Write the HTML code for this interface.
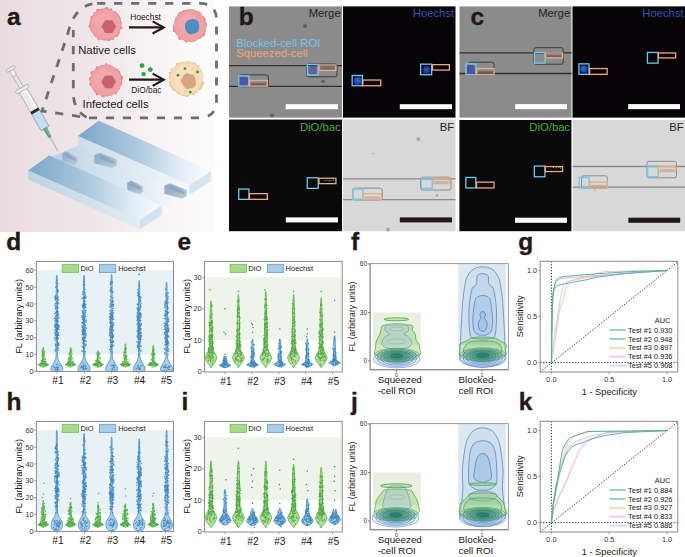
<!DOCTYPE html>
<html><head><meta charset="utf-8"><style>
html,body{margin:0;padding:0;background:#fff;}
svg{display:block;}
text{font-family:"Liberation Sans", sans-serif;}
</style></head><body>
<svg width="685" height="557" viewBox="0 0 685 557">
<defs>
<linearGradient id="bgA" x1="0" y1="0" x2="1" y2="0"><stop offset="0" stop-color="#e9dce0"/><stop offset="0.45" stop-color="#f0e7e9"/><stop offset="0.8" stop-color="#f9f6f7"/><stop offset="1" stop-color="#fdfcfc"/></linearGradient>
<linearGradient id="barTop" x1="0" y1="0" x2="1" y2="0"><stop offset="0" stop-color="#8fb6d2"/><stop offset="1" stop-color="#eef4f8"/></linearGradient>
<linearGradient id="barSide" x1="0" y1="0" x2="1" y2="0"><stop offset="0" stop-color="#b7d0e2"/><stop offset="1" stop-color="#f4f8fb"/></linearGradient>
<linearGradient id="floor" x1="0" y1="0" x2="1" y2="0"><stop offset="0" stop-color="#c4d9e8"/><stop offset="1" stop-color="#f4f8fb"/></linearGradient>
<radialGradient id="nucB" cx="0.45" cy="0.45" r="0.55"><stop offset="0" stop-color="#3a6ae0"/><stop offset="0.6" stop-color="#2550b8"/><stop offset="1" stop-color="#1a3a90"/></radialGradient>
</defs>
<rect x="0.00" y="0.00" width="214.00" height="232.00" fill="url(#bgA)" stroke="none" stroke-width="1" />
<rect x="229.00" y="6.40" width="113.00" height="111.20" fill="#8b8b8b" stroke="none" stroke-width="1" />
<line x1="229.00" y1="65.60" x2="342.00" y2="65.60" stroke="#2e2e2e" stroke-width="1.3" />
<line x1="229.00" y1="86.40" x2="342.00" y2="86.40" stroke="#2e2e2e" stroke-width="1.3" />
<rect x="238.9" y="74.9" width="29.4" height="11.8" rx="2.2" fill="none" stroke="#3a3a3a" stroke-width="1"/>
<rect x="306.5" y="64.0" width="30.5" height="12.8" rx="2.2" fill="none" stroke="#3a3a3a" stroke-width="1"/>
<rect x="250.8" y="83.1" width="15.2" height="2.3" fill="#4a4a4a" opacity="0.55"/>
<rect x="320.4" y="67.5" width="14.2" height="2.2" fill="#4a4a4a" opacity="0.55"/>
<circle cx="305.0" cy="26.0" r="2.0" fill="#555" opacity="0.8"/>
<circle cx="323.0" cy="81.4" r="1.8" fill="#555" opacity="0.8"/>
<circle cx="272.0" cy="115.4" r="2" fill="#555" opacity="0.8"/>
<rect x="239.5" y="76.7" width="8.6" height="8.6" rx="2.3" fill="#4446b4" opacity="0.80"/>
<rect x="308.6" y="65.9" width="8.2" height="8.2" rx="2.2" fill="#4446b4" opacity="0.60"/>
<text x="340.70" y="17.40" font-size="11.3" fill="#2b2020" text-anchor="end" font-weight="normal" >Merge</text>
<rect x="285.80" y="104.20" width="52.20" height="5.00" fill="#ffffff" stroke="none" stroke-width="1" />
<rect x="238.75" y="75.85" width="10.20" height="10.30" fill="none" stroke="#6ec8ef" stroke-width="1.3" />
<rect x="249.45" y="80.45" width="17.90" height="5.70" fill="none" stroke="#f0a77c" stroke-width="1.3" />
<rect x="307.25" y="64.55" width="11.00" height="10.60" fill="none" stroke="#6ec8ef" stroke-width="1.3" />
<rect x="319.05" y="65.05" width="16.90" height="5.40" fill="none" stroke="#f0a77c" stroke-width="1.3" />
<rect x="343.00" y="6.40" width="112.50" height="111.20" fill="#060406" stroke="none" stroke-width="1" />
<circle cx="357.8" cy="81.0" r="4.9" fill="#142a70" opacity="0.90"/>
<circle cx="357.8" cy="81.0" r="3.7" fill="url(#nucB)" opacity="1.00"/>
<circle cx="426.7" cy="70.0" r="4.7" fill="#142a70" opacity="0.68"/>
<circle cx="426.7" cy="70.0" r="3.5" fill="url(#nucB)" opacity="0.75"/>
<text x="454.20" y="17.40" font-size="11.3" fill="#2f55b0" text-anchor="end" font-weight="normal" >Hoechst</text>
<rect x="399.80" y="104.20" width="52.20" height="5.00" fill="#ffffff" stroke="none" stroke-width="1" />
<rect x="352.15" y="75.45" width="10.20" height="10.30" fill="none" stroke="#6ec8ef" stroke-width="1.3" />
<rect x="362.85" y="80.05" width="17.90" height="5.70" fill="none" stroke="#f0a77c" stroke-width="1.3" />
<rect x="420.65" y="64.15" width="11.00" height="10.60" fill="none" stroke="#6ec8ef" stroke-width="1.3" />
<rect x="432.45" y="64.65" width="16.90" height="5.40" fill="none" stroke="#f0a77c" stroke-width="1.3" />
<rect x="229.00" y="119.60" width="113.00" height="111.60" fill="#080908" stroke="none" stroke-width="1" />
<circle cx="325.0" cy="180.6" r="0.7" fill="#3fbf3a"/>
<circle cx="327.0" cy="180.1" r="0.7" fill="#3fbf3a"/>
<circle cx="329.0" cy="180.8" r="0.7" fill="#3fbf3a"/>
<circle cx="331.0" cy="180.6" r="0.7" fill="#3fbf3a"/>
<circle cx="333.5" cy="180.2" r="0.7" fill="#3fbf3a"/>
<text x="340.70" y="130.60" font-size="11.3" fill="#4caf36" text-anchor="end" font-weight="normal" >DiO/bac</text>
<rect x="285.80" y="217.40" width="52.20" height="5.00" fill="#ffffff" stroke="none" stroke-width="1" />
<rect x="238.75" y="189.05" width="10.20" height="10.30" fill="none" stroke="#6ec8ef" stroke-width="1.3" />
<rect x="249.45" y="193.65" width="17.90" height="5.70" fill="none" stroke="#f0a77c" stroke-width="1.3" />
<rect x="307.25" y="177.75" width="11.00" height="10.60" fill="none" stroke="#6ec8ef" stroke-width="1.3" />
<rect x="319.05" y="178.25" width="16.90" height="5.40" fill="none" stroke="#f0a77c" stroke-width="1.3" />
<rect x="343.00" y="119.60" width="112.50" height="111.60" fill="#d8d8d8" stroke="none" stroke-width="1" />
<line x1="343.00" y1="178.80" x2="455.50" y2="178.80" stroke="#8a8a8a" stroke-width="1.3" />
<line x1="343.00" y1="199.60" x2="455.50" y2="199.60" stroke="#8a8a8a" stroke-width="1.3" />
<rect x="352.9" y="188.1" width="29.4" height="11.8" rx="2.2" fill="none" stroke="#8c8c8c" stroke-width="1"/>
<rect x="420.5" y="177.2" width="30.5" height="12.8" rx="2.2" fill="none" stroke="#8c8c8c" stroke-width="1"/>
<rect x="364.8" y="196.3" width="15.2" height="2.3" fill="#a0a0a0" opacity="0.55"/>
<rect x="434.4" y="180.8" width="14.2" height="2.2" fill="#a0a0a0" opacity="0.55"/>
<circle cx="418.3" cy="139.1" r="1.9" fill="#9a9a9a" opacity="0.8"/>
<circle cx="437.0" cy="195.6" r="1.4" fill="#9a9a9a" opacity="0.8"/>
<circle cx="388.0" cy="229.6" r="2" fill="#9a9a9a" opacity="0.8"/>
<circle cx="373.0" cy="153.6" r="0.8" fill="#9a9a9a" opacity="0.8"/>
<text x="454.20" y="130.60" font-size="11.3" fill="#2b2020" text-anchor="end" font-weight="normal" >BF</text>
<rect x="399.80" y="217.40" width="52.20" height="5.00" fill="#231815" stroke="none" stroke-width="1" />
<rect x="352.75" y="189.05" width="10.20" height="10.30" fill="none" stroke="#6ec8ef" stroke-width="1.3" />
<rect x="363.45" y="193.65" width="17.90" height="5.70" fill="none" stroke="#f0a77c" stroke-width="1.3" />
<rect x="421.25" y="177.75" width="11.00" height="10.60" fill="none" stroke="#6ec8ef" stroke-width="1.3" />
<rect x="433.05" y="178.25" width="16.90" height="5.40" fill="none" stroke="#f0a77c" stroke-width="1.3" />
<rect x="459.50" y="6.40" width="112.00" height="111.20" fill="#8b8b8b" stroke="none" stroke-width="1" />
<line x1="459.50" y1="52.90" x2="571.50" y2="52.90" stroke="#2e2e2e" stroke-width="1.3" />
<line x1="459.50" y1="73.50" x2="571.50" y2="73.50" stroke="#2e2e2e" stroke-width="1.3" />
<rect x="468.4" y="62.2" width="25.7" height="12.3" rx="2.2" fill="none" stroke="#3a3a3a" stroke-width="1"/>
<rect x="533.8" y="47.7" width="29.5" height="16.5" rx="2.2" fill="none" stroke="#3a3a3a" stroke-width="1"/>
<rect x="478.0" y="71.2" width="14.8" height="2.3" fill="#4a4a4a" opacity="0.55"/>
<rect x="546.7" y="55.2" width="14.6" height="2.0" fill="#4a4a4a" opacity="0.55"/>
<rect x="466.9" y="65.0" width="8.2" height="8.2" rx="2.2" fill="#4446b4" opacity="0.80"/>
<text x="570.20" y="17.40" font-size="11.3" fill="#2b2020" text-anchor="end" font-weight="normal" >Merge</text>
<rect x="515.20" y="104.10" width="51.80" height="5.10" fill="#ffffff" stroke="none" stroke-width="1" />
<rect x="465.95" y="63.85" width="10.00" height="10.50" fill="none" stroke="#6ec8ef" stroke-width="1.3" />
<rect x="476.65" y="68.55" width="17.50" height="5.80" fill="none" stroke="#f0a77c" stroke-width="1.3" />
<rect x="534.45" y="52.45" width="10.60" height="10.70" fill="none" stroke="#6ec8ef" stroke-width="1.3" />
<rect x="545.35" y="52.95" width="17.30" height="5.00" fill="none" stroke="#f0a77c" stroke-width="1.3" />
<rect x="572.50" y="6.40" width="112.50" height="111.20" fill="#060406" stroke="none" stroke-width="1" />
<circle cx="584.0" cy="69.1" r="4.7" fill="#142a70" opacity="0.90"/>
<circle cx="584.0" cy="69.1" r="3.5" fill="url(#nucB)" opacity="1.00"/>
<text x="683.70" y="17.40" font-size="11.3" fill="#2f55b0" text-anchor="end" font-weight="normal" >Hoechst</text>
<rect x="628.20" y="104.10" width="51.80" height="5.10" fill="#ffffff" stroke="none" stroke-width="1" />
<rect x="578.95" y="63.85" width="10.00" height="10.50" fill="none" stroke="#6ec8ef" stroke-width="1.3" />
<rect x="589.65" y="68.55" width="17.50" height="5.80" fill="none" stroke="#f0a77c" stroke-width="1.3" />
<rect x="647.45" y="52.45" width="10.60" height="10.70" fill="none" stroke="#6ec8ef" stroke-width="1.3" />
<rect x="658.35" y="52.95" width="17.30" height="5.00" fill="none" stroke="#f0a77c" stroke-width="1.3" />
<rect x="459.40" y="120.00" width="112.00" height="111.20" fill="#080908" stroke="none" stroke-width="1" />
<circle cx="553.4" cy="167.5" r="0.7" fill="#3fbf3a"/>
<circle cx="556.4" cy="167.8" r="0.7" fill="#3fbf3a"/>
<circle cx="558.9" cy="167.2" r="0.7" fill="#3fbf3a"/>
<circle cx="560.4" cy="168.0" r="0.7" fill="#3fbf3a"/>
<text x="570.10" y="131.00" font-size="11.3" fill="#4caf36" text-anchor="end" font-weight="normal" >DiO/bac</text>
<rect x="515.10" y="217.70" width="51.80" height="5.10" fill="#ffffff" stroke="none" stroke-width="1" />
<rect x="465.85" y="177.45" width="10.00" height="10.50" fill="none" stroke="#6ec8ef" stroke-width="1.3" />
<rect x="476.55" y="182.15" width="17.50" height="5.80" fill="none" stroke="#f0a77c" stroke-width="1.3" />
<rect x="534.35" y="166.05" width="10.60" height="10.70" fill="none" stroke="#6ec8ef" stroke-width="1.3" />
<rect x="545.25" y="166.55" width="17.30" height="5.00" fill="none" stroke="#f0a77c" stroke-width="1.3" />
<rect x="572.70" y="120.00" width="112.30" height="111.20" fill="#d8d8d8" stroke="none" stroke-width="1" />
<line x1="572.70" y1="166.50" x2="685.00" y2="166.50" stroke="#8a8a8a" stroke-width="1.3" />
<line x1="572.70" y1="187.10" x2="685.00" y2="187.10" stroke="#8a8a8a" stroke-width="1.3" />
<rect x="581.6" y="175.8" width="25.7" height="12.3" rx="2.2" fill="none" stroke="#8c8c8c" stroke-width="1"/>
<rect x="647.0" y="161.3" width="29.5" height="16.5" rx="2.2" fill="none" stroke="#8c8c8c" stroke-width="1"/>
<rect x="591.2" y="184.9" width="14.8" height="2.3" fill="#a0a0a0" opacity="0.55"/>
<rect x="659.9" y="168.9" width="14.6" height="1.9" fill="#a0a0a0" opacity="0.55"/>
<circle cx="594.7" cy="190.0" r="0.8" fill="#9a9a9a" opacity="0.8"/>
<text x="683.70" y="131.00" font-size="11.3" fill="#2b2020" text-anchor="end" font-weight="normal" >BF</text>
<rect x="628.40" y="217.70" width="51.80" height="5.10" fill="#231815" stroke="none" stroke-width="1" />
<rect x="579.15" y="177.45" width="10.00" height="10.50" fill="none" stroke="#6ec8ef" stroke-width="1.3" />
<rect x="589.85" y="182.15" width="17.50" height="5.80" fill="none" stroke="#f0a77c" stroke-width="1.3" />
<rect x="647.65" y="166.05" width="10.60" height="10.70" fill="none" stroke="#6ec8ef" stroke-width="1.3" />
<rect x="658.55" y="166.55" width="17.30" height="5.00" fill="none" stroke="#f0a77c" stroke-width="1.3" />
<text x="236.20" y="47.30" font-size="11.3" fill="#72c6ec" text-anchor="start" font-weight="normal" >Blocked-cell ROI</text>
<text x="236.20" y="56.60" font-size="11.3" fill="#eea679" text-anchor="start" font-weight="normal" >Squeezed-cell</text>
<text x="7.00" y="25.00" font-size="24.5" fill="#231815" text-anchor="start" font-weight="bold" stroke="#231815" stroke-width="0.35">a</text>
<text x="238.70" y="25.00" font-size="24.5" fill="#231815" text-anchor="start" font-weight="bold" stroke="#231815" stroke-width="0.35">b</text>
<text x="470.60" y="25.00" font-size="24.5" fill="#231815" text-anchor="start" font-weight="bold" stroke="#231815" stroke-width="0.35">c</text>
<text x="6.30" y="250.00" font-size="24.5" fill="#231815" text-anchor="start" font-weight="bold" stroke="#231815" stroke-width="0.35">d</text>
<text x="177.50" y="250.00" font-size="24.5" fill="#231815" text-anchor="start" font-weight="bold" stroke="#231815" stroke-width="0.35">e</text>
<text x="350.90" y="250.00" font-size="24.5" fill="#231815" text-anchor="start" font-weight="bold" stroke="#231815" stroke-width="0.35">f</text>
<text x="518.20" y="250.00" font-size="24.5" fill="#231815" text-anchor="start" font-weight="bold" stroke="#231815" stroke-width="0.35">g</text>
<text x="6.50" y="410.00" font-size="24.5" fill="#231815" text-anchor="start" font-weight="bold" stroke="#231815" stroke-width="0.35">h</text>
<text x="181.40" y="410.00" font-size="24.5" fill="#231815" text-anchor="start" font-weight="bold" stroke="#231815" stroke-width="0.35">i</text>
<text x="351.00" y="410.00" font-size="24.5" fill="#231815" text-anchor="start" font-weight="bold" stroke="#231815" stroke-width="0.35">j</text>
<text x="518.70" y="410.00" font-size="24.5" fill="#231815" text-anchor="start" font-weight="bold" stroke="#231815" stroke-width="0.35">k</text>
<rect x="36.90" y="270.20" width="136.10" height="84.25" fill="#e8f1f5" stroke="none" stroke-width="1" />
<path d="M61.30 371.47 L62.60 370.46 L62.80 368.77 L62.40 367.09 L61.00 364.56 L59.40 362.03 L58.20 359.50 L57.60 356.98 L57.40 352.76 L57.50 337.60 L57.50 303.90 L57.20 276.94 L56.80 275.25 L56.80 275.25 L56.40 276.94 L56.10 303.90 L56.10 337.60 L56.20 352.76 L56.00 356.98 L55.40 359.50 L54.20 362.03 L52.60 364.56 L51.20 367.09 L50.80 368.77 L51.00 370.46 L52.30 371.47Z" fill="#a9cde9" stroke="#4a8fc7" stroke-width="0.8" fill-opacity="1.0"/>
<path d="M58.3 321.6h.01M58.6 326.2h.01M56.7 320.2h.01M56.0 324.0h.01M55.5 307.6h.01M57.6 368.2h.01M58.7 314.2h.01M54.3 367.2h.01M57.7 289.6h.01M54.6 318.7h.01M55.5 351.0h.01M55.6 346.0h.01M57.6 335.6h.01M55.7 369.7h.01M56.1 323.6h.01M57.3 324.6h.01M55.0 326.6h.01M57.3 280.2h.01M55.2 303.9h.01M56.8 332.7h.01M55.7 333.7h.01M54.8 367.5h.01M56.9 329.1h.01M56.5 329.7h.01M56.3 303.3h.01M56.2 367.0h.01M56.9 286.4h.01M55.3 344.9h.01M55.5 308.6h.01M57.4 343.8h.01M57.3 289.7h.01M56.9 341.8h.01M58.4 342.9h.01M57.4 364.3h.01M58.4 338.6h.01M55.6 327.0h.01M57.9 311.8h.01M58.2 317.1h.01M58.6 328.2h.01M56.0 334.5h.01M56.0 306.8h.01M58.5 299.8h.01M55.5 329.4h.01M59.1 317.3h.01M57.9 283.9h.01M55.2 335.0h.01M55.6 332.1h.01M57.8 344.9h.01M55.2 369.0h.01M55.0 330.3h.01M58.0 290.6h.01M56.4 320.9h.01M58.1 338.3h.01M55.3 297.3h.01M56.4 335.3h.01M57.6 311.3h.01M54.6 337.7h.01M55.6 300.1h.01M57.6 328.2h.01M58.6 347.9h.01M58.9 335.8h.01M55.1 335.0h.01M56.8 319.7h.01M58.0 338.7h.01M56.8 345.2h.01M57.7 321.7h.01M55.4 318.8h.01M55.1 296.3h.01M55.1 350.8h.01M54.7 327.1h.01M57.2 368.6h.01M56.9 330.5h.01M57.1 341.0h.01M55.4 299.2h.01M55.4 316.4h.01M55.4 320.4h.01M58.3 348.3h.01M59.8 365.7h.01M58.7 350.1h.01M55.0 325.4h.01M54.8 332.5h.01M58.8 344.7h.01M56.6 311.5h.01M58.0 311.5h.01M56.1 307.6h.01M56.7 331.2h.01M56.9 298.2h.01M56.5 328.4h.01M57.2 301.8h.01M54.6 318.2h.01M57.7 320.5h.01M58.3 344.3h.01M56.0 282.4h.01M56.6 312.1h.01M57.8 311.6h.01M56.4 327.3h.01M55.4 344.1h.01M55.3 348.9h.01M56.9 325.5h.01M54.6 313.9h.01M58.6 318.8h.01M58.2 335.1h.01M58.1 369.3h.01M58.4 315.2h.01M57.4 339.0h.01M56.4 316.2h.01M57.2 299.1h.01M56.8 315.9h.01M59.0 327.8h.01M58.0 296.7h.01M55.7 329.8h.01M58.7 332.6h.01M57.9 324.7h.01M58.0 303.1h.01M57.9 292.0h.01M56.4 339.0h.01M58.6 334.3h.01M58.5 328.5h.01M57.7 324.9h.01M57.9 304.0h.01M58.0 326.8h.01M56.3 364.6h.01M58.3 367.3h.01M54.8 321.1h.01M56.1 307.7h.01M56.6 366.7h.01M53.6 366.5h.01M56.2 335.8h.01M57.4 347.1h.01M57.4 327.1h.01M55.6 316.5h.01M58.3 290.7h.01M57.5 337.5h.01M56.1 338.5h.01M57.6 370.6h.01M57.1 334.4h.01M56.9 314.0h.01M56.3 318.8h.01M59.1 329.4h.01M57.4 297.6h.01M58.1 367.5h.01M58.0 312.4h.01M59.0 326.7h.01M54.9 297.2h.01M57.3 321.2h.01M57.8 307.3h.01M55.7 326.3h.01M56.4 337.3h.01M54.9 305.6h.01M55.5 312.7h.01M56.3 298.2h.01M55.6 287.1h.01M55.7 307.7h.01M58.4 297.1h.01M57.0 331.3h.01M56.8 369.9h.01M58.9 325.2h.01M57.2 367.2h.01M59.0 345.6h.01M57.4 338.8h.01M58.1 308.0h.01M54.9 340.1h.01M57.2 312.4h.01M58.0 314.5h.01M54.7 324.9h.01M58.7 343.9h.01M55.2 323.3h.01M56.7 312.0h.01M55.3 323.5h.01M56.8 321.6h.01M57.3 329.9h.01M55.0 298.2h.01M58.7 303.0h.01M56.4 323.4h.01M56.9 337.5h.01M57.2 324.4h.01M56.2 349.2h.01M55.8 323.8h.01M57.5 307.0h.01M57.1 325.0h.01M55.8 345.4h.01M57.8 328.5h.01M56.0 295.6h.01M54.6 325.8h.01M55.6 327.6h.01" stroke="#2f7fc1" stroke-width="1.40" stroke-linecap="round" fill="none" opacity="0.85"/>
<path d="M43.30 367.59 L44.70 366.25 L47.50 365.23 L48.90 364.56 L47.50 363.89 L44.80 362.88 L44.10 361.19 L43.60 347.71 L43.30 347.04 L43.30 347.04 L43.00 347.71 L42.50 361.19 L41.80 362.88 L39.10 363.89 L37.70 364.56 L39.10 365.23 L41.90 366.25 L43.30 367.59Z" fill="#b3dd98" stroke="#5db54a" stroke-width="0.8" fill-opacity="1.0"/>
<path d="M43.7 363.8h.01M44.2 353.3h.01M39.8 365.3h.01M42.1 351.9h.01M44.9 363.4h.01M45.5 361.0h.01M42.3 350.6h.01M43.9 366.5h.01M41.4 360.6h.01M44.2 355.3h.01M44.7 364.3h.01M41.9 360.7h.01M40.7 364.8h.01M45.7 365.0h.01M43.4 357.9h.01M45.0 362.8h.01M42.7 361.1h.01M42.5 359.8h.01M44.6 351.5h.01M44.4 363.1h.01M43.2 364.6h.01M43.4 355.9h.01M44.6 361.8h.01M45.2 365.0h.01M45.3 358.4h.01M42.7 363.6h.01M45.7 365.6h.01M43.8 352.8h.01M46.0 365.5h.01M46.3 364.7h.01M46.6 364.5h.01M46.9 364.9h.01M46.6 363.7h.01M44.0 359.5h.01M43.4 361.7h.01M44.7 363.4h.01M46.3 364.6h.01M42.9 366.2h.01M42.6 364.1h.01M40.9 363.3h.01M44.9 362.9h.01M46.2 361.7h.01M43.1 349.5h.01M40.9 365.7h.01M42.1 356.6h.01M42.9 361.0h.01M41.2 364.6h.01M47.7 364.8h.01M39.8 365.5h.01M42.1 362.5h.01M39.7 364.9h.01M44.6 364.9h.01M45.9 364.8h.01M40.2 364.8h.01M40.4 365.8h.01M43.0 365.4h.01M44.1 364.3h.01M45.3 359.3h.01M42.0 352.0h.01M41.1 360.9h.01M41.3 362.4h.01M41.4 363.5h.01M42.5 352.2h.01M44.7 363.0h.01M43.9 361.7h.01M41.7 361.4h.01M41.2 363.5h.01M42.5 355.6h.01M42.1 354.8h.01M45.2 363.7h.01M42.7 353.8h.01M43.6 363.6h.01M44.9 359.3h.01M43.2 358.1h.01M41.2 365.0h.01" stroke="#3fa535" stroke-width="1.40" stroke-linecap="round" fill="none" opacity="0.8"/>
<path d="M88.60 371.47 L89.90 370.46 L90.10 368.77 L89.70 367.09 L88.30 364.56 L86.70 362.03 L85.50 359.50 L84.90 356.98 L84.70 352.76 L84.80 337.60 L84.80 303.90 L84.50 276.94 L84.10 275.25 L84.10 275.25 L83.70 276.94 L83.40 303.90 L83.40 337.60 L83.50 352.76 L83.30 356.98 L82.70 359.50 L81.50 362.03 L79.90 364.56 L78.50 367.09 L78.10 368.77 L78.30 370.46 L79.60 371.47Z" fill="#a9cde9" stroke="#4a8fc7" stroke-width="0.8" fill-opacity="1.0"/>
<path d="M85.9 296.7h.01M82.6 322.3h.01M85.4 325.4h.01M82.6 346.8h.01M84.6 307.0h.01M82.9 323.2h.01M83.8 334.3h.01M85.3 316.4h.01M85.3 351.8h.01M85.4 330.3h.01M82.9 313.0h.01M84.1 339.6h.01M82.8 332.4h.01M84.4 301.3h.01M84.1 317.5h.01M82.0 334.6h.01M84.5 340.0h.01M84.9 354.6h.01M84.4 303.4h.01M85.8 344.2h.01M82.7 312.8h.01M81.8 367.6h.01M81.9 326.0h.01M84.1 320.2h.01M83.8 333.2h.01M83.8 328.4h.01M83.0 343.6h.01M85.4 337.1h.01M82.1 323.3h.01M85.8 304.5h.01M84.4 332.9h.01M84.4 368.6h.01M85.4 330.8h.01M82.9 342.6h.01M82.5 326.4h.01M83.3 304.7h.01M82.1 351.5h.01M83.3 313.2h.01M84.7 321.4h.01M84.2 351.9h.01M83.1 307.1h.01M84.5 318.7h.01M82.2 330.1h.01M85.5 333.4h.01M82.6 329.5h.01M83.0 335.0h.01M82.6 311.8h.01M84.8 292.7h.01M85.6 312.3h.01M85.3 305.0h.01M81.3 366.2h.01M83.7 343.3h.01M83.5 313.3h.01M82.8 329.0h.01M86.3 319.9h.01M81.0 367.8h.01M84.1 328.8h.01M85.8 367.0h.01M86.3 327.9h.01M82.5 316.9h.01M83.9 305.4h.01M85.2 332.0h.01M82.1 351.0h.01M82.9 313.8h.01M85.8 307.8h.01M82.5 319.1h.01M83.4 368.7h.01M83.2 342.6h.01M83.8 324.1h.01M82.3 305.1h.01M82.0 339.6h.01M86.1 297.9h.01M85.3 331.1h.01M85.1 340.5h.01M83.3 284.7h.01M83.0 312.9h.01M84.3 337.6h.01M82.9 318.1h.01M83.9 344.1h.01M86.1 320.8h.01M83.5 332.1h.01M83.4 330.8h.01M86.2 341.5h.01M84.6 340.8h.01M82.0 322.5h.01M83.7 321.6h.01M84.7 297.2h.01M82.2 305.7h.01M83.4 341.5h.01M85.0 333.8h.01M85.7 335.7h.01M84.5 304.7h.01M85.9 322.2h.01M83.9 366.6h.01M83.4 365.8h.01M85.6 316.3h.01M83.6 315.6h.01M85.4 329.9h.01M82.9 306.8h.01M83.3 363.4h.01M82.7 326.1h.01M84.3 329.7h.01M82.6 338.8h.01M82.8 334.7h.01M82.8 332.0h.01M84.0 348.0h.01M83.2 340.3h.01M83.9 319.5h.01M86.3 328.6h.01M84.9 314.5h.01M85.7 310.5h.01M83.4 281.9h.01M83.6 302.6h.01M82.2 327.6h.01M84.9 297.7h.01M83.5 323.4h.01M83.2 297.8h.01M82.0 346.4h.01M82.8 298.2h.01M83.0 319.7h.01M83.6 333.1h.01M86.0 345.1h.01M85.1 327.0h.01M83.0 329.3h.01M83.1 368.6h.01M82.5 333.0h.01M86.1 335.9h.01M83.3 369.9h.01M85.0 289.3h.01M85.0 301.6h.01M85.8 306.7h.01M82.0 310.8h.01M83.4 297.9h.01M83.3 367.7h.01M82.6 291.9h.01M86.8 368.8h.01M83.3 333.3h.01M85.3 345.7h.01M84.2 305.9h.01M82.1 331.0h.01M83.6 347.2h.01M82.4 366.8h.01M82.3 294.3h.01M82.5 325.9h.01M84.5 333.5h.01M82.2 298.6h.01M83.3 304.1h.01M83.8 325.9h.01M84.3 300.3h.01M82.5 337.4h.01M85.0 337.9h.01M83.0 346.8h.01M85.1 312.2h.01M84.8 298.2h.01M82.5 313.0h.01M82.8 314.1h.01M83.1 327.1h.01M85.6 368.8h.01M83.7 333.0h.01M83.6 337.7h.01M85.7 335.9h.01M82.9 307.8h.01M83.2 316.1h.01M83.4 320.1h.01M82.8 333.3h.01M82.0 315.8h.01M82.0 317.4h.01M84.9 366.1h.01M84.4 323.1h.01M86.2 368.1h.01M86.2 333.9h.01M83.2 306.8h.01M85.3 368.5h.01M86.0 334.1h.01M82.8 338.2h.01M84.6 284.4h.01M85.1 365.2h.01M86.1 310.6h.01M85.5 294.9h.01M82.9 338.5h.01M84.7 317.1h.01M82.3 316.3h.01M83.8 323.8h.01M83.6 303.4h.01M82.1 323.6h.01" stroke="#2f7fc1" stroke-width="1.40" stroke-linecap="round" fill="none" opacity="0.85"/>
<path d="M70.60 367.59 L72.00 366.25 L74.80 365.23 L76.20 364.56 L74.80 363.89 L72.10 362.88 L71.40 361.19 L70.90 347.71 L70.60 347.04 L70.60 347.04 L70.30 347.71 L69.80 361.19 L69.10 362.88 L66.40 363.89 L65.00 364.56 L66.40 365.23 L69.20 366.25 L70.60 367.59Z" fill="#b3dd98" stroke="#5db54a" stroke-width="0.8" fill-opacity="1.0"/>
<path d="M69.6 362.1h.01M67.6 362.7h.01M70.9 365.3h.01M70.5 364.0h.01M69.8 363.1h.01M68.9 365.0h.01M72.9 363.8h.01M72.1 357.3h.01M69.7 357.4h.01M69.7 365.2h.01M71.6 364.1h.01M72.9 365.2h.01M73.0 359.0h.01M69.9 362.2h.01M72.1 363.8h.01M70.8 359.3h.01M73.5 364.4h.01M68.1 363.6h.01M69.0 358.6h.01M68.3 361.8h.01M71.8 351.9h.01M69.4 358.5h.01M70.5 361.2h.01M68.2 362.7h.01M70.0 353.8h.01M69.1 353.0h.01M71.1 363.9h.01M67.9 363.8h.01M70.9 350.4h.01M68.5 364.3h.01M68.8 363.1h.01M70.5 364.0h.01M69.8 361.4h.01M69.0 365.8h.01M68.5 358.5h.01M69.0 354.9h.01M73.0 362.1h.01M68.7 364.5h.01M68.0 362.3h.01M69.2 357.4h.01M70.6 351.1h.01M74.5 363.9h.01M69.0 360.3h.01M72.8 361.7h.01M70.4 364.6h.01M70.0 365.6h.01M73.5 364.8h.01M69.7 364.2h.01M66.8 364.1h.01M70.9 363.5h.01M71.8 363.8h.01M71.1 356.1h.01M68.9 363.8h.01M72.1 354.1h.01M74.2 364.6h.01M73.4 361.4h.01M70.2 362.9h.01M72.6 362.2h.01M72.1 363.6h.01M69.4 354.7h.01M68.2 359.3h.01M69.2 357.2h.01M69.2 355.0h.01M66.8 364.2h.01M70.0 357.8h.01M73.1 364.5h.01M70.1 352.0h.01M70.7 364.1h.01M67.9 361.1h.01M68.9 361.4h.01M71.5 349.6h.01M65.9 364.4h.01M70.9 364.3h.01M73.5 364.9h.01M73.3 364.3h.01" stroke="#3fa535" stroke-width="1.40" stroke-linecap="round" fill="none" opacity="0.8"/>
<path d="M116.10 371.47 L117.40 370.46 L117.60 368.77 L117.20 367.09 L115.80 364.56 L114.20 362.03 L113.00 359.50 L112.40 356.98 L112.20 352.76 L112.30 337.60 L112.30 303.90 L112.00 276.10 L111.60 274.41 L111.60 274.41 L111.20 276.10 L110.90 303.90 L110.90 337.60 L111.00 352.76 L110.80 356.98 L110.20 359.50 L109.00 362.03 L107.40 364.56 L106.00 367.09 L105.60 368.77 L105.80 370.46 L107.10 371.47Z" fill="#a9cde9" stroke="#4a8fc7" stroke-width="0.8" fill-opacity="1.0"/>
<path d="M111.7 329.0h.01M112.7 304.4h.01M110.3 284.2h.01M110.1 291.3h.01M110.5 313.1h.01M110.7 296.6h.01M113.4 365.3h.01M111.3 336.2h.01M113.2 330.3h.01M111.2 305.8h.01M110.6 317.1h.01M112.4 334.0h.01M109.7 332.3h.01M114.7 369.3h.01M113.0 310.7h.01M110.8 314.7h.01M110.8 342.5h.01M113.0 331.1h.01M112.8 352.1h.01M112.2 328.8h.01M109.6 322.5h.01M112.8 337.2h.01M109.6 332.3h.01M112.2 342.4h.01M111.8 327.6h.01M113.5 336.5h.01M112.2 313.1h.01M109.4 334.2h.01M113.2 291.7h.01M112.7 338.2h.01M111.8 283.1h.01M109.4 317.3h.01M112.7 316.8h.01M111.2 318.4h.01M112.3 301.9h.01M113.8 324.1h.01M113.5 342.0h.01M109.7 314.1h.01M112.9 315.6h.01M111.3 329.6h.01M112.7 319.2h.01M111.0 323.6h.01M111.3 365.5h.01M111.3 326.8h.01M109.9 319.5h.01M110.8 339.8h.01M112.2 281.9h.01M109.7 332.6h.01M110.6 283.1h.01M113.0 300.9h.01M112.0 282.9h.01M111.8 335.9h.01M109.9 316.5h.01M110.0 304.3h.01M110.7 323.8h.01M113.6 345.5h.01M111.9 312.7h.01M113.4 306.1h.01M110.3 322.5h.01M111.2 337.6h.01M111.8 316.8h.01M113.3 370.7h.01M109.9 335.5h.01M113.2 302.1h.01M111.5 321.9h.01M109.6 306.8h.01M111.3 330.4h.01M111.1 348.1h.01M112.3 301.2h.01M113.5 341.8h.01M111.6 329.4h.01M112.5 318.3h.01M111.1 344.9h.01M112.9 337.1h.01M110.0 300.1h.01M112.7 337.5h.01M110.1 327.6h.01M112.2 368.9h.01M110.3 332.5h.01M110.9 334.0h.01M110.1 313.8h.01M110.9 341.2h.01M112.0 325.9h.01M111.7 341.9h.01M111.1 318.7h.01M111.9 337.6h.01M113.1 314.0h.01M111.0 330.7h.01M112.0 328.6h.01M111.5 317.5h.01M113.6 305.0h.01M110.8 326.4h.01M112.3 292.6h.01M110.4 313.2h.01M110.5 320.3h.01M112.5 300.4h.01M111.9 302.1h.01M110.5 326.5h.01M109.6 329.5h.01M113.1 319.2h.01M111.1 345.5h.01M112.6 333.9h.01M111.4 290.6h.01M112.1 313.8h.01M111.9 335.4h.01M113.7 340.9h.01M113.4 335.1h.01M111.4 331.4h.01M111.5 302.5h.01M110.4 322.1h.01M113.3 367.4h.01M109.8 330.0h.01M110.7 315.3h.01M113.0 297.9h.01M109.6 349.8h.01M112.5 325.8h.01M111.9 326.0h.01M111.8 315.2h.01M111.1 287.8h.01M110.7 282.0h.01M113.5 304.3h.01M112.8 313.4h.01M113.0 345.3h.01M109.8 328.9h.01M112.9 336.6h.01M110.3 337.0h.01M110.3 340.3h.01M111.8 310.8h.01M112.4 368.4h.01M109.9 316.5h.01M112.8 310.7h.01M111.9 305.7h.01M113.3 308.4h.01M113.5 325.8h.01M112.7 365.4h.01M111.0 349.6h.01M113.7 322.6h.01M112.6 342.2h.01M110.7 333.1h.01M113.2 341.4h.01M112.6 341.1h.01M111.6 370.8h.01M110.5 333.4h.01M109.4 335.3h.01M111.8 346.4h.01M110.5 326.6h.01M110.7 326.3h.01M110.5 342.6h.01M110.0 339.7h.01M111.5 323.1h.01M110.6 318.6h.01M110.9 289.1h.01M110.7 351.8h.01M111.6 305.2h.01M113.2 312.7h.01M110.0 322.8h.01M114.0 366.8h.01M113.2 316.9h.01M112.1 347.1h.01M111.8 344.4h.01M112.6 342.1h.01M111.8 332.0h.01M112.3 316.2h.01M113.1 291.9h.01M112.9 324.3h.01M110.5 329.2h.01M109.7 310.9h.01M113.6 330.3h.01M111.0 325.4h.01M112.9 327.6h.01M110.4 346.8h.01M111.4 345.7h.01M111.0 322.0h.01M112.6 336.4h.01M114.5 367.0h.01M111.6 332.6h.01M111.9 336.0h.01M110.9 324.9h.01M111.6 370.8h.01M114.3 365.5h.01M110.3 289.6h.01M113.6 319.3h.01M112.3 333.1h.01M109.6 319.8h.01M113.4 324.4h.01" stroke="#2f7fc1" stroke-width="1.40" stroke-linecap="round" fill="none" opacity="0.85"/>
<path d="M98.10 367.59 L99.50 366.25 L102.30 365.23 L103.70 364.56 L102.30 363.89 L99.60 362.88 L98.90 361.19 L98.40 351.08 L98.10 350.41 L98.10 350.41 L97.80 351.08 L97.30 361.19 L96.60 362.88 L93.90 363.89 L92.50 364.56 L93.90 365.23 L96.70 366.25 L98.10 367.59Z" fill="#b3dd98" stroke="#5db54a" stroke-width="0.8" fill-opacity="1.0"/>
<path d="M95.2 365.0h.01M97.1 362.9h.01M94.3 365.3h.01M96.5 365.2h.01M95.1 364.7h.01M96.9 352.9h.01M98.2 356.5h.01M98.3 360.9h.01M98.7 365.1h.01M99.7 362.5h.01M98.3 363.8h.01M100.8 361.9h.01M94.4 365.0h.01M96.6 360.5h.01M95.8 360.5h.01M96.2 364.7h.01M100.3 365.2h.01M99.5 353.3h.01M98.1 355.0h.01M96.9 354.7h.01M97.0 363.4h.01M98.5 360.2h.01M97.0 359.9h.01M99.2 354.8h.01M100.0 366.7h.01M97.7 364.8h.01M98.8 363.1h.01M100.1 366.1h.01M97.8 363.9h.01M96.5 360.3h.01M100.0 357.3h.01M101.5 365.7h.01M94.3 363.9h.01M99.7 362.0h.01M97.7 366.8h.01M95.2 363.1h.01M94.9 364.4h.01M96.3 360.9h.01M100.2 365.0h.01M95.8 365.4h.01M94.1 364.0h.01M95.3 364.6h.01M100.0 362.7h.01M98.1 363.6h.01M99.1 363.3h.01M97.9 363.4h.01M95.6 363.9h.01M93.5 364.8h.01M97.1 359.2h.01M95.6 360.7h.01M96.2 363.8h.01M98.9 363.4h.01M97.6 366.8h.01M97.9 362.5h.01M98.5 352.5h.01M96.4 364.4h.01M97.5 357.7h.01M100.7 363.3h.01M98.6 362.3h.01M97.5 365.7h.01M98.3 357.1h.01M97.8 365.3h.01M97.1 362.3h.01M101.7 364.2h.01M95.6 364.8h.01M99.6 353.9h.01M100.3 362.6h.01M101.6 364.3h.01M96.9 354.4h.01M98.2 363.7h.01M100.4 358.5h.01M96.9 361.6h.01M94.8 364.5h.01M99.7 363.6h.01M95.8 365.1h.01" stroke="#3fa535" stroke-width="1.40" stroke-linecap="round" fill="none" opacity="0.8"/>
<path d="M143.70 371.47 L145.00 370.46 L145.20 368.77 L144.80 367.09 L143.40 364.56 L141.80 362.03 L140.60 359.50 L140.00 356.98 L139.80 352.76 L139.90 337.60 L139.90 303.90 L139.60 282.00 L139.20 280.31 L139.20 280.31 L138.80 282.00 L138.50 303.90 L138.50 337.60 L138.60 352.76 L138.40 356.98 L137.80 359.50 L136.60 362.03 L135.00 364.56 L133.60 367.09 L133.20 368.77 L133.40 370.46 L134.70 371.47Z" fill="#a9cde9" stroke="#4a8fc7" stroke-width="0.8" fill-opacity="1.0"/>
<path d="M140.1 340.1h.01M138.4 334.7h.01M139.0 368.5h.01M138.2 326.1h.01M139.5 325.4h.01M138.7 354.5h.01M138.6 335.2h.01M138.1 319.8h.01M138.3 344.0h.01M138.1 326.8h.01M137.5 292.8h.01M138.3 328.5h.01M139.8 369.4h.01M138.2 336.6h.01M137.5 310.0h.01M140.6 301.4h.01M139.1 329.1h.01M139.2 296.5h.01M138.3 326.8h.01M140.9 306.8h.01M140.3 332.5h.01M139.8 337.4h.01M139.9 309.6h.01M140.0 299.9h.01M139.2 310.0h.01M138.8 309.1h.01M138.7 339.2h.01M139.2 333.9h.01M139.1 299.6h.01M139.4 369.5h.01M139.4 320.8h.01M140.4 298.2h.01M140.9 345.9h.01M138.0 342.8h.01M137.2 304.3h.01M138.3 338.8h.01M137.1 312.6h.01M140.6 320.2h.01M139.7 314.5h.01M137.7 368.0h.01M137.8 311.9h.01M140.8 304.1h.01M140.6 296.8h.01M140.0 326.4h.01M140.1 332.0h.01M140.8 366.3h.01M139.0 318.6h.01M138.7 316.4h.01M139.4 333.5h.01M140.9 338.7h.01M141.4 316.9h.01M141.1 332.9h.01M140.6 300.5h.01M137.5 295.6h.01M138.2 294.0h.01M141.3 332.8h.01M139.4 325.0h.01M139.3 348.6h.01M138.3 324.4h.01M140.8 313.4h.01M139.3 338.1h.01M141.4 336.3h.01M137.3 345.5h.01M142.2 365.4h.01M137.0 324.8h.01M137.6 319.4h.01M138.7 329.9h.01M139.8 327.1h.01M137.5 342.1h.01M139.5 316.9h.01M141.2 323.5h.01M138.9 297.4h.01M140.4 335.9h.01M139.4 285.2h.01M139.6 338.6h.01M137.8 346.5h.01M139.0 323.7h.01M141.0 314.9h.01M140.0 333.3h.01M137.9 318.9h.01M139.0 327.9h.01M139.4 343.0h.01M138.6 295.2h.01M139.5 346.6h.01M140.1 368.2h.01M137.0 341.7h.01M137.9 322.7h.01M139.9 330.1h.01M137.9 317.1h.01M137.3 347.5h.01M140.4 341.7h.01M138.2 365.4h.01M141.2 350.9h.01M139.6 369.4h.01M137.6 295.4h.01M139.8 326.6h.01M138.1 333.5h.01M140.6 342.2h.01M140.2 337.2h.01M140.4 325.6h.01M137.2 330.2h.01M137.1 335.7h.01M140.5 315.6h.01M137.6 331.6h.01M137.8 328.0h.01M137.0 320.2h.01M137.7 333.9h.01M139.1 327.9h.01M141.1 303.6h.01M138.4 331.2h.01M138.4 291.6h.01M140.7 330.1h.01M137.8 313.7h.01M139.8 314.7h.01M139.7 318.5h.01M141.2 328.8h.01M137.1 337.0h.01M139.5 324.2h.01M138.7 332.5h.01M140.6 350.9h.01M138.1 312.1h.01M140.2 320.7h.01M137.8 330.3h.01M139.2 338.3h.01M141.3 346.3h.01M138.1 308.3h.01M138.2 330.5h.01M141.1 315.4h.01M140.0 313.3h.01M137.2 335.9h.01M137.8 323.2h.01M138.4 289.1h.01M138.3 311.1h.01M140.7 314.5h.01M140.1 335.0h.01M141.4 324.7h.01M140.0 339.7h.01M139.7 302.3h.01M138.7 334.5h.01M140.2 329.4h.01M139.2 321.1h.01M137.2 324.7h.01M139.2 322.8h.01M138.7 332.1h.01M139.3 345.1h.01M137.2 316.5h.01M137.2 307.8h.01M141.4 335.1h.01M138.6 324.3h.01M138.1 366.7h.01M137.6 318.4h.01M139.6 333.6h.01M140.9 298.0h.01M137.8 339.1h.01M139.2 344.3h.01M139.2 313.8h.01M140.4 326.5h.01M139.5 349.4h.01M138.1 305.3h.01M137.8 315.9h.01M140.2 332.7h.01M137.3 337.3h.01M140.8 333.5h.01M137.2 309.0h.01M137.8 320.9h.01M139.1 337.1h.01M140.8 320.4h.01M139.6 293.8h.01M140.3 328.6h.01M140.3 307.8h.01M140.2 317.4h.01M137.2 332.0h.01M140.7 337.4h.01M137.7 304.2h.01M137.7 331.6h.01M137.1 315.0h.01M136.0 368.1h.01M140.9 324.1h.01M138.7 343.7h.01M136.3 368.5h.01M137.8 289.7h.01M140.7 305.1h.01M139.9 367.7h.01M141.1 339.2h.01M137.1 317.9h.01" stroke="#2f7fc1" stroke-width="1.40" stroke-linecap="round" fill="none" opacity="0.85"/>
<path d="M139.2 274.4h.01" stroke="#2f7fc1" stroke-width="1.60" stroke-linecap="round" fill="none" opacity="1.0"/>
<path d="M125.40 367.59 L126.80 366.25 L129.60 365.23 L131.00 364.56 L129.60 363.89 L126.90 362.88 L126.20 361.19 L125.70 344.34 L125.40 343.67 L125.40 343.67 L125.10 344.34 L124.60 361.19 L123.90 362.88 L121.20 363.89 L119.80 364.56 L121.20 365.23 L124.00 366.25 L125.40 367.59Z" fill="#b3dd98" stroke="#5db54a" stroke-width="0.8" fill-opacity="1.0"/>
<path d="M126.4 364.5h.01M125.5 364.4h.01M125.5 364.2h.01M122.4 363.5h.01M122.4 365.4h.01M126.4 364.7h.01M126.3 359.1h.01M127.9 359.6h.01M128.0 365.0h.01M123.5 364.9h.01M125.1 363.7h.01M125.4 358.6h.01M127.8 363.9h.01M125.0 355.7h.01M127.0 355.7h.01M125.3 365.3h.01M124.6 365.3h.01M125.2 364.6h.01M125.1 350.1h.01M128.4 366.0h.01M124.1 352.4h.01M124.5 364.1h.01M123.8 355.0h.01M126.4 361.1h.01M124.7 348.6h.01M123.8 358.0h.01M125.3 345.0h.01M125.8 356.7h.01M127.4 363.8h.01M125.1 358.2h.01M123.4 364.5h.01M124.6 362.2h.01M129.0 364.9h.01M123.5 363.2h.01M124.0 352.3h.01M127.8 362.4h.01M125.3 356.0h.01M122.1 364.2h.01M123.3 361.4h.01M128.9 365.0h.01M127.3 363.8h.01M121.1 364.6h.01M126.1 357.0h.01M122.6 364.7h.01M125.2 355.4h.01M125.6 349.7h.01M122.8 361.7h.01M128.0 361.7h.01M124.6 359.7h.01M122.8 363.7h.01M125.9 348.2h.01M122.0 365.2h.01M122.2 363.6h.01M126.8 365.0h.01M125.3 358.1h.01M126.2 348.1h.01M128.1 364.3h.01M123.3 363.6h.01M123.6 356.1h.01M125.7 352.3h.01M125.1 364.1h.01M124.0 365.7h.01M129.3 364.4h.01M122.6 364.4h.01M126.6 364.0h.01M124.0 353.1h.01M129.3 364.3h.01M129.2 365.2h.01M126.0 358.4h.01M124.9 352.1h.01M125.8 347.7h.01M128.2 365.8h.01M126.7 357.1h.01M122.9 366.2h.01M125.4 362.4h.01" stroke="#3fa535" stroke-width="1.40" stroke-linecap="round" fill="none" opacity="0.8"/>
<path d="M171.10 371.47 L172.40 370.46 L172.60 368.77 L172.20 367.09 L170.80 364.56 L169.20 362.03 L168.00 359.50 L167.40 356.98 L167.20 352.76 L167.30 337.60 L167.30 303.90 L167.00 283.68 L166.60 282.00 L166.60 282.00 L166.20 283.68 L165.90 303.90 L165.90 337.60 L166.00 352.76 L165.80 356.98 L165.20 359.50 L164.00 362.03 L162.40 364.56 L161.00 367.09 L160.60 368.77 L160.80 370.46 L162.10 371.47Z" fill="#a9cde9" stroke="#4a8fc7" stroke-width="0.8" fill-opacity="1.0"/>
<path d="M166.7 324.4h.01M167.3 305.9h.01M165.8 324.2h.01M167.2 339.8h.01M165.0 313.4h.01M168.7 329.8h.01M165.3 315.3h.01M165.4 342.4h.01M169.6 366.4h.01M168.7 319.8h.01M168.5 331.8h.01M167.8 293.3h.01M168.2 341.8h.01M168.1 322.1h.01M166.9 312.7h.01M164.8 305.0h.01M167.7 330.3h.01M168.1 331.5h.01M168.1 331.9h.01M164.5 332.4h.01M164.7 307.4h.01M167.6 318.1h.01M166.5 331.1h.01M168.4 336.2h.01M168.8 343.5h.01M166.4 300.7h.01M167.4 331.4h.01M167.3 341.1h.01M167.4 303.6h.01M165.8 365.2h.01M167.2 313.4h.01M164.8 304.8h.01M168.4 327.6h.01M167.6 334.7h.01M168.0 335.1h.01M166.4 349.2h.01M165.3 310.6h.01M166.4 338.7h.01M167.4 345.1h.01M166.8 321.8h.01M164.4 370.1h.01M164.4 348.7h.01M166.1 332.3h.01M165.4 332.1h.01M165.4 305.7h.01M165.4 342.0h.01M166.2 344.2h.01M167.5 343.7h.01M169.3 367.3h.01M167.4 340.4h.01M164.4 323.0h.01M168.1 296.3h.01M167.1 319.7h.01M167.6 312.2h.01M167.1 340.3h.01M165.9 330.0h.01M165.9 316.1h.01M164.6 323.4h.01M167.3 309.0h.01M163.6 367.6h.01M167.3 295.9h.01M168.5 329.0h.01M167.4 323.6h.01M167.1 312.2h.01M167.9 307.5h.01M168.2 354.8h.01M168.0 344.0h.01M168.8 345.6h.01M166.4 312.8h.01M164.4 318.6h.01M167.1 325.6h.01M167.2 328.1h.01M168.2 318.2h.01M167.1 341.4h.01M166.0 325.0h.01M164.8 354.0h.01M168.0 308.2h.01M167.2 340.3h.01M168.3 292.9h.01M167.0 313.6h.01M168.0 298.8h.01M167.8 342.3h.01M168.8 337.0h.01M166.4 301.8h.01M168.4 341.9h.01M166.1 336.6h.01M164.4 315.7h.01M165.8 329.1h.01M165.9 327.8h.01M168.8 328.4h.01M166.1 316.2h.01M165.6 323.5h.01M167.4 347.7h.01M164.8 332.1h.01M165.3 367.5h.01M166.6 370.8h.01M164.9 349.2h.01M167.0 331.8h.01M166.3 341.4h.01M167.9 308.0h.01M165.9 339.4h.01M168.7 351.2h.01M165.2 337.0h.01M166.7 311.4h.01M164.9 366.1h.01M164.4 333.8h.01M165.7 314.7h.01M168.4 328.5h.01M165.7 327.7h.01M166.5 335.8h.01M166.7 300.8h.01M165.7 295.9h.01M166.8 339.7h.01M164.7 338.3h.01M165.9 342.3h.01M165.6 328.9h.01M168.0 317.9h.01M167.7 303.0h.01M167.5 326.0h.01M167.3 368.2h.01M168.1 298.2h.01M167.6 309.4h.01M163.7 366.6h.01M164.9 315.1h.01M167.7 337.1h.01M168.8 366.3h.01M168.8 330.6h.01M167.8 334.6h.01M164.3 367.4h.01M166.9 333.0h.01M167.2 331.4h.01M167.1 347.1h.01M165.0 334.4h.01M168.7 349.3h.01M166.6 350.6h.01M165.6 332.1h.01M168.8 325.4h.01M165.9 365.6h.01M164.6 326.8h.01M167.4 313.9h.01M165.5 311.3h.01M165.4 303.4h.01M165.7 318.2h.01M167.1 325.0h.01M165.8 325.4h.01M167.3 306.5h.01M169.2 366.2h.01M168.9 321.2h.01M168.2 302.0h.01M169.2 369.5h.01M165.5 340.0h.01M168.0 341.0h.01M164.7 326.9h.01M167.0 334.1h.01M164.9 352.8h.01M164.8 314.9h.01M168.6 312.2h.01M164.9 344.8h.01M167.6 315.0h.01M166.8 367.7h.01M164.3 325.3h.01M168.5 369.4h.01M164.8 304.2h.01M168.3 342.1h.01M168.0 335.3h.01M166.6 342.9h.01M166.4 330.2h.01M164.5 329.2h.01M167.4 298.5h.01M164.7 302.1h.01M166.7 337.1h.01M168.5 328.2h.01M167.4 321.7h.01M165.5 289.2h.01M167.6 350.6h.01M168.0 367.7h.01M165.8 315.1h.01M167.8 348.0h.01M167.0 336.5h.01M166.2 303.0h.01M166.7 343.4h.01M165.8 293.9h.01M165.6 327.6h.01M168.3 312.9h.01M165.9 335.4h.01" stroke="#2f7fc1" stroke-width="1.40" stroke-linecap="round" fill="none" opacity="0.85"/>
<path d="M153.20 367.59 L154.60 366.25 L157.40 365.23 L158.80 364.56 L157.40 363.89 L154.70 362.88 L154.00 361.19 L153.50 346.03 L153.20 345.35 L153.20 345.35 L152.90 346.03 L152.40 361.19 L151.70 362.88 L149.00 363.89 L147.60 364.56 L149.00 365.23 L151.80 366.25 L153.20 367.59Z" fill="#b3dd98" stroke="#5db54a" stroke-width="0.8" fill-opacity="1.0"/>
<path d="M152.7 361.4h.01M151.0 362.4h.01M153.1 348.6h.01M149.3 365.0h.01M149.4 364.5h.01M149.9 365.5h.01M152.7 362.2h.01M150.2 365.3h.01M156.3 364.4h.01M153.8 360.7h.01M154.1 350.3h.01M153.7 364.4h.01M151.5 359.2h.01M151.7 363.4h.01M156.1 365.2h.01M153.8 362.9h.01M153.7 353.9h.01M154.1 362.8h.01M149.0 364.3h.01M152.4 351.6h.01M152.9 359.1h.01M155.5 365.8h.01M156.1 363.2h.01M153.8 362.9h.01M150.9 364.7h.01M150.2 363.3h.01M153.5 358.0h.01M152.3 364.5h.01M157.0 365.1h.01M152.2 354.5h.01M150.7 364.1h.01M150.1 362.8h.01M151.5 354.8h.01M155.5 365.5h.01M154.1 350.4h.01M150.9 363.0h.01M148.8 364.9h.01M153.7 362.4h.01M150.7 364.6h.01M153.8 360.8h.01M155.9 363.1h.01M154.0 352.7h.01M152.8 348.4h.01M153.9 363.2h.01M152.7 350.7h.01M155.4 364.1h.01M150.8 364.5h.01M154.9 358.1h.01M154.8 364.2h.01M156.4 364.0h.01M152.0 365.6h.01M154.8 354.1h.01M153.9 365.2h.01M151.2 364.0h.01M154.3 363.8h.01M152.4 356.9h.01M151.2 359.8h.01M151.6 353.9h.01M153.6 354.5h.01M150.7 364.7h.01M151.1 360.0h.01M154.9 362.3h.01M152.1 353.1h.01M154.2 355.5h.01M152.6 351.4h.01M151.9 364.3h.01M157.1 365.0h.01M154.0 350.2h.01M155.8 363.9h.01M157.6 364.9h.01M154.2 364.7h.01M154.7 354.3h.01M153.6 353.4h.01M153.6 360.5h.01M151.6 364.3h.01" stroke="#3fa535" stroke-width="1.40" stroke-linecap="round" fill="none" opacity="0.8"/>
<rect x="36.40" y="261.40" width="137.10" height="110.00" fill="none" stroke="#8c8c8c" stroke-width="1" />
<line x1="34.20" y1="371.30" x2="36.40" y2="371.30" stroke="#8c8c8c" stroke-width="0.8" />
<text x="33.60" y="373.90" font-size="7.3" fill="#333333" text-anchor="end" font-weight="normal" >0</text>
<line x1="34.20" y1="354.45" x2="36.40" y2="354.45" stroke="#8c8c8c" stroke-width="0.8" />
<text x="33.60" y="357.05" font-size="7.3" fill="#333333" text-anchor="end" font-weight="normal" >10</text>
<line x1="34.20" y1="337.60" x2="36.40" y2="337.60" stroke="#8c8c8c" stroke-width="0.8" />
<text x="33.60" y="340.20" font-size="7.3" fill="#333333" text-anchor="end" font-weight="normal" >20</text>
<line x1="34.20" y1="320.75" x2="36.40" y2="320.75" stroke="#8c8c8c" stroke-width="0.8" />
<text x="33.60" y="323.35" font-size="7.3" fill="#333333" text-anchor="end" font-weight="normal" >30</text>
<line x1="34.20" y1="303.90" x2="36.40" y2="303.90" stroke="#8c8c8c" stroke-width="0.8" />
<text x="33.60" y="306.50" font-size="7.3" fill="#333333" text-anchor="end" font-weight="normal" >40</text>
<line x1="34.20" y1="287.05" x2="36.40" y2="287.05" stroke="#8c8c8c" stroke-width="0.8" />
<text x="33.60" y="289.65" font-size="7.3" fill="#333333" text-anchor="end" font-weight="normal" >50</text>
<line x1="34.20" y1="270.20" x2="36.40" y2="270.20" stroke="#8c8c8c" stroke-width="0.8" />
<text x="33.60" y="272.80" font-size="7.3" fill="#333333" text-anchor="end" font-weight="normal" >60</text>
<line x1="57.00" y1="371.40" x2="57.00" y2="373.40" stroke="#8c8c8c" stroke-width="0.8" />
<text x="58.00" y="384.00" font-size="10.2" fill="#231815" text-anchor="middle" font-weight="normal" >#1</text>
<line x1="84.40" y1="371.40" x2="84.40" y2="373.40" stroke="#8c8c8c" stroke-width="0.8" />
<text x="85.40" y="384.00" font-size="10.2" fill="#231815" text-anchor="middle" font-weight="normal" >#2</text>
<line x1="111.60" y1="371.40" x2="111.60" y2="373.40" stroke="#8c8c8c" stroke-width="0.8" />
<text x="112.60" y="384.00" font-size="10.2" fill="#231815" text-anchor="middle" font-weight="normal" >#3</text>
<line x1="138.60" y1="371.40" x2="138.60" y2="373.40" stroke="#8c8c8c" stroke-width="0.8" />
<text x="139.60" y="384.00" font-size="10.2" fill="#231815" text-anchor="middle" font-weight="normal" >#4</text>
<line x1="165.50" y1="371.40" x2="165.50" y2="373.40" stroke="#8c8c8c" stroke-width="0.8" />
<text x="166.50" y="384.00" font-size="10.2" fill="#231815" text-anchor="middle" font-weight="normal" >#5</text>
<rect x="62.20" y="264.30" width="16.30" height="8.20" fill="#a7d98c" stroke="#6ec158" stroke-width="0.8" />
<text x="80.60" y="271.30" font-size="7.5" fill="#231815" text-anchor="start" font-weight="normal" >DiO</text>
<rect x="99.50" y="264.30" width="16.30" height="8.20" fill="#a9cde6" stroke="#5f9fd2" stroke-width="0.8" />
<text x="118.20" y="271.30" font-size="7.5" fill="#231815" text-anchor="start" font-weight="normal" >Hoechst</text>
<text x="0" y="0" font-size="9.2" fill="#231815" text-anchor="middle" transform="translate(21.60,316.40) rotate(-90)">FL (arbitrary units)</text>
<rect x="36.90" y="430.20" width="136.10" height="84.25" fill="#e8f1f5" stroke="none" stroke-width="1" />
<path d="M56.80 530.96 L59.80 530.46 L61.60 528.77 L62.40 526.25 L62.50 523.72 L61.80 521.19 L60.40 518.66 L58.80 516.13 L57.80 513.61 L57.40 511.08 L57.50 497.60 L57.50 463.90 L57.20 431.88 L56.80 430.20 L56.80 430.20 L56.40 431.88 L56.10 463.90 L56.10 497.60 L56.20 511.08 L55.80 513.61 L54.80 516.13 L53.20 518.66 L51.80 521.19 L51.10 523.72 L51.20 526.25 L52.00 528.77 L53.80 530.46 L56.80 530.96Z" fill="#a9cde9" stroke="#4a8fc7" stroke-width="0.8" fill-opacity="1.0"/>
<path d="M57.4 474.3h.01M57.2 499.9h.01M56.6 525.3h.01M58.9 472.2h.01M56.6 480.1h.01M58.8 499.8h.01M56.3 498.8h.01M56.6 505.7h.01M56.2 504.4h.01M57.8 490.9h.01M57.8 460.7h.01M55.0 522.1h.01M57.0 520.8h.01M58.4 525.5h.01M56.8 448.6h.01M58.0 525.1h.01M57.3 476.5h.01M58.4 523.0h.01M56.2 506.4h.01M55.4 522.6h.01M54.6 478.0h.01M58.6 488.7h.01M58.8 526.4h.01M56.5 445.0h.01M58.9 473.9h.01M58.7 489.7h.01M55.2 473.3h.01M59.3 523.5h.01M56.5 463.5h.01M56.0 508.9h.01M55.7 486.6h.01M56.4 495.9h.01M54.7 488.6h.01M54.8 502.4h.01M55.0 498.0h.01M55.9 507.9h.01M55.2 490.6h.01M55.1 506.3h.01M58.3 496.5h.01M56.2 484.3h.01M56.8 484.1h.01M57.3 498.5h.01M58.8 489.7h.01M55.2 468.2h.01M55.7 512.6h.01M58.4 466.6h.01M58.7 495.0h.01M59.6 521.0h.01M56.9 529.7h.01M56.2 482.9h.01M55.4 529.3h.01M58.6 465.3h.01M58.0 475.4h.01M57.0 481.7h.01M58.2 476.1h.01M56.0 448.6h.01M57.0 498.8h.01M58.5 457.7h.01M55.4 449.1h.01M57.3 471.8h.01M55.4 496.3h.01M58.4 494.4h.01M58.3 472.0h.01M57.8 521.5h.01M56.5 486.3h.01M54.5 480.0h.01M56.8 452.4h.01M56.2 467.4h.01M56.3 478.4h.01M55.0 465.2h.01M58.8 490.4h.01M56.9 469.1h.01M57.1 510.5h.01M58.1 454.4h.01M58.4 455.1h.01M57.0 481.3h.01M57.0 489.0h.01M59.2 525.7h.01M56.2 492.0h.01M58.6 472.3h.01M54.6 476.4h.01M58.6 528.1h.01M56.9 494.8h.01M57.4 491.5h.01M59.0 500.0h.01M54.7 524.7h.01M56.4 471.9h.01M58.2 474.2h.01M58.0 489.6h.01M57.0 526.8h.01M58.9 523.5h.01M57.6 490.7h.01M58.5 491.3h.01M57.4 512.4h.01M56.2 493.4h.01M55.8 486.5h.01M55.2 452.5h.01M55.1 471.7h.01M53.8 527.5h.01M59.0 494.7h.01M55.3 459.5h.01M57.3 495.6h.01M55.2 467.3h.01M58.9 473.3h.01M56.9 443.9h.01M55.3 472.8h.01M58.3 469.4h.01M58.5 483.1h.01M59.0 492.2h.01M54.8 522.9h.01M56.3 480.8h.01M57.5 506.9h.01M55.8 493.1h.01M57.1 477.8h.01M57.6 457.7h.01M58.0 491.6h.01M58.9 527.2h.01M57.9 465.5h.01M55.8 476.7h.01M58.0 487.7h.01M56.5 488.7h.01M55.4 463.7h.01M53.8 528.0h.01M57.4 494.5h.01M56.1 482.0h.01M54.2 520.7h.01M56.8 489.9h.01M56.4 492.3h.01M55.9 528.7h.01M57.1 461.5h.01M57.0 457.0h.01M57.0 523.9h.01M60.4 523.3h.01M59.8 524.2h.01M55.9 497.7h.01M58.3 458.8h.01M56.0 502.4h.01M58.9 481.2h.01M54.7 481.7h.01M56.0 464.2h.01M58.8 475.6h.01M57.5 475.7h.01M57.8 487.3h.01M55.5 470.6h.01M55.4 451.8h.01M58.7 459.4h.01M55.4 447.0h.01M55.3 486.8h.01M56.5 477.3h.01M58.1 461.0h.01M58.0 526.1h.01M60.4 522.8h.01M58.8 523.0h.01M56.3 523.7h.01M58.7 476.8h.01M56.2 446.3h.01M55.3 448.2h.01M60.0 522.3h.01M58.2 451.6h.01M57.5 496.6h.01M56.7 486.9h.01M55.4 491.8h.01M55.5 503.5h.01M55.4 447.6h.01M55.0 467.0h.01M56.7 489.8h.01M58.3 451.9h.01M58.8 473.6h.01M56.9 523.3h.01M57.5 462.1h.01M56.7 490.8h.01M57.9 458.8h.01M57.8 483.9h.01M59.1 476.3h.01M58.4 489.8h.01M57.6 488.7h.01M57.2 500.8h.01M55.7 447.7h.01M56.7 494.6h.01M56.6 502.4h.01M55.2 475.9h.01M54.9 520.5h.01M56.4 478.0h.01M55.3 489.0h.01M57.4 490.1h.01M56.0 491.2h.01M59.1 485.1h.01M58.1 525.3h.01M56.9 489.5h.01M56.6 449.9h.01M56.3 491.1h.01M55.4 488.2h.01M58.9 474.9h.01M59.8 522.6h.01M57.5 502.5h.01M57.4 463.5h.01M55.2 473.3h.01M57.1 525.9h.01M55.3 495.4h.01M56.0 475.5h.01" stroke="#2f7fc1" stroke-width="1.40" stroke-linecap="round" fill="none" opacity="0.85"/>
<path d="M43.30 527.59 L44.70 526.25 L47.50 525.23 L48.90 524.56 L47.50 523.89 L44.80 522.88 L44.10 521.19 L43.60 500.97 L43.30 500.30 L43.30 500.30 L43.00 500.97 L42.50 521.19 L41.80 522.88 L39.10 523.89 L37.70 524.56 L39.10 525.23 L41.90 526.25 L43.30 527.59Z" fill="#b3dd98" stroke="#5db54a" stroke-width="0.8" fill-opacity="1.0"/>
<path d="M43.6 522.8h.01M40.1 524.2h.01M41.6 518.1h.01M46.0 522.9h.01M40.2 523.3h.01M45.5 516.9h.01M40.0 525.1h.01M42.6 518.0h.01M44.2 523.1h.01M39.4 525.3h.01M43.0 521.5h.01M46.1 524.8h.01M42.2 524.9h.01M41.6 514.7h.01M39.3 525.0h.01M46.5 523.4h.01M40.7 522.1h.01M44.0 509.8h.01M44.2 522.5h.01M41.6 523.7h.01M43.7 523.2h.01M45.0 524.3h.01M42.0 510.5h.01M41.2 524.0h.01M46.3 523.5h.01M40.9 523.9h.01M43.3 526.7h.01M43.2 505.7h.01M45.5 523.9h.01M45.5 521.5h.01M45.2 523.5h.01M44.2 522.8h.01M43.5 513.1h.01M41.0 518.9h.01M43.7 519.4h.01M43.0 508.0h.01M45.2 523.7h.01M42.2 524.2h.01M41.7 509.1h.01M42.2 524.4h.01M45.6 525.7h.01M43.3 523.8h.01M44.2 514.5h.01M41.5 507.9h.01M41.9 514.2h.01M42.1 514.2h.01M43.1 524.5h.01M40.7 522.9h.01M45.6 514.3h.01M42.5 510.9h.01M40.3 521.0h.01M40.9 524.8h.01M43.3 520.8h.01M44.0 520.8h.01M45.4 522.7h.01M39.7 524.1h.01M44.4 503.5h.01M46.6 524.3h.01M43.4 520.2h.01M44.2 520.3h.01M41.7 525.3h.01M40.1 524.2h.01M39.9 523.1h.01M45.4 511.3h.01M45.8 522.0h.01M42.9 525.3h.01M43.8 514.4h.01M43.1 523.1h.01M44.3 517.3h.01M40.0 523.9h.01M45.4 523.9h.01M41.2 522.0h.01M43.8 520.2h.01M44.2 523.2h.01M45.8 525.6h.01M44.4 524.5h.01M40.4 525.0h.01M46.3 524.4h.01M42.1 524.7h.01M43.6 512.5h.01M44.3 506.2h.01M47.0 525.5h.01M39.9 524.1h.01M42.9 525.0h.01M42.3 514.6h.01M46.7 524.5h.01M43.0 505.5h.01M45.5 516.5h.01M45.0 518.2h.01M42.9 516.5h.01M44.8 519.4h.01M44.3 516.3h.01M41.5 512.4h.01M42.3 513.6h.01M40.8 525.8h.01M46.4 524.3h.01M42.3 524.4h.01M41.5 525.0h.01M44.2 509.2h.01M46.4 522.0h.01M41.2 519.3h.01M44.6 522.7h.01M41.7 520.3h.01M44.9 517.9h.01M44.3 507.5h.01M45.3 525.6h.01M43.9 523.7h.01M41.5 512.0h.01M46.5 525.0h.01M41.2 516.8h.01M43.7 515.6h.01M45.7 515.0h.01M42.1 526.3h.01M43.2 514.0h.01M44.3 517.3h.01" stroke="#3fa535" stroke-width="1.40" stroke-linecap="round" fill="none" opacity="0.8"/>
<path d="M43.8 483.3h.01M43.3 494.2h.01M42.3 497.6h.01" stroke="#3fa535" stroke-width="1.50" stroke-linecap="round" fill="none" opacity="0.85"/>
<path d="M84.10 530.96 L87.10 530.46 L88.90 528.77 L89.70 526.25 L89.80 523.72 L89.10 521.19 L87.70 518.66 L86.10 516.13 L85.10 513.61 L84.70 511.08 L84.80 497.60 L84.80 463.90 L84.50 435.25 L84.10 433.57 L84.10 433.57 L83.70 435.25 L83.40 463.90 L83.40 497.60 L83.50 511.08 L83.10 513.61 L82.10 516.13 L80.50 518.66 L79.10 521.19 L78.40 523.72 L78.50 526.25 L79.30 528.77 L81.10 530.46 L84.10 530.96Z" fill="#a9cde9" stroke="#4a8fc7" stroke-width="0.8" fill-opacity="1.0"/>
<path d="M85.5 492.1h.01M82.3 457.5h.01M85.5 498.6h.01M83.0 461.8h.01M82.6 457.7h.01M82.0 493.5h.01M83.9 494.8h.01M83.8 520.2h.01M82.7 497.4h.01M85.1 497.4h.01M82.8 511.8h.01M86.0 469.8h.01M86.4 477.4h.01M83.2 519.0h.01M82.0 467.4h.01M82.2 470.2h.01M84.3 465.5h.01M83.4 492.8h.01M85.3 464.8h.01M83.7 471.9h.01M82.9 480.2h.01M82.5 485.9h.01M86.1 457.7h.01M85.3 478.2h.01M85.0 485.8h.01M82.1 525.6h.01M83.8 483.5h.01M85.9 526.2h.01M84.7 467.4h.01M83.1 499.2h.01M83.4 477.8h.01M85.5 503.5h.01M82.1 496.4h.01M84.8 472.0h.01M85.1 488.4h.01M84.2 523.1h.01M84.3 487.5h.01M86.1 494.8h.01M83.0 520.1h.01M85.3 489.7h.01M85.2 486.7h.01M85.2 496.4h.01M81.2 527.2h.01M85.0 499.3h.01M83.5 487.4h.01M82.6 458.6h.01M86.9 526.1h.01M83.0 487.7h.01M83.9 496.1h.01M83.2 496.1h.01M82.3 493.0h.01M83.2 460.1h.01M84.6 488.5h.01M84.8 480.3h.01M85.0 449.9h.01M81.5 523.3h.01M83.0 491.3h.01M85.3 529.9h.01M84.2 497.0h.01M85.7 520.8h.01M83.9 456.5h.01M83.7 502.7h.01M82.2 460.0h.01M85.5 457.1h.01M86.0 474.1h.01M85.1 509.8h.01M83.0 513.3h.01M84.7 480.6h.01M84.9 491.4h.01M83.1 492.4h.01M83.6 508.8h.01M85.9 476.0h.01M83.1 510.2h.01M84.5 453.8h.01M82.1 471.1h.01M82.7 444.9h.01M82.1 465.3h.01M83.3 465.1h.01M85.7 453.7h.01M84.4 457.3h.01M84.0 490.3h.01M82.7 457.9h.01M84.4 479.4h.01M82.5 511.6h.01M82.2 506.0h.01M83.3 496.2h.01M83.0 499.4h.01M85.3 468.4h.01M84.4 500.8h.01M84.7 509.9h.01M83.1 472.2h.01M83.6 476.0h.01M82.4 503.1h.01M83.1 495.0h.01M86.4 485.8h.01M84.8 466.1h.01M83.3 487.7h.01M84.7 498.9h.01M86.0 489.2h.01M85.4 462.8h.01M84.2 438.8h.01M82.5 482.5h.01M82.1 467.8h.01M82.3 511.8h.01M85.6 475.0h.01M85.3 463.7h.01M84.9 458.6h.01M85.1 475.4h.01M82.4 491.3h.01M84.5 503.6h.01M81.8 494.0h.01M81.9 494.9h.01M84.7 484.4h.01M81.9 504.3h.01M83.7 463.3h.01M83.4 505.5h.01M85.1 441.0h.01M83.4 492.3h.01M82.7 491.7h.01M85.3 521.9h.01M82.5 501.2h.01M86.4 486.4h.01M86.1 485.2h.01M86.3 470.0h.01M84.9 522.0h.01M82.7 502.2h.01M81.9 523.5h.01M85.1 506.4h.01M83.8 477.2h.01M85.0 466.8h.01M82.7 490.3h.01M84.4 462.1h.01M86.7 523.2h.01M83.1 481.3h.01M85.7 483.4h.01M82.5 473.9h.01M85.3 524.9h.01M82.3 456.1h.01M82.9 495.4h.01M81.0 524.9h.01M82.4 528.6h.01M84.2 501.9h.01M85.6 483.4h.01M85.6 492.0h.01M85.9 467.4h.01M82.9 495.8h.01M86.1 494.5h.01M83.7 517.8h.01M84.9 482.6h.01M85.1 492.2h.01M83.2 513.4h.01M82.6 526.4h.01M83.8 484.3h.01M83.4 486.7h.01M85.2 489.0h.01M86.4 528.1h.01M84.9 479.8h.01M82.0 473.3h.01M85.5 476.4h.01M86.1 523.2h.01M87.5 522.1h.01M82.6 481.0h.01M85.9 463.1h.01M83.7 464.1h.01M84.4 491.6h.01M82.7 490.9h.01M83.0 462.6h.01M83.7 477.7h.01M84.4 499.2h.01M83.0 492.7h.01M84.4 527.9h.01M83.8 488.0h.01M82.8 498.3h.01M84.6 449.8h.01M82.8 525.9h.01M80.9 521.9h.01M82.2 525.1h.01M83.6 520.4h.01M84.6 489.9h.01M82.3 461.9h.01M85.9 486.7h.01M82.1 483.6h.01M86.1 469.1h.01M82.3 514.8h.01M82.9 520.1h.01M83.4 501.9h.01M84.8 464.0h.01M82.2 494.2h.01M81.9 523.8h.01M85.6 483.5h.01M85.9 512.2h.01M80.8 523.2h.01M82.4 460.9h.01M83.4 490.4h.01M83.5 469.4h.01M84.9 473.1h.01M86.2 482.8h.01M84.7 470.9h.01M83.3 496.1h.01M82.9 468.9h.01" stroke="#2f7fc1" stroke-width="1.40" stroke-linecap="round" fill="none" opacity="0.85"/>
<path d="M70.60 527.59 L72.00 526.25 L74.80 525.23 L76.20 524.56 L74.80 523.89 L72.10 522.88 L71.40 521.19 L70.90 502.65 L70.60 501.98 L70.60 501.98 L70.30 502.65 L69.80 521.19 L69.10 522.88 L66.40 523.89 L65.00 524.56 L66.40 525.23 L69.20 526.25 L70.60 527.59Z" fill="#b3dd98" stroke="#5db54a" stroke-width="0.8" fill-opacity="1.0"/>
<path d="M73.9 522.7h.01M71.1 523.2h.01M67.4 522.3h.01M71.0 522.2h.01M69.0 510.1h.01M67.9 526.1h.01M73.1 522.5h.01M71.6 508.3h.01M70.1 513.7h.01M73.2 520.2h.01M69.2 514.2h.01M67.9 520.4h.01M67.6 522.7h.01M70.6 507.7h.01M69.4 513.6h.01M71.9 525.5h.01M73.6 522.1h.01M70.5 513.9h.01M72.7 521.8h.01M67.7 523.6h.01M72.1 522.6h.01M69.0 518.0h.01M73.0 522.5h.01M70.9 525.4h.01M69.3 524.3h.01M69.5 524.6h.01M69.3 511.4h.01M71.8 526.2h.01M70.5 519.3h.01M68.7 514.6h.01M69.2 521.7h.01M70.0 512.5h.01M68.6 524.9h.01M68.6 519.6h.01M71.1 524.7h.01M71.8 517.4h.01M68.3 510.7h.01M71.7 519.9h.01M67.9 524.2h.01M70.6 522.1h.01M73.1 523.9h.01M69.6 511.2h.01M73.8 524.4h.01M66.9 525.0h.01M69.4 522.0h.01M67.7 520.3h.01M68.9 513.2h.01M71.8 522.1h.01M74.3 524.1h.01M72.7 525.5h.01M68.8 522.1h.01M71.2 519.8h.01M71.9 524.5h.01M69.7 526.7h.01M66.9 525.2h.01M72.7 519.3h.01M74.9 524.6h.01M69.1 524.4h.01M68.8 510.4h.01M72.2 517.6h.01M68.9 518.5h.01M68.6 510.6h.01M73.5 519.6h.01M68.7 521.9h.01M68.5 523.8h.01M71.8 525.5h.01M72.1 522.8h.01M71.6 523.2h.01M69.3 507.6h.01M73.4 523.2h.01M69.7 523.4h.01M68.9 518.3h.01M71.8 507.7h.01M68.3 524.0h.01M70.3 510.3h.01M69.3 517.9h.01M70.4 520.5h.01M72.5 523.5h.01M68.9 510.3h.01M73.5 519.3h.01M70.6 503.2h.01M72.6 518.3h.01M70.3 523.4h.01M69.8 522.5h.01M70.9 513.0h.01M66.6 524.9h.01M69.0 514.5h.01M68.8 511.4h.01M68.7 519.8h.01M69.0 523.1h.01M68.6 521.4h.01M73.1 520.9h.01M67.1 525.5h.01M68.4 525.0h.01M68.4 526.3h.01M71.1 516.7h.01M73.3 523.0h.01M71.0 523.8h.01M70.0 526.3h.01M71.9 511.1h.01M71.1 515.4h.01M71.3 506.4h.01M72.2 523.2h.01M69.0 525.9h.01M68.2 517.6h.01M69.7 510.0h.01M69.4 508.8h.01M72.8 525.0h.01M73.6 524.1h.01M67.6 522.9h.01M71.0 519.0h.01M70.7 506.7h.01M70.3 521.1h.01M70.0 504.4h.01M73.5 519.3h.01" stroke="#3fa535" stroke-width="1.40" stroke-linecap="round" fill="none" opacity="0.8"/>
<path d="M70.6 498.4h.01" stroke="#3fa535" stroke-width="1.50" stroke-linecap="round" fill="none" opacity="0.85"/>
<path d="M111.60 530.96 L114.60 530.46 L116.40 528.77 L117.20 526.25 L117.30 523.72 L116.60 521.19 L115.20 518.66 L113.60 516.13 L112.60 513.61 L112.20 511.08 L112.30 497.60 L112.30 463.90 L112.00 438.62 L111.60 436.94 L111.60 436.94 L111.20 438.62 L110.90 463.90 L110.90 497.60 L111.00 511.08 L110.60 513.61 L109.60 516.13 L108.00 518.66 L106.60 521.19 L105.90 523.72 L106.00 526.25 L106.80 528.77 L108.60 530.46 L111.60 530.96Z" fill="#a9cde9" stroke="#4a8fc7" stroke-width="0.8" fill-opacity="1.0"/>
<path d="M111.7 470.2h.01M112.8 456.6h.01M112.9 469.3h.01M110.5 509.1h.01M113.7 492.2h.01M111.7 508.8h.01M113.1 488.6h.01M115.0 523.9h.01M113.1 494.6h.01M110.1 495.2h.01M111.4 467.1h.01M109.8 470.0h.01M109.5 525.0h.01M109.7 484.8h.01M110.4 484.9h.01M109.7 492.1h.01M113.2 522.5h.01M113.7 493.9h.01M112.6 475.8h.01M113.3 483.5h.01M112.2 496.3h.01M111.6 524.9h.01M111.3 501.2h.01M109.4 494.5h.01M113.4 522.2h.01M109.9 491.3h.01M113.4 472.7h.01M110.5 484.1h.01M111.4 479.7h.01M112.2 494.8h.01M111.4 461.0h.01M111.3 458.8h.01M113.7 465.2h.01M112.9 459.7h.01M110.1 498.5h.01M112.1 530.2h.01M112.7 494.1h.01M110.6 492.7h.01M109.8 472.7h.01M111.8 480.8h.01M111.1 498.7h.01M111.2 518.7h.01M112.6 527.1h.01M109.7 497.9h.01M112.0 490.8h.01M113.0 459.3h.01M113.0 482.4h.01M112.6 494.0h.01M110.1 502.3h.01M110.7 473.9h.01M110.6 519.4h.01M113.8 499.8h.01M113.2 506.8h.01M111.9 486.2h.01M110.4 496.0h.01M113.0 525.9h.01M113.6 477.7h.01M113.8 479.9h.01M113.5 495.5h.01M110.4 497.2h.01M113.9 487.4h.01M112.6 480.3h.01M113.0 502.7h.01M110.0 470.0h.01M113.6 475.5h.01M113.5 491.9h.01M112.4 504.3h.01M112.9 524.9h.01M111.9 494.5h.01M110.9 461.5h.01M113.1 490.0h.01M113.2 524.6h.01M112.5 463.4h.01M112.0 478.7h.01M113.1 480.1h.01M111.2 523.2h.01M113.5 525.6h.01M113.1 524.5h.01M113.6 479.4h.01M111.2 493.9h.01M113.6 470.1h.01M110.3 493.9h.01M111.7 476.6h.01M111.6 466.3h.01M114.7 522.1h.01M112.3 459.7h.01M110.3 522.3h.01M110.1 506.5h.01M111.5 466.4h.01M111.0 495.1h.01M110.9 469.5h.01M111.1 509.2h.01M112.1 503.8h.01M112.4 500.4h.01M109.8 500.4h.01M109.8 472.1h.01M113.4 524.1h.01M111.4 481.7h.01M113.1 487.4h.01M110.1 490.5h.01M113.3 494.7h.01M113.2 525.0h.01M112.1 455.3h.01M113.6 496.5h.01M110.1 497.2h.01M112.0 490.2h.01M113.9 480.2h.01M110.0 497.5h.01M109.8 524.8h.01M112.7 502.4h.01M110.5 492.9h.01M112.7 500.0h.01M109.3 492.7h.01M109.8 485.4h.01M112.2 481.5h.01M110.1 524.9h.01M112.7 497.8h.01M112.3 471.4h.01M111.8 452.6h.01M109.5 476.2h.01M111.2 460.6h.01M109.9 466.8h.01M111.3 479.3h.01M110.7 480.0h.01M110.3 496.2h.01M110.6 496.2h.01M113.5 464.0h.01M110.5 503.6h.01M113.1 503.7h.01M109.9 508.6h.01M112.3 493.4h.01M111.0 525.8h.01M111.2 510.0h.01M110.0 478.1h.01M112.4 456.4h.01M110.6 483.3h.01M111.1 492.1h.01M110.8 478.5h.01M111.7 468.6h.01M110.2 489.5h.01M110.1 499.8h.01M113.0 470.6h.01M112.2 476.4h.01M112.9 499.5h.01M113.0 520.2h.01M110.6 491.9h.01M113.8 481.4h.01M111.8 472.6h.01M109.3 488.1h.01M112.1 496.0h.01M113.4 522.3h.01M109.7 461.6h.01M112.4 494.8h.01M111.0 491.6h.01M110.1 492.5h.01M111.6 492.5h.01M112.7 495.8h.01M112.9 456.2h.01M113.6 475.3h.01M111.4 496.2h.01M109.8 493.5h.01M112.9 519.5h.01M110.9 525.0h.01M112.2 477.7h.01M111.9 470.7h.01M111.5 470.2h.01M112.2 497.4h.01M112.5 512.5h.01M113.6 497.6h.01M111.9 507.1h.01M111.0 489.1h.01M112.0 466.8h.01M113.8 474.9h.01M110.9 463.1h.01M110.1 447.5h.01M109.6 487.3h.01M114.0 524.1h.01M114.7 521.2h.01M111.4 485.5h.01M109.3 520.3h.01M110.5 494.6h.01M111.5 525.6h.01M112.8 488.0h.01M112.1 497.0h.01M112.8 452.5h.01M113.6 456.8h.01M110.8 509.2h.01M111.2 446.5h.01M109.6 472.8h.01M113.1 449.0h.01M113.4 461.8h.01M111.1 506.4h.01M113.7 489.9h.01M113.8 523.5h.01M112.8 498.2h.01M112.6 460.2h.01M112.4 458.7h.01M111.8 477.1h.01M110.8 449.6h.01M111.2 494.3h.01" stroke="#2f7fc1" stroke-width="1.40" stroke-linecap="round" fill="none" opacity="0.85"/>
<path d="M98.10 527.59 L99.50 526.25 L102.30 525.23 L103.70 524.56 L102.30 523.89 L99.60 522.88 L98.90 521.19 L98.40 505.18 L98.10 504.51 L98.10 504.51 L97.80 505.18 L97.30 521.19 L96.60 522.88 L93.90 523.89 L92.50 524.56 L93.90 525.23 L96.70 526.25 L98.10 527.59Z" fill="#b3dd98" stroke="#5db54a" stroke-width="0.8" fill-opacity="1.0"/>
<path d="M99.4 517.3h.01M100.7 523.9h.01M101.4 525.3h.01M97.8 507.7h.01M97.3 521.2h.01M99.5 524.1h.01M97.9 517.7h.01M97.2 525.6h.01M101.0 522.2h.01M100.3 520.5h.01M94.2 524.4h.01M96.3 525.2h.01M94.5 525.5h.01M96.8 521.6h.01M96.1 526.5h.01M100.4 516.8h.01M97.8 526.2h.01M96.3 517.0h.01M96.8 525.5h.01M98.6 507.6h.01M97.4 527.0h.01M95.1 522.9h.01M95.9 521.8h.01M98.2 523.8h.01M96.8 526.2h.01M96.8 524.3h.01M97.7 517.3h.01M101.1 525.2h.01M96.4 526.0h.01M96.4 518.4h.01M97.9 523.7h.01M99.2 517.2h.01M98.9 512.4h.01M96.4 522.9h.01M99.7 514.1h.01M95.2 519.4h.01M99.8 524.4h.01M96.6 513.9h.01M96.3 521.1h.01M95.9 520.1h.01M100.5 513.6h.01M97.5 516.8h.01M100.3 512.3h.01M100.9 522.3h.01M97.8 505.9h.01M98.9 506.7h.01M95.9 523.1h.01M98.2 510.5h.01M100.6 517.3h.01M99.2 512.9h.01M99.7 521.8h.01M99.8 522.0h.01M93.7 524.8h.01M100.1 519.8h.01M96.1 513.1h.01M97.7 525.6h.01M99.3 519.0h.01M99.4 523.7h.01M99.3 520.5h.01M100.1 509.3h.01M96.6 525.1h.01M95.6 518.2h.01M100.3 525.1h.01M97.6 523.2h.01M100.7 515.6h.01M98.4 525.9h.01M96.9 514.6h.01M99.3 519.3h.01M96.6 524.9h.01M100.2 515.8h.01M96.8 517.3h.01M98.3 526.5h.01M96.6 526.3h.01M100.1 518.5h.01M97.0 517.7h.01M96.0 521.6h.01M95.3 522.0h.01M100.1 510.0h.01M100.7 522.6h.01M97.5 520.2h.01M95.1 525.6h.01M96.5 517.3h.01M98.5 525.0h.01M94.6 523.8h.01M96.4 514.0h.01M95.4 526.0h.01M98.6 516.5h.01M95.7 525.8h.01M96.6 523.3h.01M101.9 524.8h.01M98.5 523.2h.01M96.1 523.8h.01M99.6 520.7h.01M100.0 521.6h.01M99.6 526.3h.01M100.6 517.9h.01M96.1 524.5h.01M99.1 524.4h.01M97.6 521.3h.01M99.9 520.4h.01M96.5 526.5h.01M102.4 524.3h.01M102.1 524.6h.01M96.8 518.2h.01M98.1 523.8h.01M98.5 523.4h.01M98.2 522.8h.01M97.8 514.0h.01M95.9 519.9h.01M100.6 519.2h.01M99.2 523.9h.01M100.4 516.4h.01M100.8 524.7h.01M96.6 516.8h.01M95.3 524.6h.01" stroke="#3fa535" stroke-width="1.40" stroke-linecap="round" fill="none" opacity="0.8"/>
<path d="M98.6 493.4h.01M98.1 502.7h.01" stroke="#3fa535" stroke-width="1.50" stroke-linecap="round" fill="none" opacity="0.85"/>
<path d="M139.20 530.96 L142.20 530.46 L144.00 528.77 L144.80 526.25 L144.90 523.72 L144.20 521.19 L142.80 518.66 L141.20 516.13 L140.20 513.61 L139.80 511.08 L139.90 497.60 L139.90 463.90 L139.60 440.31 L139.20 438.62 L139.20 438.62 L138.80 440.31 L138.50 463.90 L138.50 497.60 L138.60 511.08 L138.20 513.61 L137.20 516.13 L135.60 518.66 L134.20 521.19 L133.50 523.72 L133.60 526.25 L134.40 528.77 L136.20 530.46 L139.20 530.96Z" fill="#a9cde9" stroke="#4a8fc7" stroke-width="0.8" fill-opacity="1.0"/>
<path d="M139.6 520.5h.01M139.3 496.2h.01M140.8 498.9h.01M140.0 474.9h.01M138.0 488.3h.01M140.3 491.9h.01M140.6 469.3h.01M139.6 483.7h.01M140.3 468.9h.01M138.0 472.8h.01M136.9 490.6h.01M138.8 487.1h.01M138.7 483.5h.01M140.6 472.8h.01M140.5 481.9h.01M140.7 496.2h.01M137.1 462.5h.01M141.1 507.4h.01M139.3 475.5h.01M137.8 492.8h.01M139.2 452.2h.01M135.6 523.5h.01M140.7 510.7h.01M140.7 474.2h.01M137.1 479.8h.01M139.5 524.2h.01M139.3 498.8h.01M139.8 489.3h.01M138.7 456.3h.01M141.2 498.4h.01M140.8 494.8h.01M137.8 459.2h.01M139.6 476.6h.01M139.1 447.2h.01M138.4 499.3h.01M140.8 467.2h.01M139.2 491.5h.01M138.9 451.7h.01M138.3 525.9h.01M138.4 525.1h.01M137.8 481.1h.01M138.8 480.1h.01M142.5 524.5h.01M139.7 478.5h.01M137.1 499.9h.01M138.8 510.5h.01M140.6 471.6h.01M137.5 464.2h.01M140.6 482.0h.01M137.3 479.1h.01M139.9 496.0h.01M137.3 494.1h.01M140.8 470.3h.01M139.0 454.3h.01M140.9 509.0h.01M139.4 522.8h.01M142.3 522.2h.01M141.5 485.7h.01M141.0 486.5h.01M142.1 520.0h.01M139.6 457.6h.01M141.2 483.2h.01M140.5 469.3h.01M138.8 496.6h.01M139.4 490.8h.01M137.2 469.1h.01M139.5 523.9h.01M138.9 498.5h.01M139.5 461.1h.01M141.3 469.7h.01M138.7 492.4h.01M140.2 490.5h.01M138.7 522.6h.01M140.6 495.7h.01M141.8 524.2h.01M137.6 523.9h.01M140.3 504.7h.01M141.1 468.4h.01M140.3 473.7h.01M138.3 486.9h.01M139.1 471.6h.01M139.2 522.6h.01M137.1 467.3h.01M139.3 498.4h.01M138.1 511.2h.01M139.1 490.4h.01M136.9 482.6h.01M139.5 507.0h.01M141.4 473.0h.01M142.1 527.1h.01M137.8 479.3h.01M141.0 510.5h.01M136.9 479.7h.01M138.8 476.6h.01M140.7 491.6h.01M137.7 477.5h.01M141.2 487.1h.01M140.3 471.8h.01M138.6 504.8h.01M138.2 505.7h.01M137.1 497.0h.01M140.7 473.1h.01M138.6 488.3h.01M138.3 460.3h.01M137.8 468.6h.01M137.6 496.5h.01M139.6 485.1h.01M139.9 522.2h.01M139.1 495.7h.01M138.7 465.6h.01M138.3 504.8h.01M136.9 482.4h.01M139.2 485.7h.01M138.3 490.6h.01M139.0 460.2h.01M138.6 456.4h.01M137.1 500.8h.01M138.4 508.3h.01M139.9 472.6h.01M138.6 520.5h.01M142.8 524.9h.01M139.5 458.7h.01M138.5 482.1h.01M140.2 522.6h.01M140.6 529.4h.01M140.3 506.2h.01M137.2 504.7h.01M139.4 473.2h.01M141.2 463.2h.01M140.8 494.0h.01M138.3 477.2h.01M139.2 449.1h.01M139.5 523.9h.01M140.4 496.6h.01M140.1 500.5h.01M139.6 486.0h.01M142.9 523.5h.01M140.4 498.5h.01M141.3 504.1h.01M136.4 528.4h.01M138.6 510.0h.01M136.8 485.6h.01M141.1 494.8h.01M139.2 461.0h.01M136.9 489.7h.01M138.7 481.5h.01M137.7 472.2h.01M138.3 490.3h.01M136.7 522.0h.01M140.9 474.9h.01M141.5 475.2h.01M136.9 497.0h.01M137.8 466.2h.01M138.3 471.9h.01M139.9 482.7h.01M140.7 475.8h.01M138.8 512.9h.01M140.2 524.9h.01M139.7 504.4h.01M139.1 490.3h.01M139.8 480.8h.01M141.4 481.2h.01M137.1 478.4h.01M138.2 473.2h.01M137.1 484.1h.01M139.9 452.5h.01M139.7 442.1h.01M138.3 510.2h.01M137.9 495.5h.01M140.6 474.6h.01M139.0 490.2h.01M140.6 527.9h.01M137.7 456.2h.01M142.7 525.1h.01M140.4 461.6h.01M138.6 483.7h.01M140.9 484.3h.01M137.4 507.8h.01M137.7 457.9h.01M140.0 474.6h.01M140.8 482.7h.01M138.5 452.5h.01M137.3 478.6h.01M137.0 525.6h.01M137.1 466.3h.01M140.6 483.0h.01M139.9 478.0h.01M137.9 460.5h.01M140.3 475.8h.01M141.5 521.4h.01M138.8 476.4h.01M138.9 466.1h.01M137.1 501.5h.01M141.1 497.0h.01M137.1 477.7h.01M140.2 520.9h.01M141.3 485.7h.01M137.6 503.2h.01M141.2 497.3h.01M138.1 482.0h.01" stroke="#2f7fc1" stroke-width="1.40" stroke-linecap="round" fill="none" opacity="0.85"/>
<path d="M125.40 527.59 L126.80 526.25 L129.60 525.23 L131.00 524.56 L129.60 523.89 L126.90 522.88 L126.20 521.19 L125.70 504.34 L125.40 503.67 L125.40 503.67 L125.10 504.34 L124.60 521.19 L123.90 522.88 L121.20 523.89 L119.80 524.56 L121.20 525.23 L124.00 526.25 L125.40 527.59Z" fill="#b3dd98" stroke="#5db54a" stroke-width="0.8" fill-opacity="1.0"/>
<path d="M123.9 514.1h.01M124.8 513.5h.01M124.0 510.4h.01M125.4 516.5h.01M126.6 520.3h.01M126.7 515.1h.01M126.2 523.6h.01M123.9 526.4h.01M125.4 521.3h.01M127.8 525.0h.01M124.8 513.8h.01M123.9 511.7h.01M121.7 524.4h.01M124.6 521.5h.01M127.2 509.7h.01M122.9 516.5h.01M123.4 518.6h.01M127.0 518.5h.01M126.1 523.5h.01M121.7 524.2h.01M124.8 525.2h.01M125.8 516.9h.01M127.1 523.7h.01M127.3 510.6h.01M127.0 513.8h.01M123.0 517.8h.01M124.2 522.4h.01M127.8 518.7h.01M128.4 523.3h.01M126.5 510.3h.01M123.3 526.0h.01M125.8 522.6h.01M120.7 524.4h.01M124.7 517.0h.01M123.5 515.7h.01M121.2 524.4h.01M121.7 525.5h.01M124.5 519.8h.01M123.1 524.3h.01M123.0 523.7h.01M127.4 509.7h.01M123.6 522.9h.01M125.4 518.6h.01M128.4 524.9h.01M122.8 525.1h.01M124.9 509.6h.01M124.1 523.2h.01M122.7 519.3h.01M124.1 518.2h.01M124.7 507.2h.01M126.0 520.2h.01M122.9 521.1h.01M128.7 523.8h.01M125.6 506.2h.01M125.9 518.1h.01M125.0 515.1h.01M126.3 524.5h.01M125.1 511.3h.01M123.2 522.3h.01M124.3 522.4h.01M123.3 523.7h.01M125.7 521.4h.01M126.1 519.7h.01M122.0 524.5h.01M127.5 513.3h.01M125.9 518.5h.01M127.8 525.5h.01M125.5 523.9h.01M127.6 526.0h.01M124.9 506.0h.01M124.7 522.5h.01M125.3 523.4h.01M125.3 510.9h.01M126.7 518.3h.01M127.7 522.6h.01M125.7 522.9h.01M126.9 509.7h.01M126.0 519.9h.01M122.7 516.9h.01M123.1 525.5h.01M127.2 525.7h.01M127.5 526.5h.01M126.9 521.4h.01M127.7 525.6h.01M126.9 523.6h.01M125.5 524.7h.01M126.2 511.9h.01M125.2 525.0h.01M123.3 517.9h.01M128.2 518.3h.01M123.8 513.4h.01M121.2 524.5h.01M126.4 510.1h.01M122.9 514.2h.01M126.9 524.1h.01M123.1 523.2h.01M124.0 515.7h.01M127.5 526.1h.01M127.7 523.6h.01M126.9 524.9h.01M122.6 523.0h.01M121.8 525.6h.01M122.8 525.0h.01M127.9 514.4h.01M125.1 522.1h.01M123.8 525.6h.01M127.8 524.2h.01M126.2 526.1h.01M124.8 516.8h.01M124.0 506.6h.01M125.0 513.4h.01M124.8 509.5h.01M123.3 518.9h.01M124.4 515.1h.01M127.5 520.8h.01" stroke="#3fa535" stroke-width="1.40" stroke-linecap="round" fill="none" opacity="0.8"/>
<path d="M125.4 488.7h.01M125.9 495.9h.01" stroke="#3fa535" stroke-width="1.50" stroke-linecap="round" fill="none" opacity="0.85"/>
<path d="M166.60 530.96 L169.60 530.46 L171.40 528.77 L172.20 526.25 L172.30 523.72 L171.60 521.19 L170.20 518.66 L168.60 516.13 L167.60 513.61 L167.20 511.08 L167.30 497.60 L167.30 463.90 L167.00 431.88 L166.60 430.20 L166.60 430.20 L166.20 431.88 L165.90 463.90 L165.90 497.60 L166.00 511.08 L165.60 513.61 L164.60 516.13 L163.00 518.66 L161.60 521.19 L160.90 523.72 L161.00 526.25 L161.80 528.77 L163.60 530.46 L166.60 530.96Z" fill="#a9cde9" stroke="#4a8fc7" stroke-width="0.8" fill-opacity="1.0"/>
<path d="M165.4 472.4h.01M167.7 446.0h.01M167.4 485.4h.01M165.9 489.2h.01M168.3 526.6h.01M167.0 476.2h.01M166.0 485.8h.01M168.5 489.2h.01M166.8 463.8h.01M165.1 513.4h.01M167.8 445.8h.01M164.9 486.3h.01M168.7 471.2h.01M165.2 491.9h.01M163.3 526.6h.01M166.4 451.4h.01M168.0 493.7h.01M166.0 494.0h.01M167.1 461.7h.01M167.5 457.5h.01M167.3 480.6h.01M167.0 521.3h.01M167.6 465.9h.01M164.5 461.1h.01M168.1 451.6h.01M169.1 524.2h.01M170.1 522.7h.01M165.0 487.2h.01M167.8 454.1h.01M165.0 528.8h.01M169.6 523.8h.01M164.8 464.8h.01M167.0 452.0h.01M164.7 487.7h.01M164.8 529.8h.01M166.7 466.5h.01M164.8 498.7h.01M167.7 520.4h.01M167.6 521.8h.01M170.1 523.5h.01M168.7 485.6h.01M168.0 492.5h.01M167.9 497.0h.01M166.6 490.1h.01M167.6 469.6h.01M167.9 480.6h.01M165.0 456.6h.01M164.8 498.4h.01M164.5 486.7h.01M164.6 500.5h.01M165.7 495.1h.01M165.6 485.6h.01M165.9 485.7h.01M165.0 468.4h.01M165.8 482.5h.01M166.0 459.9h.01M167.0 474.6h.01M168.4 523.0h.01M167.9 507.6h.01M166.2 501.6h.01M166.4 522.7h.01M164.8 485.5h.01M164.9 478.6h.01M165.0 520.7h.01M165.1 491.7h.01M168.2 496.6h.01M166.6 486.7h.01M164.9 489.6h.01M166.6 505.5h.01M165.2 495.5h.01M167.7 469.2h.01M164.5 517.7h.01M163.5 520.4h.01M165.2 490.5h.01M164.0 522.0h.01M165.0 503.8h.01M165.7 509.0h.01M168.5 470.2h.01M167.1 465.0h.01M166.6 468.9h.01M168.8 502.3h.01M167.2 486.6h.01M164.6 490.1h.01M167.4 454.6h.01M166.5 476.6h.01M168.8 497.2h.01M165.9 482.5h.01M169.4 527.8h.01M166.5 467.3h.01M166.7 461.2h.01M167.9 487.8h.01M163.6 523.1h.01M165.5 459.3h.01M169.8 521.5h.01M166.8 522.7h.01M164.9 496.6h.01M167.2 495.3h.01M164.2 525.8h.01M166.4 478.3h.01M167.9 487.7h.01M166.7 456.3h.01M167.7 487.5h.01M165.8 490.6h.01M167.6 501.9h.01M167.6 522.1h.01M167.6 486.7h.01M167.7 442.3h.01M165.7 519.1h.01M167.9 485.4h.01M166.3 455.1h.01M165.3 497.4h.01M168.0 488.5h.01M168.2 520.7h.01M167.1 472.7h.01M166.3 525.3h.01M167.9 466.8h.01M165.9 501.1h.01M165.6 479.1h.01M164.7 461.0h.01M166.7 514.7h.01M168.3 513.2h.01M168.3 449.4h.01M166.6 522.9h.01M165.0 507.3h.01M168.7 496.7h.01M163.6 525.7h.01M164.9 491.0h.01M168.2 482.1h.01M168.5 491.1h.01M165.1 524.3h.01M169.8 526.2h.01M166.2 443.8h.01M165.8 482.1h.01M167.5 469.1h.01M165.0 489.9h.01M166.7 488.2h.01M164.9 467.2h.01M167.7 490.2h.01M168.5 484.9h.01M165.5 458.5h.01M168.0 451.1h.01M165.9 492.5h.01M168.7 503.1h.01M166.3 436.3h.01M165.8 485.2h.01M165.4 520.3h.01M166.7 495.6h.01M165.8 513.4h.01M165.8 445.3h.01M165.3 474.0h.01M164.2 526.2h.01M168.7 474.7h.01M165.1 519.9h.01M166.8 487.5h.01M167.6 480.1h.01M165.6 469.1h.01M168.6 471.8h.01M167.3 504.7h.01M165.7 441.4h.01M168.4 492.9h.01M167.3 460.6h.01M167.4 481.8h.01M165.1 491.0h.01M165.6 526.1h.01M166.3 486.4h.01M166.6 490.3h.01M164.6 476.6h.01M167.9 510.6h.01M165.0 497.8h.01M168.0 527.2h.01M167.0 488.5h.01M167.5 491.6h.01M166.9 442.2h.01M168.3 478.1h.01M169.8 521.6h.01M168.8 475.5h.01M166.9 501.8h.01M164.9 458.0h.01M166.4 468.6h.01M168.5 500.3h.01M168.0 458.7h.01M164.1 523.9h.01M166.6 460.1h.01M167.7 523.4h.01M167.7 481.6h.01M165.2 469.3h.01M169.4 526.0h.01M167.3 460.8h.01M168.2 472.5h.01M166.3 524.5h.01M168.2 486.2h.01M165.5 485.7h.01M167.8 468.5h.01M167.9 495.7h.01M165.1 482.3h.01M167.5 480.7h.01M166.2 524.5h.01M167.7 498.9h.01M168.6 463.7h.01M166.9 476.9h.01" stroke="#2f7fc1" stroke-width="1.40" stroke-linecap="round" fill="none" opacity="0.85"/>
<path d="M153.20 527.59 L154.60 526.25 L157.40 525.23 L158.80 524.56 L157.40 523.89 L154.70 522.88 L154.00 521.19 L153.50 503.50 L153.20 502.82 L153.20 502.82 L152.90 503.50 L152.40 521.19 L151.70 522.88 L149.00 523.89 L147.60 524.56 L149.00 525.23 L151.80 526.25 L153.20 527.59Z" fill="#b3dd98" stroke="#5db54a" stroke-width="0.8" fill-opacity="1.0"/>
<path d="M151.0 522.7h.01M152.6 522.4h.01M155.5 524.9h.01M154.8 519.3h.01M154.2 507.6h.01M153.3 518.3h.01M154.4 511.1h.01M150.6 520.3h.01M152.4 515.7h.01M155.9 518.5h.01M152.6 525.7h.01M157.4 524.0h.01M153.0 516.7h.01M154.0 523.3h.01M156.5 524.5h.01M155.1 525.7h.01M151.4 523.9h.01M153.8 505.4h.01M154.4 511.4h.01M155.4 514.4h.01M152.4 520.6h.01M154.8 517.5h.01M152.3 515.4h.01M150.8 515.9h.01M151.4 524.3h.01M151.9 523.8h.01M149.2 524.1h.01M154.2 521.3h.01M154.4 521.9h.01M157.7 524.6h.01M151.7 520.2h.01M151.3 514.2h.01M154.2 521.4h.01M153.2 521.2h.01M153.2 515.9h.01M152.5 520.3h.01M157.0 525.1h.01M152.4 525.6h.01M152.7 504.4h.01M152.6 523.2h.01M151.6 525.6h.01M151.8 518.6h.01M152.8 512.5h.01M155.4 519.0h.01M154.5 522.6h.01M151.3 511.6h.01M149.8 524.4h.01M152.6 523.3h.01M155.3 525.2h.01M150.9 520.1h.01M155.3 521.1h.01M154.6 523.2h.01M151.8 515.3h.01M152.2 519.2h.01M151.1 516.8h.01M152.5 525.2h.01M152.0 526.2h.01M155.2 524.8h.01M154.3 522.5h.01M157.1 524.7h.01M154.5 510.4h.01M154.8 520.2h.01M152.8 514.0h.01M152.4 524.1h.01M152.1 525.2h.01M153.4 512.5h.01M152.9 522.0h.01M151.8 517.3h.01M155.1 519.1h.01M152.2 522.4h.01M155.3 523.7h.01M150.5 523.2h.01M150.2 522.7h.01M153.9 522.5h.01M151.2 512.1h.01M154.2 507.8h.01M149.7 523.6h.01M153.6 525.5h.01M151.8 521.4h.01M152.0 524.9h.01M152.3 521.6h.01M150.8 520.7h.01M154.9 514.9h.01M152.6 512.9h.01M154.8 522.5h.01M154.1 517.6h.01M156.3 525.7h.01M153.1 523.6h.01M154.4 521.1h.01M154.8 515.4h.01M152.9 518.1h.01M149.4 524.6h.01M153.5 513.0h.01M153.0 507.9h.01M150.6 521.7h.01M153.7 518.5h.01M152.7 520.3h.01M156.4 524.0h.01M150.7 519.6h.01M152.1 525.1h.01M154.5 518.5h.01M150.8 517.4h.01M154.5 517.4h.01M155.9 525.0h.01M155.7 523.8h.01M156.2 524.5h.01M154.0 520.3h.01M150.4 525.5h.01M152.7 513.2h.01M154.6 514.3h.01M154.3 520.4h.01M151.7 514.5h.01M152.6 508.9h.01M154.9 519.8h.01M150.6 518.5h.01" stroke="#3fa535" stroke-width="1.40" stroke-linecap="round" fill="none" opacity="0.8"/>
<path d="M153.7 493.6h.01M152.7 495.9h.01" stroke="#3fa535" stroke-width="1.50" stroke-linecap="round" fill="none" opacity="0.85"/>
<rect x="36.40" y="421.40" width="137.10" height="110.00" fill="none" stroke="#8c8c8c" stroke-width="1" />
<line x1="34.20" y1="531.30" x2="36.40" y2="531.30" stroke="#8c8c8c" stroke-width="0.8" />
<text x="33.60" y="533.90" font-size="7.3" fill="#333333" text-anchor="end" font-weight="normal" >0</text>
<line x1="34.20" y1="514.45" x2="36.40" y2="514.45" stroke="#8c8c8c" stroke-width="0.8" />
<text x="33.60" y="517.05" font-size="7.3" fill="#333333" text-anchor="end" font-weight="normal" >10</text>
<line x1="34.20" y1="497.60" x2="36.40" y2="497.60" stroke="#8c8c8c" stroke-width="0.8" />
<text x="33.60" y="500.20" font-size="7.3" fill="#333333" text-anchor="end" font-weight="normal" >20</text>
<line x1="34.20" y1="480.75" x2="36.40" y2="480.75" stroke="#8c8c8c" stroke-width="0.8" />
<text x="33.60" y="483.35" font-size="7.3" fill="#333333" text-anchor="end" font-weight="normal" >30</text>
<line x1="34.20" y1="463.90" x2="36.40" y2="463.90" stroke="#8c8c8c" stroke-width="0.8" />
<text x="33.60" y="466.50" font-size="7.3" fill="#333333" text-anchor="end" font-weight="normal" >40</text>
<line x1="34.20" y1="447.05" x2="36.40" y2="447.05" stroke="#8c8c8c" stroke-width="0.8" />
<text x="33.60" y="449.65" font-size="7.3" fill="#333333" text-anchor="end" font-weight="normal" >50</text>
<line x1="34.20" y1="430.20" x2="36.40" y2="430.20" stroke="#8c8c8c" stroke-width="0.8" />
<text x="33.60" y="432.80" font-size="7.3" fill="#333333" text-anchor="end" font-weight="normal" >60</text>
<line x1="57.00" y1="531.40" x2="57.00" y2="533.40" stroke="#8c8c8c" stroke-width="0.8" />
<text x="58.00" y="544.00" font-size="10.2" fill="#231815" text-anchor="middle" font-weight="normal" >#1</text>
<line x1="84.40" y1="531.40" x2="84.40" y2="533.40" stroke="#8c8c8c" stroke-width="0.8" />
<text x="85.40" y="544.00" font-size="10.2" fill="#231815" text-anchor="middle" font-weight="normal" >#2</text>
<line x1="111.60" y1="531.40" x2="111.60" y2="533.40" stroke="#8c8c8c" stroke-width="0.8" />
<text x="112.60" y="544.00" font-size="10.2" fill="#231815" text-anchor="middle" font-weight="normal" >#3</text>
<line x1="138.60" y1="531.40" x2="138.60" y2="533.40" stroke="#8c8c8c" stroke-width="0.8" />
<text x="139.60" y="544.00" font-size="10.2" fill="#231815" text-anchor="middle" font-weight="normal" >#4</text>
<line x1="165.50" y1="531.40" x2="165.50" y2="533.40" stroke="#8c8c8c" stroke-width="0.8" />
<text x="166.50" y="544.00" font-size="10.2" fill="#231815" text-anchor="middle" font-weight="normal" >#5</text>
<rect x="62.20" y="424.30" width="16.30" height="8.20" fill="#a7d98c" stroke="#6ec158" stroke-width="0.8" />
<text x="80.60" y="431.30" font-size="7.5" fill="#231815" text-anchor="start" font-weight="normal" >DiO</text>
<rect x="99.50" y="424.30" width="16.30" height="8.20" fill="#a9cde6" stroke="#5f9fd2" stroke-width="0.8" />
<text x="118.20" y="431.30" font-size="7.5" fill="#231815" text-anchor="start" font-weight="normal" >Hoechst</text>
<text x="0" y="0" font-size="9.2" fill="#231815" text-anchor="middle" transform="translate(21.60,476.40) rotate(-90)">FL (arbitrary units)</text>
<rect x="205.00" y="277.25" width="136.70" height="62.90" fill="#eef4e9" stroke="none" stroke-width="1" />
<path d="M211.00 367.83 L212.50 365.31 L215.20 362.17 L217.00 357.76 L215.50 353.99 L213.50 350.84 L212.50 346.44 L212.20 333.86 L212.00 314.99 L211.40 302.41 L211.00 300.84 L211.00 300.84 L210.60 302.41 L210.00 314.99 L209.80 333.86 L209.50 346.44 L208.50 350.84 L206.50 353.99 L205.00 357.76 L206.80 362.17 L209.50 365.31 L211.00 367.83Z" fill="#b3dd98" stroke="#5db54a" stroke-width="0.8" fill-opacity="1.0"/>
<path d="M209.4 331.5h.01M209.7 322.5h.01M208.8 347.9h.01M210.1 356.7h.01M209.2 352.4h.01M209.3 348.4h.01M208.7 341.5h.01M211.9 334.9h.01M207.2 357.7h.01M210.0 325.0h.01M211.2 324.0h.01M212.0 314.1h.01M211.8 347.1h.01M212.0 339.6h.01M211.9 336.7h.01M212.4 343.8h.01M212.7 345.4h.01M208.4 355.7h.01M209.3 325.7h.01M211.5 331.2h.01M211.1 328.4h.01M211.2 359.0h.01M213.0 360.5h.01M209.5 338.2h.01M212.0 340.5h.01M210.6 342.7h.01M210.4 359.7h.01M209.7 349.0h.01M209.6 352.3h.01M211.2 313.6h.01M211.2 329.9h.01M213.6 353.2h.01M209.2 357.3h.01M211.8 323.3h.01M208.9 350.0h.01M211.5 321.2h.01M209.7 325.4h.01M212.3 322.3h.01M212.9 330.0h.01M209.4 353.2h.01M212.6 348.5h.01M209.8 336.0h.01M210.1 343.9h.01M209.1 344.5h.01M210.7 349.8h.01M208.7 351.3h.01M212.3 352.5h.01M211.3 337.0h.01M210.5 353.3h.01M212.0 344.5h.01M208.8 358.2h.01M209.7 355.8h.01M210.3 346.8h.01M207.9 352.2h.01M212.9 343.7h.01M208.0 354.9h.01M209.2 339.2h.01M212.3 338.5h.01M212.3 332.2h.01M210.7 353.6h.01M210.8 317.9h.01M209.2 347.1h.01M209.2 322.6h.01M211.1 335.7h.01M209.7 347.5h.01M209.2 348.7h.01M213.7 353.3h.01M208.1 352.0h.01M210.4 335.2h.01M213.1 357.5h.01M212.3 349.1h.01M209.3 337.0h.01M212.2 346.1h.01M211.4 350.6h.01M211.8 351.3h.01M213.3 348.3h.01M212.4 343.0h.01M211.7 355.4h.01M211.9 320.6h.01M210.9 353.2h.01M211.3 350.8h.01M212.6 345.1h.01M211.5 337.4h.01M210.1 355.3h.01M207.1 357.4h.01M212.7 351.1h.01M210.2 343.5h.01M210.7 325.5h.01M210.1 329.9h.01M211.2 315.6h.01M210.7 317.0h.01M212.5 336.3h.01M211.3 323.2h.01M211.3 351.2h.01M212.5 363.1h.01M210.7 345.8h.01M211.2 345.9h.01M213.0 358.7h.01M212.4 352.5h.01M212.9 356.5h.01M212.3 321.4h.01M211.2 325.1h.01M211.2 334.3h.01M209.7 330.1h.01M210.0 327.7h.01M210.6 361.2h.01M211.0 346.8h.01M212.9 340.9h.01M208.7 347.7h.01M209.7 357.6h.01M212.2 347.4h.01M210.9 322.3h.01M211.6 306.7h.01M209.4 339.7h.01M212.3 340.5h.01M210.7 337.7h.01M211.3 343.4h.01M208.7 349.1h.01M210.4 353.5h.01M212.6 349.4h.01M212.7 354.6h.01M211.3 345.6h.01M210.6 339.2h.01M209.3 323.5h.01M211.8 328.6h.01M210.7 341.6h.01M212.5 354.0h.01M211.6 350.4h.01M210.5 350.1h.01M212.3 364.6h.01M209.3 339.6h.01M213.3 347.5h.01M208.1 354.6h.01M212.9 327.8h.01M211.4 348.2h.01M210.6 357.5h.01M213.0 341.7h.01M211.0 328.8h.01M211.0 351.2h.01M209.4 323.7h.01M212.2 329.8h.01M211.6 335.6h.01M209.5 350.7h.01M209.3 335.4h.01M210.5 361.2h.01M212.9 334.8h.01M212.5 327.0h.01M210.8 343.2h.01M208.9 339.1h.01M212.6 342.1h.01M209.6 341.1h.01M212.1 344.6h.01M211.0 317.7h.01M213.2 343.4h.01M208.5 360.7h.01M212.1 326.5h.01M212.0 341.0h.01M208.9 336.7h.01M211.4 352.2h.01M209.9 350.3h.01M212.0 345.8h.01M213.4 348.6h.01M211.8 346.0h.01M211.0 310.7h.01M211.8 357.0h.01" stroke="#3fa535" stroke-width="1.40" stroke-linecap="round" fill="none" opacity="0.85"/>
<path d="M225.00 367.83 L228.50 366.73 L231.00 365.31 L228.50 363.89 L226.30 362.17 L226.00 355.88 L225.50 357.45 L225.00 356.19 L225.00 356.19 L224.50 357.45 L224.00 355.88 L223.70 362.17 L221.50 363.89 L219.00 365.31 L221.50 366.73 L225.00 367.83Z" fill="#a9cde9" stroke="#4a8fc7" stroke-width="0.8" fill-opacity="1.0"/>
<path d="M228.2 365.4h.01M225.7 364.0h.01M225.6 363.2h.01M224.0 364.1h.01M225.6 364.5h.01M224.7 360.7h.01M225.1 360.9h.01M227.2 363.4h.01M223.4 361.1h.01M223.3 363.9h.01M226.6 360.3h.01M226.7 361.4h.01M226.8 363.8h.01M226.4 361.7h.01M221.2 365.6h.01M227.1 365.5h.01M221.9 364.7h.01M228.4 365.4h.01M224.2 366.1h.01M225.0 367.2h.01M225.1 361.9h.01M222.3 365.0h.01M225.3 361.3h.01M226.4 362.8h.01M224.8 361.4h.01M224.5 364.6h.01M224.5 362.7h.01M223.8 363.0h.01M224.1 362.0h.01M227.2 364.1h.01M229.5 365.2h.01M224.5 361.0h.01M224.0 363.2h.01M224.3 359.6h.01M228.4 365.1h.01M224.0 358.7h.01M222.8 366.4h.01M224.3 362.4h.01M223.3 360.4h.01M223.6 359.6h.01M223.9 358.8h.01M226.5 365.2h.01M226.7 360.9h.01M222.8 365.0h.01M224.2 362.1h.01M225.5 364.0h.01M223.1 362.7h.01M221.8 366.1h.01M225.3 360.7h.01M224.9 362.1h.01M223.6 365.5h.01M224.2 365.4h.01M223.1 360.9h.01M223.2 364.4h.01M222.2 364.8h.01M223.4 363.9h.01M223.3 362.0h.01M226.6 363.5h.01M221.7 364.2h.01M224.7 367.2h.01M223.7 360.4h.01M223.8 362.8h.01M226.0 361.7h.01M226.8 360.8h.01M226.9 362.0h.01M224.0 366.7h.01M225.2 359.9h.01M224.4 364.8h.01M223.2 363.1h.01M224.7 358.5h.01M225.4 362.1h.01M224.6 362.9h.01M226.4 363.5h.01M224.5 365.9h.01M223.7 364.0h.01M227.6 366.5h.01M225.3 367.2h.01M223.6 363.7h.01M228.9 365.2h.01M224.9 363.9h.01M225.4 362.2h.01M224.7 365.5h.01M226.4 358.6h.01M227.0 364.8h.01M224.5 365.9h.01M224.2 363.8h.01M227.7 365.4h.01M226.3 362.4h.01M225.4 362.8h.01M226.5 362.3h.01" stroke="#2f7fc1" stroke-width="1.40" stroke-linecap="round" fill="none" opacity="0.85"/>
<path d="M225.0 308.7h.01M224.0 332.3h.01M225.5 333.9h.01M225.0 354.3h.01" stroke="#2f7fc1" stroke-width="1.50" stroke-linecap="round" fill="none" opacity="1.0"/>
<path d="M210.0 289.8h.01M212.0 305.6h.01" stroke="#3fa535" stroke-width="1.50" stroke-linecap="round" fill="none" opacity="1.0"/>
<path d="M238.40 367.83 L239.90 365.31 L242.60 362.17 L244.40 357.76 L242.90 353.99 L240.90 350.84 L239.90 346.44 L239.60 333.86 L239.40 314.99 L238.80 296.12 L238.40 294.55 L238.40 294.55 L238.00 296.12 L237.40 314.99 L237.20 333.86 L236.90 346.44 L235.90 350.84 L233.90 353.99 L232.40 357.76 L234.20 362.17 L236.90 365.31 L238.40 367.83Z" fill="#b3dd98" stroke="#5db54a" stroke-width="0.8" fill-opacity="1.0"/>
<path d="M237.2 340.6h.01M240.1 345.8h.01M240.5 353.9h.01M235.4 359.3h.01M236.1 340.3h.01M240.0 318.2h.01M240.7 345.0h.01M237.9 309.5h.01M238.5 330.6h.01M235.3 361.2h.01M238.4 307.6h.01M236.8 343.7h.01M238.9 313.0h.01M235.6 357.0h.01M238.7 335.1h.01M237.5 346.8h.01M238.3 347.8h.01M241.5 353.9h.01M238.5 307.1h.01M241.3 352.2h.01M239.4 337.0h.01M237.1 344.8h.01M237.3 333.8h.01M239.7 328.4h.01M240.2 353.2h.01M237.3 316.4h.01M239.8 337.8h.01M237.8 315.9h.01M238.8 350.0h.01M241.5 358.8h.01M241.1 353.1h.01M236.8 345.5h.01M236.9 331.9h.01M237.2 347.8h.01M238.9 343.8h.01M241.8 360.0h.01M239.3 350.9h.01M239.1 312.6h.01M239.1 308.2h.01M238.3 346.3h.01M237.5 355.8h.01M239.6 328.2h.01M238.7 313.6h.01M241.2 360.4h.01M240.9 346.5h.01M238.2 353.7h.01M237.6 343.8h.01M236.5 349.0h.01M238.8 343.1h.01M237.5 341.0h.01M237.4 349.1h.01M238.4 301.5h.01M239.6 349.7h.01M239.4 349.9h.01M238.3 299.9h.01M239.3 351.2h.01M238.9 333.5h.01M239.4 309.5h.01M239.3 342.5h.01M239.9 333.8h.01M237.2 337.1h.01M240.2 346.4h.01M237.6 301.4h.01M239.6 327.4h.01M235.9 349.5h.01M239.1 361.3h.01M237.8 312.9h.01M237.0 329.4h.01M239.5 340.7h.01M236.6 346.1h.01M239.1 328.5h.01M236.8 323.5h.01M236.5 352.9h.01M237.9 338.6h.01M238.8 346.8h.01M239.0 329.9h.01M237.8 329.6h.01M240.9 361.3h.01M236.3 336.8h.01M237.1 329.8h.01M237.9 339.2h.01M239.0 350.4h.01M239.0 323.7h.01M239.9 325.0h.01M237.6 348.9h.01M239.0 338.6h.01M239.0 316.8h.01M236.8 342.1h.01M238.0 316.0h.01M238.2 333.2h.01M238.7 312.5h.01M238.6 355.1h.01M236.3 351.4h.01M237.1 337.2h.01M237.5 347.0h.01M235.6 354.1h.01M239.6 340.2h.01M241.0 353.5h.01M239.6 347.6h.01M238.0 299.9h.01M238.8 344.5h.01M235.8 350.6h.01M236.9 348.8h.01M236.4 358.3h.01M238.8 334.8h.01M238.8 347.7h.01M238.7 361.7h.01M235.9 359.7h.01M238.4 334.6h.01M239.6 344.3h.01M240.5 351.0h.01M237.6 351.9h.01M238.2 329.3h.01M241.1 355.3h.01M235.4 353.6h.01M238.9 335.9h.01M237.2 315.4h.01M240.6 355.2h.01M239.8 356.7h.01M236.1 349.9h.01M237.3 309.7h.01M239.1 300.1h.01M237.5 341.6h.01M238.8 347.6h.01M238.8 340.6h.01M237.8 344.9h.01M237.7 301.6h.01M239.4 337.4h.01M238.0 309.5h.01M237.8 356.3h.01M240.8 358.4h.01M240.5 342.3h.01M237.9 308.6h.01M237.1 359.7h.01M240.4 360.4h.01M238.3 313.0h.01M239.6 317.1h.01M237.9 329.4h.01M236.6 331.1h.01M237.0 352.7h.01M240.1 333.9h.01M238.7 334.0h.01M242.3 357.5h.01M239.7 327.7h.01M239.3 345.4h.01M236.8 345.4h.01M237.8 353.8h.01M236.1 343.0h.01M238.0 306.3h.01M237.4 322.7h.01M240.0 322.6h.01M237.5 311.2h.01M237.2 356.5h.01M235.2 353.8h.01M236.9 335.3h.01M239.2 325.6h.01M237.7 360.0h.01M238.4 349.9h.01M239.7 327.3h.01M239.1 320.3h.01M236.0 357.3h.01M240.0 353.5h.01M239.2 335.8h.01M238.7 316.5h.01M238.4 349.8h.01" stroke="#3fa535" stroke-width="1.40" stroke-linecap="round" fill="none" opacity="0.85"/>
<path d="M252.50 367.20 L256.00 366.10 L258.50 364.68 L256.00 363.27 L253.80 361.54 L253.50 355.25 L253.00 340.15 L252.50 338.89 L252.50 338.89 L252.00 340.15 L251.50 355.25 L251.20 361.54 L249.00 363.27 L246.50 364.68 L249.00 366.10 L252.50 367.20Z" fill="#a9cde9" stroke="#4a8fc7" stroke-width="0.8" fill-opacity="1.0"/>
<path d="M253.9 354.6h.01M250.7 363.9h.01M252.6 353.5h.01M251.9 363.5h.01M254.1 356.7h.01M252.5 362.2h.01M254.3 367.7h.01M254.1 366.3h.01M250.9 356.1h.01M253.3 364.3h.01M252.5 355.4h.01M249.9 365.6h.01M254.0 352.6h.01M253.8 351.3h.01M254.4 353.3h.01M252.4 364.9h.01M251.1 342.3h.01M253.7 365.5h.01M253.9 360.8h.01M251.6 361.7h.01M253.5 362.2h.01M252.4 351.6h.01M252.0 359.7h.01M255.4 363.3h.01M253.3 357.0h.01M254.4 345.0h.01M254.1 363.2h.01M253.8 354.2h.01M250.7 366.0h.01M254.7 364.2h.01M250.9 357.6h.01M253.9 363.0h.01M253.3 362.2h.01M251.6 364.2h.01M252.8 362.0h.01M254.4 361.9h.01M254.3 364.9h.01M250.7 364.2h.01M256.5 365.2h.01M255.2 364.9h.01M250.6 364.9h.01M252.2 355.9h.01M251.9 360.9h.01M252.3 355.5h.01M254.6 363.3h.01M251.9 362.7h.01M256.5 364.3h.01M251.7 350.6h.01M251.1 364.8h.01M251.5 362.9h.01M254.5 365.7h.01M250.9 362.4h.01M251.1 347.4h.01M253.7 350.1h.01M253.5 344.6h.01M251.1 361.2h.01M251.9 363.7h.01M250.6 362.5h.01M255.9 364.6h.01M255.8 364.2h.01M248.3 364.4h.01M255.0 364.2h.01M250.1 365.0h.01M255.7 365.9h.01M251.1 360.7h.01M254.6 362.6h.01M251.2 365.9h.01M252.9 363.8h.01M252.8 365.8h.01M253.7 360.1h.01M251.9 352.8h.01M254.7 363.9h.01M253.7 351.5h.01M253.7 365.5h.01M248.0 364.7h.01M252.3 352.2h.01M251.4 357.2h.01M254.5 353.9h.01M252.2 353.4h.01M254.0 349.3h.01M252.2 357.3h.01M251.5 361.0h.01M251.3 356.1h.01M254.1 363.7h.01M250.9 348.1h.01M252.4 359.3h.01M252.6 348.8h.01M256.8 364.9h.01M253.8 355.1h.01M248.2 364.6h.01" stroke="#2f7fc1" stroke-width="1.40" stroke-linecap="round" fill="none" opacity="0.85"/>
<path d="M251.5 322.9h.01M252.5 324.4h.01M253.0 327.6h.01M252.5 332.3h.01" stroke="#2f7fc1" stroke-width="1.50" stroke-linecap="round" fill="none" opacity="1.0"/>
<path d="M238.4 291.4h.01" stroke="#3fa535" stroke-width="1.50" stroke-linecap="round" fill="none" opacity="1.0"/>
<path d="M265.80 367.83 L267.30 365.31 L270.00 362.17 L271.80 357.76 L270.30 353.99 L268.30 350.84 L267.30 346.44 L267.00 333.86 L266.80 314.99 L266.20 292.98 L265.80 291.40 L265.80 291.40 L265.40 292.98 L264.80 314.99 L264.60 333.86 L264.30 346.44 L263.30 350.84 L261.30 353.99 L259.80 357.76 L261.60 362.17 L264.30 365.31 L265.80 367.83Z" fill="#b3dd98" stroke="#5db54a" stroke-width="0.8" fill-opacity="1.0"/>
<path d="M263.9 339.3h.01M268.3 351.0h.01M263.5 344.6h.01M264.4 341.9h.01M263.3 353.8h.01M265.6 341.6h.01M264.9 342.4h.01M265.7 350.4h.01M264.5 338.6h.01M265.9 345.7h.01M267.1 362.2h.01M265.2 339.9h.01M264.4 343.4h.01M266.9 348.9h.01M266.9 349.2h.01M267.5 354.0h.01M267.7 323.9h.01M265.3 317.2h.01M266.2 341.3h.01M266.1 315.1h.01M265.5 327.7h.01M265.6 339.4h.01M265.5 343.0h.01M265.4 327.3h.01M265.6 311.7h.01M266.8 318.5h.01M266.5 349.9h.01M267.3 326.6h.01M267.5 335.2h.01M265.0 334.7h.01M264.9 320.3h.01M265.9 313.8h.01M268.8 355.5h.01M264.1 342.7h.01M265.2 344.8h.01M265.8 324.3h.01M264.0 335.6h.01M268.4 354.9h.01M267.3 333.3h.01M264.8 351.5h.01M266.7 317.2h.01M264.8 320.1h.01M263.2 353.4h.01M266.2 316.5h.01M265.2 325.9h.01M265.2 342.7h.01M266.6 308.8h.01M267.7 359.5h.01M266.2 314.2h.01M267.8 350.5h.01M265.0 332.4h.01M267.0 320.1h.01M267.2 337.3h.01M266.3 353.6h.01M264.8 330.5h.01M265.7 310.9h.01M267.0 332.0h.01M267.5 327.1h.01M265.0 338.2h.01M267.0 359.2h.01M268.7 360.6h.01M267.6 329.9h.01M264.5 328.2h.01M265.7 324.9h.01M263.4 359.7h.01M266.9 331.0h.01M266.9 327.8h.01M267.9 344.2h.01M265.6 304.3h.01M266.4 313.5h.01M264.7 305.5h.01M264.8 323.1h.01M265.6 354.0h.01M265.9 319.2h.01M265.8 318.2h.01M266.1 348.7h.01M266.1 347.1h.01M266.6 346.9h.01M262.4 359.7h.01M267.2 340.2h.01M262.4 355.4h.01M263.3 349.3h.01M266.2 324.2h.01M263.5 340.7h.01M266.5 311.9h.01M265.2 347.5h.01M266.0 329.8h.01M267.8 345.4h.01M266.5 342.5h.01M267.7 360.9h.01M264.6 329.6h.01M265.6 312.0h.01M265.4 327.0h.01M264.7 325.0h.01M265.4 355.5h.01M264.6 357.8h.01M265.2 344.5h.01M263.3 349.4h.01M265.8 353.2h.01M265.6 299.1h.01M263.8 358.8h.01M267.3 330.5h.01M267.0 361.7h.01M264.9 317.1h.01M268.2 353.2h.01M267.3 349.2h.01M262.8 354.2h.01M264.8 307.2h.01M263.7 346.9h.01M268.1 350.4h.01M266.6 323.9h.01M266.1 346.8h.01M266.4 340.8h.01M267.4 318.9h.01M265.9 356.5h.01M265.0 299.6h.01M264.6 333.0h.01M264.7 332.0h.01M266.3 335.8h.01M264.5 350.8h.01M266.3 322.9h.01M263.1 352.0h.01M267.8 359.4h.01M263.8 350.3h.01M264.5 324.2h.01M267.1 345.3h.01M263.2 350.2h.01M265.1 299.1h.01M266.1 317.6h.01M267.6 347.5h.01M264.1 319.6h.01M263.0 359.4h.01M266.3 333.7h.01M265.2 312.7h.01M267.1 337.5h.01M264.9 346.6h.01M264.4 352.9h.01M266.5 332.4h.01M263.5 344.4h.01M267.6 338.1h.01M264.3 339.1h.01M266.2 299.1h.01M267.1 326.8h.01M267.1 326.8h.01M266.3 341.7h.01M263.9 343.4h.01M265.1 355.0h.01M263.8 352.5h.01M267.5 356.4h.01M263.6 338.7h.01M264.3 341.5h.01M266.5 324.8h.01M266.3 334.1h.01M267.3 333.8h.01M267.0 336.0h.01M267.4 334.0h.01M265.9 337.3h.01M265.5 315.0h.01M267.1 322.4h.01M264.0 346.5h.01M262.9 352.7h.01M264.6 348.3h.01M267.5 333.5h.01M265.1 352.6h.01M265.2 313.6h.01" stroke="#3fa535" stroke-width="1.40" stroke-linecap="round" fill="none" opacity="0.85"/>
<path d="M279.80 366.88 L283.30 365.78 L285.80 364.37 L283.30 362.95 L281.10 361.22 L280.80 354.93 L280.30 340.15 L279.80 338.89 L279.80 338.89 L279.30 340.15 L278.80 354.93 L278.50 361.22 L276.30 362.95 L273.80 364.37 L276.30 365.78 L279.80 366.88Z" fill="#a9cde9" stroke="#4a8fc7" stroke-width="0.8" fill-opacity="1.0"/>
<path d="M280.1 366.2h.01M280.9 359.7h.01M279.8 364.4h.01M280.4 366.1h.01M281.5 353.2h.01M280.8 361.7h.01M279.3 364.7h.01M281.9 364.3h.01M282.6 365.8h.01M279.8 361.3h.01M282.6 364.2h.01M279.9 346.2h.01M278.1 361.6h.01M281.4 363.4h.01M278.4 357.6h.01M282.2 362.8h.01M281.2 347.3h.01M281.4 364.5h.01M282.6 363.0h.01M278.0 361.6h.01M280.9 361.2h.01M281.5 357.7h.01M278.9 366.2h.01M279.4 340.6h.01M278.0 354.2h.01M280.7 357.3h.01M277.9 361.8h.01M280.4 354.5h.01M279.9 366.2h.01M280.5 351.1h.01M280.8 366.1h.01M283.1 365.4h.01M280.5 348.2h.01M281.3 347.2h.01M277.0 365.5h.01M279.9 348.0h.01M281.0 365.4h.01M281.7 361.3h.01M278.9 348.6h.01M281.3 362.1h.01M280.3 364.9h.01M281.4 361.7h.01M278.7 365.1h.01M279.1 356.1h.01M281.2 361.1h.01M280.2 343.0h.01M280.4 355.9h.01M280.5 363.2h.01M281.1 356.4h.01M279.2 354.0h.01M276.4 365.2h.01M282.8 363.6h.01M280.8 365.0h.01M276.8 363.3h.01M281.6 358.9h.01M282.5 363.1h.01M280.0 362.5h.01M279.1 360.8h.01M280.8 350.9h.01M281.0 352.5h.01M281.2 345.5h.01M280.3 363.1h.01M282.4 364.7h.01M281.6 351.5h.01M280.6 353.3h.01M279.5 360.5h.01M278.4 348.9h.01M278.8 344.0h.01M280.0 361.0h.01M281.6 352.8h.01M278.2 356.5h.01M280.9 364.6h.01M281.2 361.7h.01M279.2 362.5h.01M279.5 360.1h.01M282.3 364.1h.01M279.3 359.8h.01M277.8 356.9h.01M279.1 361.4h.01M278.0 358.5h.01M281.6 367.6h.01M279.5 346.3h.01M281.4 362.2h.01M278.4 361.0h.01M278.8 363.4h.01M280.6 366.4h.01M278.3 355.2h.01M279.5 361.4h.01M279.2 365.0h.01M275.6 364.9h.01" stroke="#2f7fc1" stroke-width="1.40" stroke-linecap="round" fill="none" opacity="0.85"/>
<path d="M279.8 329.1h.01M279.8 340.2h.01" stroke="#2f7fc1" stroke-width="1.50" stroke-linecap="round" fill="none" opacity="1.0"/>
<path d="M264.8 289.8h.01M266.8 305.6h.01" stroke="#3fa535" stroke-width="1.50" stroke-linecap="round" fill="none" opacity="1.0"/>
<path d="M293.60 367.83 L295.10 365.31 L297.80 362.17 L299.60 357.76 L298.10 353.99 L296.10 350.84 L295.10 346.44 L294.80 333.86 L294.60 314.99 L294.00 296.12 L293.60 294.55 L293.60 294.55 L293.20 296.12 L292.60 314.99 L292.40 333.86 L292.10 346.44 L291.10 350.84 L289.10 353.99 L287.60 357.76 L289.40 362.17 L292.10 365.31 L293.60 367.83Z" fill="#b3dd98" stroke="#5db54a" stroke-width="0.8" fill-opacity="1.0"/>
<path d="M292.9 305.7h.01M294.7 352.1h.01M296.0 343.5h.01M293.5 317.4h.01M295.9 351.1h.01M294.1 336.9h.01M294.4 340.1h.01M293.5 323.4h.01M293.5 325.9h.01M294.9 337.4h.01M294.2 341.5h.01M295.1 344.0h.01M292.1 350.5h.01M291.8 340.9h.01M295.5 346.5h.01M291.6 336.8h.01M291.1 359.1h.01M293.3 359.7h.01M295.6 353.3h.01M290.0 357.0h.01M292.1 354.1h.01M294.1 339.8h.01M295.1 322.0h.01M292.8 351.2h.01M292.1 338.8h.01M293.5 323.1h.01M291.5 359.6h.01M292.7 352.1h.01M295.5 335.2h.01M292.0 355.0h.01M292.3 313.0h.01M290.5 353.3h.01M293.4 336.4h.01M291.7 343.4h.01M294.8 330.9h.01M294.7 348.6h.01M293.8 349.9h.01M295.3 349.4h.01M293.8 343.9h.01M292.6 330.9h.01M294.7 356.3h.01M294.2 320.1h.01M295.4 353.5h.01M295.5 340.0h.01M292.1 332.8h.01M291.8 344.0h.01M291.9 357.5h.01M291.7 331.9h.01M293.4 350.4h.01M294.2 314.1h.01M295.6 360.6h.01M290.9 351.2h.01M295.1 322.4h.01M292.8 362.4h.01M294.6 309.1h.01M291.9 358.9h.01M292.2 355.0h.01M292.4 348.5h.01M293.0 348.0h.01M291.2 343.6h.01M291.3 351.4h.01M293.7 356.6h.01M294.5 332.1h.01M291.8 354.9h.01M295.9 341.8h.01M292.6 340.5h.01M291.3 357.8h.01M296.8 353.1h.01M294.8 350.7h.01M292.4 346.1h.01M296.0 352.6h.01M290.8 352.4h.01M292.7 303.5h.01M291.2 353.2h.01M293.3 307.7h.01M294.5 337.1h.01M294.0 334.2h.01M293.4 340.8h.01M295.5 362.3h.01M294.3 342.9h.01M291.5 342.7h.01M294.5 349.8h.01M292.5 308.8h.01M294.6 354.2h.01M293.4 313.2h.01M293.7 346.1h.01M293.8 322.7h.01M293.8 328.9h.01M292.6 316.7h.01M292.8 351.7h.01M292.7 339.3h.01M290.4 353.9h.01M294.3 348.1h.01M295.2 336.9h.01M295.4 352.3h.01M292.1 349.7h.01M294.1 334.0h.01M295.3 353.1h.01M293.8 317.7h.01M292.4 326.9h.01M294.1 343.0h.01M290.3 355.4h.01M293.9 328.7h.01M294.1 333.0h.01M291.4 360.5h.01M294.7 342.5h.01M296.3 353.2h.01M294.4 337.1h.01M291.3 348.2h.01M292.6 340.4h.01M293.6 343.8h.01M292.1 343.4h.01M294.7 353.6h.01M295.5 331.6h.01M292.1 347.9h.01M294.7 343.8h.01M294.6 351.0h.01M294.2 349.8h.01M295.8 343.7h.01M295.1 353.5h.01M292.8 343.8h.01M295.0 324.9h.01M293.4 300.4h.01M292.8 339.1h.01M295.0 348.3h.01M294.9 316.1h.01M295.9 348.2h.01M295.0 329.6h.01M292.9 324.1h.01M291.1 358.6h.01M291.9 341.4h.01M294.6 334.7h.01M293.8 352.6h.01M293.4 341.5h.01M293.7 319.2h.01M292.7 346.3h.01M294.4 348.0h.01M294.0 349.4h.01M296.4 353.9h.01M295.1 356.4h.01M294.4 355.4h.01M293.7 347.9h.01M292.5 336.4h.01M292.8 362.9h.01M292.7 335.3h.01M291.8 329.2h.01M293.2 304.5h.01M295.7 350.0h.01M292.6 345.7h.01M292.9 326.7h.01M291.9 343.2h.01M292.2 335.0h.01M294.3 352.1h.01M292.6 311.0h.01M290.8 353.2h.01M294.8 339.9h.01M293.8 319.0h.01M293.8 346.1h.01M293.0 320.6h.01M292.1 353.8h.01M292.0 344.2h.01M292.7 308.4h.01M294.2 338.0h.01M293.2 313.2h.01M293.2 308.2h.01" stroke="#3fa535" stroke-width="1.40" stroke-linecap="round" fill="none" opacity="0.85"/>
<path d="M307.30 366.88 L310.80 365.78 L313.30 364.37 L310.80 362.95 L308.60 361.22 L308.30 354.93 L307.80 340.15 L307.30 338.89 L307.30 338.89 L306.80 340.15 L306.30 354.93 L306.00 361.22 L303.80 362.95 L301.30 364.37 L303.80 365.78 L307.30 366.88Z" fill="#a9cde9" stroke="#4a8fc7" stroke-width="0.8" fill-opacity="1.0"/>
<path d="M307.6 359.8h.01M307.0 364.6h.01M308.8 349.1h.01M306.6 363.0h.01M306.7 363.2h.01M307.3 366.5h.01M307.1 362.9h.01M306.4 364.3h.01M306.0 366.3h.01M306.1 355.5h.01M305.3 365.3h.01M309.0 362.1h.01M308.6 353.8h.01M305.2 362.8h.01M306.6 354.9h.01M303.8 363.4h.01M309.1 359.7h.01M309.3 361.2h.01M306.8 367.2h.01M308.3 349.5h.01M306.7 346.0h.01M307.9 364.2h.01M309.8 362.7h.01M308.5 354.4h.01M309.1 363.5h.01M306.1 351.0h.01M305.8 363.0h.01M303.6 364.3h.01M305.7 356.8h.01M306.1 345.2h.01M306.8 362.9h.01M306.6 366.0h.01M307.9 363.0h.01M305.8 358.0h.01M305.8 361.9h.01M309.7 362.9h.01M305.6 343.5h.01M305.6 363.1h.01M308.0 366.9h.01M308.8 356.5h.01M308.7 366.1h.01M306.5 355.7h.01M308.5 362.0h.01M307.2 366.1h.01M308.8 343.3h.01M307.4 355.0h.01M305.8 359.9h.01M309.7 363.0h.01M308.2 353.0h.01M307.5 362.0h.01M306.6 352.3h.01M306.8 367.8h.01M305.6 362.4h.01M308.4 364.8h.01M303.1 364.4h.01M306.8 347.0h.01M305.6 361.7h.01M308.5 361.9h.01M304.6 364.3h.01M308.7 365.7h.01M308.3 360.4h.01M307.2 344.6h.01M308.3 362.4h.01M307.6 363.2h.01M307.2 362.7h.01M306.8 350.3h.01M306.6 367.7h.01M307.2 362.5h.01M307.4 353.4h.01M309.4 362.3h.01M309.6 362.4h.01M308.8 363.2h.01M306.2 357.4h.01M307.1 355.2h.01M308.4 360.3h.01M305.9 348.1h.01M308.9 362.7h.01M311.2 364.0h.01M309.4 365.7h.01M305.7 349.6h.01M305.7 362.0h.01M306.2 360.2h.01M309.8 365.4h.01M308.9 361.5h.01M307.2 361.6h.01M306.2 348.5h.01M309.0 360.9h.01M308.2 357.1h.01M311.3 364.9h.01M306.6 357.3h.01" stroke="#2f7fc1" stroke-width="1.40" stroke-linecap="round" fill="none" opacity="0.85"/>
<path d="M307.3 329.1h.01M307.3 333.9h.01M306.8 337.0h.01" stroke="#2f7fc1" stroke-width="1.50" stroke-linecap="round" fill="none" opacity="1.0"/>
<path d="M293.6 291.4h.01" stroke="#3fa535" stroke-width="1.50" stroke-linecap="round" fill="none" opacity="1.0"/>
<path d="M321.20 367.83 L322.70 365.31 L325.40 362.17 L327.20 357.76 L325.70 353.99 L323.70 350.84 L322.70 346.44 L322.40 333.86 L322.20 314.99 L321.60 299.27 L321.20 297.69 L321.20 297.69 L320.80 299.27 L320.20 314.99 L320.00 333.86 L319.70 346.44 L318.70 350.84 L316.70 353.99 L315.20 357.76 L317.00 362.17 L319.70 365.31 L321.20 367.83Z" fill="#b3dd98" stroke="#5db54a" stroke-width="0.8" fill-opacity="1.0"/>
<path d="M321.2 336.3h.01M320.3 336.2h.01M321.3 324.9h.01M321.7 332.9h.01M320.1 324.2h.01M321.5 324.1h.01M321.9 329.9h.01M320.6 305.2h.01M320.6 359.8h.01M321.1 327.7h.01M321.6 331.2h.01M321.0 316.0h.01M324.0 353.9h.01M322.6 356.0h.01M322.0 346.5h.01M320.8 349.1h.01M320.9 348.2h.01M322.5 334.0h.01M318.6 356.1h.01M323.8 350.4h.01M320.1 347.1h.01M321.6 316.6h.01M322.4 355.2h.01M325.2 358.1h.01M323.4 337.1h.01M319.9 325.6h.01M321.7 323.0h.01M321.2 321.1h.01M321.9 336.5h.01M319.7 341.3h.01M321.6 357.8h.01M325.1 358.6h.01M319.1 348.5h.01M321.8 357.8h.01M322.0 350.8h.01M322.7 334.2h.01M323.0 347.5h.01M318.0 354.3h.01M319.6 330.6h.01M320.9 320.6h.01M322.0 352.6h.01M322.7 342.5h.01M321.0 346.3h.01M321.0 337.1h.01M322.8 328.4h.01M322.7 350.5h.01M323.8 354.2h.01M319.1 333.3h.01M320.3 344.3h.01M320.2 339.7h.01M322.3 349.9h.01M319.3 337.6h.01M319.9 344.2h.01M321.6 354.9h.01M319.1 332.3h.01M319.4 337.9h.01M319.2 353.9h.01M321.0 346.5h.01M320.0 312.1h.01M320.5 351.7h.01M323.4 342.4h.01M322.6 315.7h.01M320.4 348.6h.01M321.8 334.6h.01M320.6 350.6h.01M319.3 331.1h.01M321.0 336.4h.01M320.3 333.3h.01M319.4 357.1h.01M319.4 348.0h.01M322.9 357.4h.01M321.4 342.9h.01M321.7 344.2h.01M321.7 305.1h.01M320.0 312.7h.01M325.0 356.1h.01M323.2 329.4h.01M323.6 348.4h.01M321.9 350.9h.01M320.5 364.8h.01M321.1 335.2h.01M322.3 341.3h.01M321.2 347.3h.01M320.8 330.6h.01M320.3 335.6h.01M322.2 338.1h.01M318.5 351.6h.01M323.9 356.2h.01M320.9 304.0h.01M323.3 360.3h.01M318.9 347.8h.01M321.0 312.9h.01M320.5 351.7h.01M325.0 356.0h.01M324.1 352.0h.01M321.9 309.1h.01M324.7 356.9h.01M320.1 335.6h.01M318.2 353.7h.01M320.1 323.8h.01M321.6 352.8h.01M320.8 358.5h.01M321.1 345.0h.01M321.9 336.9h.01M319.3 342.9h.01M320.2 357.6h.01M322.4 347.8h.01M319.8 319.7h.01M320.1 365.4h.01M321.0 338.9h.01M322.2 342.6h.01M321.6 326.5h.01M317.8 355.7h.01M322.4 323.1h.01M324.2 353.8h.01M319.7 333.4h.01M319.6 340.0h.01M320.8 314.6h.01M322.2 332.3h.01M320.2 309.2h.01M322.3 345.2h.01M320.1 327.0h.01M323.1 341.8h.01M320.3 348.9h.01M320.9 347.9h.01M321.0 351.3h.01M320.1 360.7h.01M323.6 353.6h.01M320.8 354.3h.01M319.0 336.6h.01M318.9 343.4h.01M321.6 337.2h.01M322.6 353.0h.01M320.1 334.5h.01M318.6 353.8h.01M320.9 336.8h.01M319.1 359.0h.01M320.1 351.9h.01M320.2 346.4h.01M321.5 353.3h.01M321.9 340.8h.01M321.3 313.1h.01M320.1 353.7h.01M323.0 343.1h.01M321.2 352.8h.01M322.6 353.2h.01M321.4 316.4h.01M321.5 319.5h.01M320.2 324.7h.01M324.3 360.6h.01M320.2 311.8h.01M321.2 347.7h.01M319.4 340.6h.01M322.3 349.7h.01M318.5 353.1h.01M319.6 358.4h.01M319.3 346.8h.01M322.8 330.6h.01M318.2 356.8h.01M319.5 358.4h.01M320.2 333.9h.01M320.9 351.4h.01M320.3 327.3h.01M322.7 349.1h.01M320.9 336.1h.01" stroke="#3fa535" stroke-width="1.40" stroke-linecap="round" fill="none" opacity="0.85"/>
<path d="M334.60 365.31 L338.10 364.21 L340.60 362.79 L338.10 361.38 L335.90 359.65 L335.60 353.36 L335.10 337.00 L334.60 335.75 L334.60 335.75 L334.10 337.00 L333.60 353.36 L333.30 359.65 L331.10 361.38 L328.60 362.79 L331.10 364.21 L334.60 365.31Z" fill="#a9cde9" stroke="#4a8fc7" stroke-width="0.8" fill-opacity="1.0"/>
<path d="M338.3 362.9h.01M334.2 359.2h.01M333.1 359.6h.01M335.0 362.4h.01M335.9 353.1h.01M332.7 361.4h.01M332.6 348.7h.01M335.0 355.1h.01M334.7 358.2h.01M335.1 358.7h.01M333.4 361.5h.01M334.8 356.0h.01M335.5 362.6h.01M336.5 362.9h.01M333.6 359.4h.01M336.1 364.4h.01M335.3 358.2h.01M333.8 353.1h.01M335.5 363.7h.01M332.8 356.4h.01M332.1 361.1h.01M335.8 352.6h.01M333.5 363.4h.01M335.0 348.7h.01M336.9 361.3h.01M335.1 358.3h.01M334.6 339.8h.01M334.0 349.7h.01M332.7 360.1h.01M334.3 354.0h.01M333.3 355.0h.01M337.3 362.7h.01M335.6 356.1h.01M333.8 351.0h.01M333.9 361.1h.01M336.8 362.5h.01M333.0 358.8h.01M332.9 360.9h.01M336.2 357.9h.01M333.8 358.8h.01M334.9 357.6h.01M334.6 361.1h.01M333.5 350.8h.01M335.5 363.8h.01M333.6 360.2h.01M333.4 360.6h.01M334.5 360.0h.01M334.4 359.3h.01M330.8 362.1h.01M332.9 360.3h.01M334.5 358.3h.01M334.9 362.3h.01M332.6 363.0h.01M333.9 365.8h.01M334.1 355.7h.01M332.6 360.1h.01M337.8 361.6h.01M338.1 363.0h.01M334.1 356.1h.01M334.7 359.8h.01M335.6 365.4h.01M333.6 341.5h.01M334.7 349.4h.01M334.0 360.9h.01M332.8 362.8h.01M337.2 362.0h.01M335.4 360.2h.01M335.9 352.2h.01M336.9 362.4h.01M333.6 351.9h.01M335.1 361.0h.01M336.1 360.6h.01M332.9 361.2h.01M335.5 359.7h.01M334.6 361.6h.01M336.1 363.4h.01M335.5 351.9h.01M338.6 362.6h.01M331.3 362.6h.01M333.4 363.4h.01M334.6 339.3h.01M334.7 360.3h.01M335.9 356.2h.01M332.7 360.6h.01M335.4 351.9h.01M333.0 344.1h.01M333.1 365.0h.01M333.8 364.8h.01M336.1 360.0h.01M336.7 364.4h.01" stroke="#2f7fc1" stroke-width="1.40" stroke-linecap="round" fill="none" opacity="0.85"/>
<path d="M334.6 300.2h.01M334.6 332.3h.01" stroke="#2f7fc1" stroke-width="1.50" stroke-linecap="round" fill="none" opacity="1.0"/>
<path d="M321.2 291.4h.01" stroke="#3fa535" stroke-width="1.50" stroke-linecap="round" fill="none" opacity="1.0"/>
<rect x="204.50" y="261.40" width="137.70" height="110.60" fill="none" stroke="#8c8c8c" stroke-width="1" />
<line x1="202.30" y1="371.60" x2="204.50" y2="371.60" stroke="#8c8c8c" stroke-width="0.8" />
<text x="201.70" y="374.20" font-size="7.3" fill="#333333" text-anchor="end" font-weight="normal" >0</text>
<line x1="202.30" y1="340.15" x2="204.50" y2="340.15" stroke="#8c8c8c" stroke-width="0.8" />
<text x="201.70" y="342.75" font-size="7.3" fill="#333333" text-anchor="end" font-weight="normal" >10</text>
<line x1="202.30" y1="308.70" x2="204.50" y2="308.70" stroke="#8c8c8c" stroke-width="0.8" />
<text x="201.70" y="311.30" font-size="7.3" fill="#333333" text-anchor="end" font-weight="normal" >20</text>
<line x1="202.30" y1="277.25" x2="204.50" y2="277.25" stroke="#8c8c8c" stroke-width="0.8" />
<text x="201.70" y="279.85" font-size="7.3" fill="#333333" text-anchor="end" font-weight="normal" >30</text>
<line x1="224.90" y1="372.00" x2="224.90" y2="374.00" stroke="#8c8c8c" stroke-width="0.8" />
<text x="225.90" y="384.60" font-size="10.2" fill="#231815" text-anchor="middle" font-weight="normal" >#1</text>
<line x1="252.00" y1="372.00" x2="252.00" y2="374.00" stroke="#8c8c8c" stroke-width="0.8" />
<text x="253.00" y="384.60" font-size="10.2" fill="#231815" text-anchor="middle" font-weight="normal" >#2</text>
<line x1="278.80" y1="372.00" x2="278.80" y2="374.00" stroke="#8c8c8c" stroke-width="0.8" />
<text x="279.80" y="384.60" font-size="10.2" fill="#231815" text-anchor="middle" font-weight="normal" >#3</text>
<line x1="305.60" y1="372.00" x2="305.60" y2="374.00" stroke="#8c8c8c" stroke-width="0.8" />
<text x="306.60" y="384.60" font-size="10.2" fill="#231815" text-anchor="middle" font-weight="normal" >#4</text>
<line x1="332.50" y1="372.00" x2="332.50" y2="374.00" stroke="#8c8c8c" stroke-width="0.8" />
<text x="333.50" y="384.60" font-size="10.2" fill="#231815" text-anchor="middle" font-weight="normal" >#5</text>
<rect x="230.10" y="264.30" width="16.30" height="8.20" fill="#a7d98c" stroke="#6ec158" stroke-width="0.8" />
<text x="248.30" y="271.30" font-size="7.5" fill="#231815" text-anchor="start" font-weight="normal" >DiO</text>
<rect x="267.40" y="264.30" width="16.30" height="8.20" fill="#a9cde6" stroke="#5f9fd2" stroke-width="0.8" />
<text x="285.60" y="271.30" font-size="7.5" fill="#231815" text-anchor="start" font-weight="normal" >Hoechst</text>
<text x="0" y="0" font-size="9.2" fill="#231815" text-anchor="middle" transform="translate(190.40,316.40) rotate(-90)">FL (arbitrary units)</text>
<rect x="205.00" y="437.25" width="136.70" height="62.90" fill="#eef4e9" stroke="none" stroke-width="1" />
<path d="M211.00 527.83 L212.50 525.31 L215.20 522.17 L217.00 517.76 L215.50 513.99 L213.50 510.84 L212.50 506.44 L212.20 493.86 L212.00 474.99 L211.40 462.41 L211.00 460.84 L211.00 460.84 L210.60 462.41 L210.00 474.99 L209.80 493.86 L209.50 506.44 L208.50 510.84 L206.50 513.99 L205.00 517.76 L206.80 522.17 L209.50 525.31 L211.00 527.83Z" fill="#b3dd98" stroke="#5db54a" stroke-width="0.8" fill-opacity="1.0"/>
<path d="M213.2 518.8h.01M211.7 506.7h.01M209.1 489.2h.01M210.8 505.7h.01M208.7 502.7h.01M208.5 511.1h.01M210.6 478.7h.01M209.7 507.0h.01M209.3 493.9h.01M211.1 521.8h.01M212.2 492.5h.01M214.5 518.4h.01M213.5 512.1h.01M210.8 470.1h.01M210.4 467.5h.01M213.0 494.9h.01M210.7 491.4h.01M209.8 518.8h.01M212.4 493.8h.01M211.3 511.8h.01M213.0 498.6h.01M211.9 500.8h.01M212.7 485.7h.01M208.9 511.6h.01M213.7 511.9h.01M211.3 513.7h.01M212.1 511.2h.01M209.8 511.8h.01M209.9 491.5h.01M210.1 500.7h.01M209.5 501.3h.01M213.8 511.8h.01M209.1 507.7h.01M210.3 475.2h.01M211.9 514.4h.01M209.0 514.1h.01M210.2 474.7h.01M209.8 504.3h.01M210.3 475.2h.01M208.6 505.7h.01M212.0 494.0h.01M211.8 507.1h.01M209.7 513.5h.01M211.8 469.2h.01M211.3 506.3h.01M209.6 504.0h.01M214.1 513.4h.01M209.2 513.6h.01M212.6 507.9h.01M212.6 506.9h.01M208.8 495.1h.01M212.7 506.1h.01M210.6 503.6h.01M211.0 495.4h.01M212.8 488.0h.01M210.8 483.1h.01M209.8 503.1h.01M209.0 497.4h.01M212.9 505.4h.01M210.8 494.7h.01M211.6 475.8h.01M211.7 504.6h.01M213.8 511.5h.01M212.8 491.2h.01M214.6 517.6h.01M211.0 503.2h.01M213.1 507.1h.01M210.1 501.7h.01M208.4 514.0h.01M211.8 510.3h.01M208.4 510.3h.01M213.4 508.2h.01M210.3 492.8h.01M210.8 475.8h.01M210.1 496.9h.01M209.7 519.5h.01M211.1 475.8h.01M212.9 512.6h.01M209.7 475.7h.01M210.1 511.7h.01M209.8 501.7h.01M212.5 480.8h.01M210.8 476.0h.01M210.6 516.1h.01M213.2 505.6h.01M210.2 520.5h.01M210.2 514.6h.01M210.6 486.5h.01M209.8 498.0h.01M211.5 471.2h.01M210.1 491.7h.01M211.1 515.6h.01M211.4 507.8h.01M211.8 476.3h.01M211.8 482.1h.01M210.9 501.0h.01M212.2 475.5h.01M213.8 512.3h.01M212.8 490.5h.01M212.0 498.2h.01M210.8 501.1h.01M210.1 512.4h.01M212.6 496.1h.01M210.9 501.8h.01M211.6 471.7h.01M210.4 508.8h.01M210.2 511.5h.01M208.8 500.0h.01M212.0 498.4h.01M209.3 517.0h.01M211.0 481.8h.01M212.4 511.9h.01M212.5 496.9h.01M214.2 515.2h.01M211.7 491.5h.01M209.9 487.0h.01M213.2 508.1h.01M209.1 494.2h.01M210.5 509.3h.01M212.8 491.2h.01M212.5 495.1h.01M211.4 488.1h.01M212.7 499.2h.01M209.4 505.5h.01M207.3 518.5h.01M210.0 506.6h.01M212.9 497.8h.01M207.3 518.7h.01M210.3 491.6h.01M211.0 493.7h.01M210.3 472.9h.01M214.0 517.2h.01M208.5 512.5h.01M207.6 518.1h.01M212.5 478.5h.01M208.7 502.5h.01M209.8 495.0h.01M210.6 504.2h.01M212.7 497.0h.01M210.4 484.5h.01M211.3 501.5h.01M213.3 519.7h.01M211.7 511.1h.01M212.3 486.0h.01M207.3 516.1h.01M211.2 495.4h.01M207.3 519.3h.01M212.6 501.3h.01M209.1 487.6h.01M208.1 514.9h.01M210.7 495.6h.01M211.5 497.6h.01M208.7 503.4h.01M211.8 510.8h.01M209.3 494.1h.01M209.9 512.1h.01M208.2 511.9h.01M212.2 507.9h.01M212.9 511.4h.01M212.2 500.1h.01M209.9 512.6h.01M210.4 471.1h.01M212.5 478.9h.01M212.6 506.6h.01M212.0 471.0h.01" stroke="#3fa535" stroke-width="1.40" stroke-linecap="round" fill="none" opacity="0.85"/>
<path d="M225.00 525.31 L228.50 523.74 L231.00 520.59 L229.50 517.45 L227.20 514.30 L226.20 509.59 L225.60 490.72 L225.00 489.14 L225.00 489.14 L224.40 490.72 L223.80 509.59 L222.80 514.30 L220.50 517.45 L219.00 520.59 L221.50 523.74 L225.00 525.31Z" fill="#a9cde9" stroke="#4a8fc7" stroke-width="0.8" fill-opacity="1.0"/>
<path d="M223.6 524.2h.01M224.6 506.8h.01M225.3 510.5h.01M223.3 510.7h.01M220.2 520.7h.01M225.2 513.8h.01M220.4 519.9h.01M226.3 510.2h.01M225.7 514.7h.01M224.8 522.7h.01M230.0 520.5h.01M224.9 517.0h.01M228.9 518.9h.01M222.2 520.2h.01M222.4 516.2h.01M224.7 504.5h.01M225.1 512.9h.01M226.3 518.0h.01M221.4 521.0h.01M225.8 509.9h.01M223.1 519.2h.01M226.8 514.4h.01M226.2 505.7h.01M226.1 508.7h.01M223.2 499.5h.01M223.2 509.5h.01M222.7 515.3h.01M224.8 500.4h.01M221.5 517.4h.01M223.6 513.0h.01M221.1 518.9h.01M227.6 515.6h.01M224.8 515.7h.01M222.6 520.3h.01M223.3 524.0h.01M223.1 518.9h.01M221.1 520.8h.01M227.1 516.9h.01M226.7 502.7h.01M226.5 515.1h.01M221.7 517.6h.01M226.1 520.3h.01M226.4 498.6h.01M224.1 518.4h.01M227.8 520.6h.01M220.5 521.3h.01M225.1 510.3h.01M227.2 519.0h.01M224.6 516.0h.01M223.4 510.1h.01M228.5 517.2h.01M227.9 519.5h.01M224.1 511.1h.01M227.2 521.0h.01M222.1 518.7h.01M225.9 517.7h.01M225.8 503.2h.01M225.4 498.0h.01M224.4 519.2h.01M226.3 511.3h.01M224.6 512.6h.01M223.3 511.4h.01M222.8 516.3h.01M223.0 515.8h.01M227.2 522.2h.01M221.2 521.6h.01M228.4 522.8h.01M225.7 518.6h.01M221.1 519.1h.01M229.0 519.1h.01M229.4 519.2h.01M223.9 509.1h.01M225.2 501.6h.01M222.7 518.7h.01M221.3 520.6h.01M220.9 521.0h.01M227.1 515.7h.01M223.1 523.1h.01M223.0 516.8h.01M223.7 511.7h.01M222.8 520.7h.01M229.1 519.3h.01M223.3 515.9h.01M221.8 520.7h.01M221.1 518.8h.01M226.3 516.2h.01M221.8 522.1h.01M228.1 519.8h.01M226.8 495.6h.01M223.3 517.6h.01" stroke="#2f7fc1" stroke-width="1.40" stroke-linecap="round" fill="none" opacity="0.85"/>
<path d="M226.0 479.7h.01M224.5 492.3h.01" stroke="#2f7fc1" stroke-width="1.50" stroke-linecap="round" fill="none" opacity="1.0"/>
<path d="" stroke="#3fa535" stroke-width="1.50" stroke-linecap="round" fill="none" opacity="1.0"/>
<path d="M238.40 527.83 L239.90 525.31 L242.60 522.17 L244.40 517.76 L242.90 513.99 L240.90 510.84 L239.90 506.44 L239.60 493.86 L239.40 474.99 L238.80 462.41 L238.40 460.84 L238.40 460.84 L238.00 462.41 L237.40 474.99 L237.20 493.86 L236.90 506.44 L235.90 510.84 L233.90 513.99 L232.40 517.76 L234.20 522.17 L236.90 525.31 L238.40 527.83Z" fill="#b3dd98" stroke="#5db54a" stroke-width="0.8" fill-opacity="1.0"/>
<path d="M239.5 485.4h.01M238.1 505.3h.01M238.5 463.9h.01M239.3 482.9h.01M235.3 516.1h.01M238.5 513.8h.01M236.2 502.4h.01M237.2 487.1h.01M235.6 520.0h.01M235.8 517.4h.01M240.3 498.5h.01M236.0 505.1h.01M238.3 500.8h.01M236.6 494.1h.01M236.4 491.5h.01M240.1 488.2h.01M238.4 516.0h.01M239.8 484.4h.01M239.4 516.0h.01M239.0 518.0h.01M240.6 517.0h.01M236.2 495.6h.01M237.9 466.2h.01M239.7 515.0h.01M241.0 510.0h.01M236.8 508.0h.01M237.9 501.1h.01M239.2 497.7h.01M238.7 493.3h.01M239.3 485.0h.01M235.7 511.7h.01M237.1 505.1h.01M239.2 496.3h.01M239.5 498.4h.01M239.1 498.7h.01M239.7 495.8h.01M239.6 485.8h.01M236.1 500.7h.01M236.8 518.0h.01M235.7 512.8h.01M236.7 498.4h.01M239.5 503.0h.01M237.7 511.6h.01M241.2 520.0h.01M236.2 499.3h.01M238.2 493.1h.01M242.3 518.0h.01M237.7 505.2h.01M239.3 503.8h.01M239.8 486.1h.01M239.5 481.8h.01M237.4 510.3h.01M238.2 481.6h.01M239.8 506.0h.01M238.6 510.8h.01M237.9 512.5h.01M240.2 489.8h.01M237.4 491.6h.01M239.3 500.2h.01M237.7 499.4h.01M239.0 503.3h.01M239.5 495.9h.01M240.4 507.9h.01M240.9 517.2h.01M238.4 484.3h.01M238.8 503.0h.01M239.3 500.5h.01M239.9 511.3h.01M240.8 510.8h.01M236.3 496.4h.01M236.8 480.4h.01M240.4 493.4h.01M239.1 505.6h.01M237.9 526.6h.01M237.4 508.3h.01M237.0 487.4h.01M237.3 510.8h.01M236.6 507.8h.01M239.3 485.6h.01M236.7 503.2h.01M238.2 509.6h.01M237.6 468.4h.01M237.8 511.2h.01M237.0 511.7h.01M238.6 502.6h.01M237.2 523.2h.01M237.0 505.8h.01M237.3 516.0h.01M241.9 516.5h.01M240.9 509.0h.01M236.3 512.0h.01M239.5 501.3h.01M236.1 508.5h.01M237.9 472.9h.01M240.1 512.3h.01M239.5 504.6h.01M239.7 513.5h.01M238.3 519.7h.01M238.1 500.3h.01M236.5 491.5h.01M238.8 471.7h.01M239.0 498.2h.01M237.7 511.2h.01M237.0 488.6h.01M237.4 492.2h.01M240.0 509.3h.01M236.3 506.8h.01M238.8 499.0h.01M239.7 504.2h.01M239.4 485.7h.01M237.8 496.7h.01M239.6 512.8h.01M237.2 494.3h.01M236.7 515.1h.01M239.1 506.8h.01M235.7 521.1h.01M238.4 488.3h.01M239.3 501.1h.01M237.5 526.0h.01M236.2 503.9h.01M239.0 468.3h.01M239.7 497.1h.01M240.3 490.7h.01M237.2 477.4h.01M240.0 500.5h.01M238.7 492.0h.01M238.7 511.5h.01M237.2 485.6h.01M237.4 514.6h.01M237.7 471.1h.01M236.1 504.6h.01M239.6 512.0h.01M236.6 497.1h.01M236.4 506.0h.01M239.8 504.1h.01M239.9 500.5h.01M236.5 501.0h.01M238.0 515.4h.01M237.1 483.4h.01M237.7 500.9h.01M238.2 483.4h.01M237.4 496.1h.01M237.7 500.0h.01M238.3 480.1h.01M239.4 501.6h.01M237.2 490.1h.01M236.8 502.3h.01M238.3 487.3h.01M237.5 498.3h.01M236.8 512.4h.01M237.3 478.1h.01M239.7 488.6h.01M239.4 481.2h.01M236.5 505.6h.01M239.1 503.8h.01M238.1 499.5h.01M237.3 474.3h.01M236.3 507.1h.01M242.0 515.2h.01M236.9 484.2h.01M238.5 504.4h.01M239.6 511.5h.01M239.8 510.8h.01M239.4 505.5h.01M236.5 498.9h.01" stroke="#3fa535" stroke-width="1.40" stroke-linecap="round" fill="none" opacity="0.85"/>
<path d="M252.50 525.94 L256.00 524.37 L258.50 521.22 L257.00 518.08 L254.70 514.93 L253.70 510.21 L253.10 509.59 L252.50 508.01 L252.50 508.01 L251.90 509.59 L251.30 510.21 L250.30 514.93 L248.00 518.08 L246.50 521.22 L249.00 524.37 L252.50 525.94Z" fill="#a9cde9" stroke="#4a8fc7" stroke-width="0.8" fill-opacity="1.0"/>
<path d="M252.3 517.5h.01M256.2 518.3h.01M254.8 518.2h.01M255.1 518.0h.01M256.7 521.3h.01M255.6 519.3h.01M253.9 518.9h.01M249.8 516.9h.01M254.1 523.7h.01M252.5 517.8h.01M249.1 518.6h.01M249.1 520.2h.01M255.8 518.2h.01M248.2 522.3h.01M251.3 515.4h.01M255.4 520.1h.01M254.4 514.4h.01M250.8 517.1h.01M255.5 517.0h.01M252.9 513.9h.01M252.3 511.7h.01M252.4 519.5h.01M252.2 517.5h.01M253.1 520.1h.01M250.2 524.3h.01M255.1 518.5h.01M251.6 519.8h.01M251.7 516.9h.01M249.3 521.2h.01M250.2 518.1h.01M253.4 521.4h.01M256.7 521.2h.01M249.6 519.6h.01M254.4 523.1h.01M254.0 514.5h.01M253.0 522.0h.01M255.9 522.1h.01M255.0 524.2h.01M253.9 520.8h.01M255.2 520.5h.01M252.3 513.4h.01M251.0 514.0h.01M252.1 516.8h.01M252.3 515.2h.01M250.5 518.2h.01M251.3 525.0h.01M251.8 519.5h.01M256.3 518.7h.01M255.7 517.2h.01M250.1 517.8h.01M255.9 521.4h.01M250.7 519.6h.01M251.9 517.2h.01M255.6 518.7h.01M253.6 516.9h.01M254.9 517.0h.01M249.7 517.6h.01M252.3 519.8h.01M250.2 518.9h.01M254.5 519.0h.01M248.4 519.4h.01M251.9 520.0h.01M253.3 512.7h.01M253.8 519.4h.01M252.8 515.3h.01M254.5 512.5h.01M250.0 518.3h.01M253.0 521.5h.01M249.4 520.7h.01M250.3 520.9h.01M253.7 522.4h.01M253.1 523.5h.01M251.9 523.2h.01M249.5 517.8h.01M252.4 516.2h.01M252.8 516.3h.01M253.1 513.2h.01M253.6 520.0h.01M250.7 518.8h.01M253.2 518.8h.01M254.0 521.9h.01M251.2 524.2h.01M255.4 522.5h.01M249.8 518.1h.01M256.9 519.8h.01M254.4 515.2h.01M254.5 527.4h.01M248.3 519.3h.01M251.9 516.9h.01M249.1 518.9h.01" stroke="#2f7fc1" stroke-width="1.40" stroke-linecap="round" fill="none" opacity="0.85"/>
<path d="M253.5 468.7h.01M251.5 475.0h.01M252.5 481.3h.01M252.0 487.6h.01M252.5 503.3h.01" stroke="#2f7fc1" stroke-width="1.50" stroke-linecap="round" fill="none" opacity="1.0"/>
<path d="M238.4 448.3h.01" stroke="#3fa535" stroke-width="1.50" stroke-linecap="round" fill="none" opacity="1.0"/>
<path d="M265.80 527.83 L267.30 525.31 L270.00 522.17 L271.80 517.76 L270.30 513.99 L268.30 510.84 L267.30 506.44 L267.00 493.86 L266.80 474.99 L266.20 462.41 L265.80 460.84 L265.80 460.84 L265.40 462.41 L264.80 474.99 L264.60 493.86 L264.30 506.44 L263.30 510.84 L261.30 513.99 L259.80 517.76 L261.60 522.17 L264.30 525.31 L265.80 527.83Z" fill="#b3dd98" stroke="#5db54a" stroke-width="0.8" fill-opacity="1.0"/>
<path d="M267.8 495.8h.01M265.4 489.9h.01M265.3 517.0h.01M264.8 473.9h.01M267.7 506.6h.01M265.4 497.6h.01M267.4 494.6h.01M267.3 497.7h.01M264.6 514.2h.01M266.3 517.4h.01M266.2 510.7h.01M264.3 496.4h.01M265.6 501.0h.01M264.4 514.8h.01M268.2 519.1h.01M265.1 486.6h.01M263.9 511.4h.01M267.3 483.8h.01M266.9 472.6h.01M267.5 505.0h.01M264.1 510.1h.01M264.5 509.4h.01M264.0 493.6h.01M265.2 479.6h.01M267.5 495.9h.01M266.8 487.5h.01M265.0 500.9h.01M268.7 518.4h.01M267.2 482.2h.01M263.0 513.3h.01M263.6 506.6h.01M267.6 488.7h.01M267.0 500.6h.01M267.4 482.7h.01M264.3 504.9h.01M267.5 510.7h.01M267.1 495.4h.01M265.9 505.3h.01M266.5 482.6h.01M263.6 502.5h.01M265.1 474.4h.01M266.2 508.9h.01M267.6 506.9h.01M264.3 496.9h.01M264.2 505.9h.01M267.0 508.3h.01M264.8 511.1h.01M266.9 481.6h.01M268.2 514.9h.01M264.5 503.3h.01M265.2 520.6h.01M263.7 506.8h.01M264.5 483.7h.01M264.6 503.1h.01M266.4 481.9h.01M263.5 500.9h.01M267.1 510.3h.01M264.3 495.6h.01M268.0 514.3h.01M266.2 502.7h.01M268.3 512.7h.01M268.9 513.3h.01M267.3 498.8h.01M266.5 508.6h.01M267.4 497.0h.01M265.7 468.4h.01M264.8 517.7h.01M265.8 471.5h.01M267.3 499.3h.01M265.1 497.1h.01M266.0 505.3h.01M265.3 518.8h.01M262.7 513.1h.01M266.9 513.7h.01M263.2 515.7h.01M267.3 522.3h.01M264.2 486.2h.01M266.7 481.3h.01M263.7 494.2h.01M263.1 520.5h.01M263.1 515.9h.01M266.6 487.1h.01M265.8 488.9h.01M263.7 520.7h.01M266.9 487.2h.01M263.6 514.5h.01M265.2 485.6h.01M266.2 475.3h.01M265.1 512.4h.01M266.2 494.2h.01M266.5 505.9h.01M268.3 514.1h.01M264.1 502.7h.01M265.5 497.4h.01M265.5 500.3h.01M267.2 480.9h.01M265.3 487.8h.01M262.6 512.8h.01M264.2 507.3h.01M264.3 493.0h.01M267.3 488.4h.01M267.6 508.9h.01M267.2 495.0h.01M265.2 481.8h.01M265.4 474.6h.01M265.2 476.4h.01M267.3 503.0h.01M265.4 492.9h.01M267.8 495.9h.01M264.0 496.4h.01M265.4 510.0h.01M267.2 503.9h.01M265.9 480.1h.01M265.3 510.2h.01M262.4 514.3h.01M265.9 493.4h.01M266.6 495.0h.01M265.6 486.4h.01M265.3 489.4h.01M265.8 515.9h.01M268.2 508.8h.01M264.3 487.7h.01M268.1 501.0h.01M264.1 510.6h.01M267.6 486.9h.01M264.6 516.8h.01M265.4 512.6h.01M268.7 513.0h.01M266.6 513.5h.01M264.3 487.0h.01M267.2 506.4h.01M264.2 502.2h.01M263.2 511.1h.01M265.3 472.9h.01M264.7 500.9h.01M268.3 520.6h.01M266.9 509.2h.01M268.3 508.2h.01M265.5 521.7h.01M267.8 499.6h.01M266.3 510.4h.01M263.4 509.8h.01M263.4 512.2h.01M267.4 500.3h.01M268.9 519.1h.01M262.0 515.9h.01M263.8 507.0h.01M267.1 497.1h.01M265.7 508.1h.01M264.2 521.5h.01M263.4 510.0h.01M266.5 517.3h.01M265.8 488.2h.01M266.5 519.7h.01M265.1 471.7h.01M267.6 483.5h.01M267.2 512.6h.01M263.1 511.5h.01M264.7 498.0h.01M264.5 500.5h.01M263.5 523.5h.01M266.0 489.8h.01M267.8 518.7h.01M265.5 479.0h.01M265.3 502.1h.01" stroke="#3fa535" stroke-width="1.40" stroke-linecap="round" fill="none" opacity="0.85"/>
<path d="M279.80 525.62 L283.30 524.05 L285.80 520.91 L284.30 517.76 L282.00 514.62 L281.00 509.90 L280.40 509.59 L279.80 508.01 L279.80 508.01 L279.20 509.59 L278.60 509.90 L277.60 514.62 L275.30 517.76 L273.80 520.91 L276.30 524.05 L279.80 525.62Z" fill="#a9cde9" stroke="#4a8fc7" stroke-width="0.8" fill-opacity="1.0"/>
<path d="M277.9 515.4h.01M279.5 517.5h.01M279.4 515.1h.01M276.2 518.4h.01M276.2 518.5h.01M278.0 522.0h.01M278.4 512.0h.01M278.0 519.7h.01M277.3 517.2h.01M278.9 523.8h.01M281.6 522.8h.01M282.0 521.8h.01M280.6 521.2h.01M279.9 513.8h.01M277.2 520.4h.01M283.5 522.7h.01M279.2 525.3h.01M280.4 516.9h.01M282.3 517.9h.01M281.2 516.8h.01M277.8 516.8h.01M278.4 516.0h.01M281.0 518.9h.01M281.0 517.0h.01M274.9 520.8h.01M282.3 520.8h.01M278.5 519.7h.01M276.5 517.7h.01M275.7 518.8h.01M278.4 516.6h.01M277.7 516.1h.01M277.0 521.8h.01M283.9 519.1h.01M277.0 516.3h.01M281.0 518.2h.01M280.1 512.1h.01M282.3 516.8h.01M281.1 515.0h.01M279.7 521.4h.01M282.0 515.9h.01M277.9 517.9h.01M279.3 517.4h.01M284.1 521.4h.01M280.0 525.6h.01M277.7 518.3h.01M278.7 520.6h.01M280.5 517.0h.01M282.7 517.5h.01M276.3 520.6h.01M281.3 526.4h.01M280.5 523.0h.01M277.0 516.3h.01M278.2 515.2h.01M279.7 524.4h.01M278.9 519.2h.01M280.9 522.1h.01M281.5 513.7h.01M280.8 519.4h.01M282.2 516.5h.01M282.4 521.9h.01M280.6 523.8h.01M283.8 520.8h.01M281.2 513.9h.01M279.0 515.1h.01M281.0 515.1h.01M281.0 526.7h.01M278.3 516.2h.01M280.1 517.4h.01M281.6 521.6h.01M284.0 519.4h.01M280.1 518.5h.01M277.2 518.3h.01M282.5 523.0h.01M281.8 512.7h.01M280.6 521.5h.01M283.5 517.7h.01M280.4 521.2h.01M282.1 516.1h.01M275.0 520.7h.01M281.1 514.9h.01M278.9 517.4h.01M275.1 520.4h.01M281.8 524.3h.01M279.8 515.1h.01M278.4 520.9h.01M282.1 517.6h.01M278.2 517.5h.01M282.2 521.8h.01M280.3 513.8h.01M278.8 518.4h.01" stroke="#2f7fc1" stroke-width="1.40" stroke-linecap="round" fill="none" opacity="0.85"/>
<path d="M279.8 470.3h.01M279.3 484.4h.01M280.3 489.1h.01M279.8 503.3h.01" stroke="#2f7fc1" stroke-width="1.50" stroke-linecap="round" fill="none" opacity="1.0"/>
<path d="" stroke="#3fa535" stroke-width="1.50" stroke-linecap="round" fill="none" opacity="1.0"/>
<path d="M293.60 527.83 L295.10 525.31 L297.80 522.17 L299.60 517.76 L298.10 513.99 L296.10 510.84 L295.10 506.44 L294.80 493.86 L294.60 474.99 L294.00 465.56 L293.60 463.98 L293.60 463.98 L293.20 465.56 L292.60 474.99 L292.40 493.86 L292.10 506.44 L291.10 510.84 L289.10 513.99 L287.60 517.76 L289.40 522.17 L292.10 525.31 L293.60 527.83Z" fill="#b3dd98" stroke="#5db54a" stroke-width="0.8" fill-opacity="1.0"/>
<path d="M292.9 489.8h.01M293.3 520.2h.01M293.5 515.6h.01M292.2 512.9h.01M291.9 508.7h.01M292.2 490.3h.01M292.2 519.6h.01M291.2 509.5h.01M294.3 511.2h.01M295.1 499.8h.01M294.7 479.1h.01M293.2 511.7h.01M293.9 495.9h.01M291.1 511.3h.01M294.0 484.7h.01M294.5 517.8h.01M293.7 510.4h.01M293.2 517.8h.01M295.8 497.2h.01M294.3 494.9h.01M294.0 487.3h.01M295.3 513.2h.01M295.5 509.6h.01M292.3 497.8h.01M295.9 513.1h.01M293.2 506.9h.01M294.2 499.7h.01M291.3 518.0h.01M293.9 506.8h.01M293.5 513.9h.01M289.7 518.5h.01M292.1 498.9h.01M295.3 493.9h.01M294.0 484.5h.01M295.6 508.4h.01M292.6 506.4h.01M292.0 521.5h.01M293.5 496.9h.01M294.2 496.5h.01M291.3 510.1h.01M295.0 490.9h.01M292.6 480.0h.01M293.0 476.3h.01M294.0 480.3h.01M293.3 506.9h.01M293.0 495.4h.01M291.9 498.2h.01M293.9 521.1h.01M292.6 481.8h.01M294.9 510.9h.01M294.2 509.7h.01M293.0 485.8h.01M295.4 507.6h.01M292.1 518.6h.01M292.5 482.2h.01M292.9 504.2h.01M294.3 477.5h.01M295.1 479.2h.01M294.5 482.2h.01M295.6 507.1h.01M293.3 500.8h.01M295.4 506.8h.01M293.2 472.6h.01M295.0 505.8h.01M291.7 490.4h.01M293.4 498.8h.01M292.1 504.3h.01M295.5 504.8h.01M292.9 473.6h.01M293.5 483.7h.01M292.9 508.1h.01M295.8 500.8h.01M293.7 501.8h.01M294.4 474.0h.01M292.8 514.2h.01M293.4 487.3h.01M294.5 485.1h.01M295.5 494.1h.01M291.9 492.5h.01M294.4 489.2h.01M292.8 482.2h.01M293.3 495.3h.01M293.3 504.4h.01M294.4 497.5h.01M295.6 503.6h.01M295.3 508.6h.01M293.4 491.5h.01M294.9 500.0h.01M295.5 487.9h.01M295.9 505.8h.01M289.9 516.4h.01M293.1 487.9h.01M292.8 499.7h.01M294.8 481.3h.01M295.8 503.7h.01M294.8 509.6h.01M293.0 483.2h.01M295.8 506.4h.01M292.6 474.5h.01M293.3 498.1h.01M293.7 470.5h.01M293.4 468.6h.01M293.3 505.7h.01M295.0 510.8h.01M292.6 503.1h.01M293.2 469.3h.01M292.6 513.6h.01M293.6 494.9h.01M294.0 509.3h.01M292.9 516.3h.01M297.3 518.4h.01M293.5 479.7h.01M293.9 521.5h.01M292.6 473.9h.01M294.4 499.8h.01M292.4 501.3h.01M292.8 504.9h.01M296.6 517.3h.01M292.3 495.4h.01M292.8 511.1h.01M292.7 504.6h.01M291.6 491.7h.01M295.1 507.2h.01M292.0 507.1h.01M293.1 492.1h.01M294.9 513.6h.01M292.7 490.5h.01M294.4 501.2h.01M295.5 502.8h.01M291.6 504.0h.01M295.4 524.1h.01M291.8 504.5h.01M291.2 511.0h.01M294.3 496.0h.01M293.9 467.9h.01M292.0 516.9h.01M293.6 498.0h.01M294.6 506.9h.01M295.7 494.9h.01M290.5 514.0h.01M293.7 516.3h.01M294.7 492.6h.01M292.9 495.9h.01M295.5 506.0h.01M291.6 493.0h.01M292.2 510.4h.01M294.5 503.5h.01M294.6 513.0h.01M295.0 496.0h.01M291.6 516.4h.01M293.5 489.0h.01M295.2 520.5h.01M291.4 507.4h.01M292.8 511.1h.01M294.9 497.0h.01M294.8 504.9h.01M294.6 477.2h.01M295.6 510.2h.01M294.3 490.4h.01M293.1 512.1h.01M293.9 499.9h.01M293.7 506.5h.01M293.1 495.4h.01M291.0 517.8h.01M292.1 491.5h.01" stroke="#3fa535" stroke-width="1.40" stroke-linecap="round" fill="none" opacity="0.85"/>
<path d="M307.30 525.94 L310.80 524.37 L313.30 521.22 L311.80 518.08 L309.50 514.93 L308.50 510.21 L307.90 500.15 L307.30 498.58 L307.30 498.58 L306.70 500.15 L306.10 510.21 L305.10 514.93 L302.80 518.08 L301.30 521.22 L303.80 524.37 L307.30 525.94Z" fill="#a9cde9" stroke="#4a8fc7" stroke-width="0.8" fill-opacity="1.0"/>
<path d="M304.4 517.4h.01M308.5 514.0h.01M307.7 524.2h.01M310.6 518.2h.01M310.8 518.4h.01M306.9 522.0h.01M307.3 510.3h.01M305.8 520.3h.01M308.1 518.8h.01M304.0 523.4h.01M311.1 519.6h.01M306.2 524.9h.01M307.0 509.2h.01M309.4 519.3h.01M303.3 520.0h.01M302.8 519.9h.01M308.8 508.9h.01M306.8 519.5h.01M302.7 521.7h.01M303.9 522.3h.01M307.5 511.3h.01M306.5 521.1h.01M311.7 520.4h.01M308.4 505.7h.01M309.3 519.0h.01M306.4 518.8h.01M309.0 524.7h.01M309.5 518.2h.01M304.9 519.6h.01M308.4 507.7h.01M306.8 508.2h.01M305.3 519.2h.01M309.8 522.4h.01M306.2 511.9h.01M307.6 516.4h.01M310.7 518.9h.01M306.9 524.2h.01M310.9 520.4h.01M308.6 516.9h.01M309.3 515.9h.01M307.7 515.5h.01M309.3 520.0h.01M310.7 518.7h.01M308.4 513.7h.01M307.6 521.9h.01M308.6 513.1h.01M308.3 511.4h.01M305.8 513.2h.01M308.4 507.9h.01M304.7 516.3h.01M308.9 515.5h.01M308.2 517.1h.01M306.1 516.9h.01M306.0 510.5h.01M306.8 521.5h.01M307.5 509.7h.01M305.9 520.5h.01M306.6 513.6h.01M306.9 505.5h.01M306.9 516.0h.01M308.3 522.1h.01M304.7 519.3h.01M310.9 523.1h.01M306.6 512.9h.01M310.2 522.7h.01M307.3 509.0h.01M304.4 518.7h.01M308.7 509.4h.01M307.3 516.1h.01M306.7 510.8h.01M309.6 516.7h.01M305.6 515.0h.01M305.8 510.9h.01M310.3 517.1h.01M309.3 515.3h.01M305.8 512.1h.01M310.9 521.6h.01M309.0 504.5h.01M309.1 521.1h.01M310.4 520.0h.01M309.5 519.0h.01M307.4 525.4h.01M307.9 508.9h.01M305.6 511.8h.01M310.6 521.3h.01M307.1 513.8h.01M307.5 515.0h.01M309.1 504.2h.01M307.6 502.4h.01M303.6 522.1h.01" stroke="#2f7fc1" stroke-width="1.40" stroke-linecap="round" fill="none" opacity="0.85"/>
<path d="M307.3 470.9h.01M306.3 484.4h.01M307.8 490.7h.01" stroke="#2f7fc1" stroke-width="1.50" stroke-linecap="round" fill="none" opacity="1.0"/>
<path d="M293.6 459.3h.01" stroke="#3fa535" stroke-width="1.50" stroke-linecap="round" fill="none" opacity="1.0"/>
<path d="M321.20 527.83 L322.70 525.31 L325.40 522.17 L327.20 517.76 L325.70 513.99 L323.70 510.84 L322.70 506.44 L322.40 493.86 L322.20 474.99 L321.60 468.70 L321.20 467.13 L321.20 467.13 L320.80 468.70 L320.20 474.99 L320.00 493.86 L319.70 506.44 L318.70 510.84 L316.70 513.99 L315.20 517.76 L317.00 522.17 L319.70 525.31 L321.20 527.83Z" fill="#b3dd98" stroke="#5db54a" stroke-width="0.8" fill-opacity="1.0"/>
<path d="M321.3 506.1h.01M321.1 504.5h.01M323.1 503.2h.01M319.9 520.3h.01M324.1 520.5h.01M321.4 511.1h.01M320.9 518.8h.01M322.9 487.2h.01M323.1 499.3h.01M321.3 508.9h.01M319.4 493.1h.01M319.7 494.9h.01M323.7 512.5h.01M322.3 513.9h.01M318.5 522.6h.01M319.5 495.3h.01M318.3 513.3h.01M323.2 499.0h.01M320.4 507.7h.01M322.3 495.7h.01M319.6 493.8h.01M322.5 511.6h.01M321.9 490.6h.01M321.4 515.0h.01M319.7 485.7h.01M322.7 480.5h.01M322.6 493.5h.01M321.0 482.2h.01M319.5 494.6h.01M321.8 503.5h.01M322.8 496.1h.01M320.9 494.8h.01M319.7 515.2h.01M321.0 514.9h.01M322.3 482.3h.01M320.2 512.4h.01M323.4 508.9h.01M317.3 517.9h.01M321.2 507.8h.01M320.3 494.3h.01M320.6 487.2h.01M321.8 485.6h.01M321.9 483.4h.01M322.0 495.7h.01M319.8 505.5h.01M322.5 508.1h.01M320.4 476.6h.01M318.5 514.5h.01M319.1 509.4h.01M321.7 511.6h.01M320.0 497.3h.01M321.4 477.3h.01M321.9 486.2h.01M321.5 480.2h.01M321.1 513.9h.01M321.5 516.1h.01M320.6 487.4h.01M322.4 489.7h.01M319.5 502.2h.01M320.1 509.1h.01M321.3 504.7h.01M322.0 501.1h.01M319.9 494.3h.01M320.3 499.8h.01M320.0 508.2h.01M319.6 482.1h.01M322.3 496.8h.01M323.6 513.0h.01M323.0 513.7h.01M320.8 482.4h.01M322.7 513.5h.01M322.8 514.2h.01M322.1 517.3h.01M319.1 500.9h.01M322.0 496.4h.01M323.6 508.3h.01M322.4 520.8h.01M318.9 504.0h.01M319.4 504.3h.01M319.7 515.2h.01M320.8 496.5h.01M320.7 494.6h.01M323.2 491.3h.01M320.9 512.3h.01M320.1 487.8h.01M319.0 505.1h.01M319.3 496.5h.01M321.6 513.5h.01M318.3 512.5h.01M322.6 498.6h.01M322.4 491.9h.01M323.0 485.6h.01M320.7 493.2h.01M319.4 500.3h.01M321.5 512.8h.01M320.0 512.9h.01M321.3 510.0h.01M323.0 514.3h.01M322.6 515.6h.01M321.8 499.5h.01M322.7 520.2h.01M323.2 509.2h.01M319.8 510.0h.01M324.1 513.1h.01M322.2 495.8h.01M318.5 518.9h.01M319.8 509.7h.01M320.7 506.9h.01M320.7 510.3h.01M319.7 487.8h.01M319.5 493.4h.01M323.2 506.2h.01M320.3 505.0h.01M319.6 502.8h.01M321.7 515.9h.01M319.5 487.6h.01M323.0 507.7h.01M322.4 491.7h.01M322.6 500.3h.01M321.1 493.3h.01M321.2 527.2h.01M321.8 509.7h.01M322.4 513.6h.01M320.4 514.7h.01M322.3 502.5h.01M324.1 519.2h.01M319.0 503.4h.01M318.4 522.5h.01M322.6 514.9h.01M321.1 516.8h.01M319.7 509.5h.01M322.1 487.6h.01M320.9 509.2h.01M318.7 508.7h.01M320.9 475.6h.01M319.1 516.9h.01M321.7 511.9h.01M322.1 503.8h.01M318.2 513.8h.01M320.6 507.0h.01M322.0 496.7h.01M321.5 504.8h.01M323.9 512.5h.01M320.9 483.8h.01M324.3 514.3h.01M323.0 511.5h.01M319.9 507.8h.01M319.9 506.6h.01M317.8 516.4h.01M319.8 511.2h.01M323.5 511.1h.01M322.5 477.1h.01M318.6 512.4h.01M319.9 513.8h.01M321.9 514.1h.01M319.5 496.1h.01M323.3 503.5h.01M319.1 513.1h.01M322.3 510.5h.01M322.5 490.6h.01M319.7 509.6h.01M323.6 509.5h.01M321.9 496.0h.01M319.8 490.7h.01M319.9 496.4h.01" stroke="#3fa535" stroke-width="1.40" stroke-linecap="round" fill="none" opacity="0.85"/>
<path d="M334.60 524.68 L338.10 523.11 L340.60 519.96 L339.10 516.82 L336.80 513.67 L335.80 508.96 L335.20 512.73 L334.60 511.16 L334.60 511.16 L334.00 512.73 L333.40 508.96 L332.40 513.67 L330.10 516.82 L328.60 519.96 L331.10 523.11 L334.60 524.68Z" fill="#a9cde9" stroke="#4a8fc7" stroke-width="0.8" fill-opacity="1.0"/>
<path d="M331.7 519.8h.01M335.0 514.1h.01M333.4 514.8h.01M336.0 521.7h.01M332.6 518.1h.01M330.7 517.5h.01M338.4 516.8h.01M334.8 518.2h.01M336.8 520.6h.01M334.8 516.8h.01M332.6 514.3h.01M333.7 516.3h.01M332.6 522.8h.01M335.3 517.5h.01M337.9 520.2h.01M332.1 516.3h.01M331.2 519.0h.01M337.2 517.4h.01M331.1 516.4h.01M336.6 512.3h.01M335.2 522.1h.01M332.7 516.4h.01M331.5 517.4h.01M336.6 517.7h.01M335.2 517.4h.01M334.8 516.6h.01M331.9 516.0h.01M336.7 517.2h.01M333.8 514.0h.01M338.4 517.5h.01M338.1 521.6h.01M335.6 516.5h.01M337.7 516.6h.01M334.8 523.8h.01M337.2 521.3h.01M335.2 515.9h.01M333.1 514.8h.01M335.8 521.1h.01M330.9 520.7h.01M339.3 519.1h.01M333.5 516.8h.01M335.2 521.4h.01M333.8 522.4h.01M337.9 518.5h.01M331.3 517.1h.01M332.0 516.5h.01M330.9 517.5h.01M335.8 523.6h.01M333.5 515.3h.01M336.1 515.1h.01M332.1 517.8h.01M335.5 514.6h.01M333.6 513.5h.01M336.6 519.4h.01M333.2 517.7h.01M336.2 514.6h.01M335.8 513.6h.01M334.3 516.5h.01M330.7 518.1h.01M334.6 517.3h.01M331.8 520.3h.01M337.2 517.1h.01M338.2 518.7h.01M337.3 517.9h.01M332.9 518.6h.01M331.9 516.0h.01M330.7 518.4h.01M338.1 516.5h.01M331.8 516.9h.01M331.0 516.8h.01M333.2 519.0h.01M336.6 515.9h.01M335.9 518.2h.01M335.2 523.7h.01M332.0 515.1h.01M335.3 515.7h.01M333.0 517.2h.01M338.0 517.3h.01M335.2 514.2h.01M338.6 517.5h.01M333.8 516.8h.01M338.3 518.3h.01M337.4 515.1h.01M333.5 517.7h.01M333.2 517.0h.01M334.6 516.9h.01M335.3 517.1h.01M334.7 522.0h.01M333.8 521.4h.01M334.8 518.3h.01" stroke="#2f7fc1" stroke-width="1.40" stroke-linecap="round" fill="none" opacity="0.85"/>
<path d="M334.6 466.8h.01M334.6 476.6h.01M334.1 481.3h.01M335.1 490.7h.01M334.6 500.2h.01" stroke="#2f7fc1" stroke-width="1.50" stroke-linecap="round" fill="none" opacity="1.0"/>
<path d="" stroke="#3fa535" stroke-width="1.50" stroke-linecap="round" fill="none" opacity="1.0"/>
<rect x="204.50" y="421.40" width="137.70" height="110.60" fill="none" stroke="#8c8c8c" stroke-width="1" />
<line x1="202.30" y1="531.60" x2="204.50" y2="531.60" stroke="#8c8c8c" stroke-width="0.8" />
<text x="201.70" y="534.20" font-size="7.3" fill="#333333" text-anchor="end" font-weight="normal" >0</text>
<line x1="202.30" y1="500.15" x2="204.50" y2="500.15" stroke="#8c8c8c" stroke-width="0.8" />
<text x="201.70" y="502.75" font-size="7.3" fill="#333333" text-anchor="end" font-weight="normal" >10</text>
<line x1="202.30" y1="468.70" x2="204.50" y2="468.70" stroke="#8c8c8c" stroke-width="0.8" />
<text x="201.70" y="471.30" font-size="7.3" fill="#333333" text-anchor="end" font-weight="normal" >20</text>
<line x1="202.30" y1="437.25" x2="204.50" y2="437.25" stroke="#8c8c8c" stroke-width="0.8" />
<text x="201.70" y="439.85" font-size="7.3" fill="#333333" text-anchor="end" font-weight="normal" >30</text>
<line x1="224.90" y1="532.00" x2="224.90" y2="534.00" stroke="#8c8c8c" stroke-width="0.8" />
<text x="225.90" y="544.60" font-size="10.2" fill="#231815" text-anchor="middle" font-weight="normal" >#1</text>
<line x1="252.00" y1="532.00" x2="252.00" y2="534.00" stroke="#8c8c8c" stroke-width="0.8" />
<text x="253.00" y="544.60" font-size="10.2" fill="#231815" text-anchor="middle" font-weight="normal" >#2</text>
<line x1="278.80" y1="532.00" x2="278.80" y2="534.00" stroke="#8c8c8c" stroke-width="0.8" />
<text x="279.80" y="544.60" font-size="10.2" fill="#231815" text-anchor="middle" font-weight="normal" >#3</text>
<line x1="305.60" y1="532.00" x2="305.60" y2="534.00" stroke="#8c8c8c" stroke-width="0.8" />
<text x="306.60" y="544.60" font-size="10.2" fill="#231815" text-anchor="middle" font-weight="normal" >#4</text>
<line x1="332.50" y1="532.00" x2="332.50" y2="534.00" stroke="#8c8c8c" stroke-width="0.8" />
<text x="333.50" y="544.60" font-size="10.2" fill="#231815" text-anchor="middle" font-weight="normal" >#5</text>
<rect x="230.10" y="424.30" width="16.30" height="8.20" fill="#a7d98c" stroke="#6ec158" stroke-width="0.8" />
<text x="248.30" y="431.30" font-size="7.5" fill="#231815" text-anchor="start" font-weight="normal" >DiO</text>
<rect x="267.40" y="424.30" width="16.30" height="8.20" fill="#a9cde6" stroke="#5f9fd2" stroke-width="0.8" />
<text x="285.60" y="431.30" font-size="7.5" fill="#231815" text-anchor="start" font-weight="normal" >Hoechst</text>
<text x="0" y="0" font-size="9.2" fill="#231815" text-anchor="middle" transform="translate(190.40,476.40) rotate(-90)">FL (arbitrary units)</text>
<line x1="551.40" y1="261.30" x2="551.40" y2="372.00" stroke="#222" stroke-width="0.9" stroke-dasharray="1.3 1.6"/>
<line x1="540.20" y1="362.60" x2="677.80" y2="362.60" stroke="#222" stroke-width="0.9" stroke-dasharray="1.3 1.6"/>
<line x1="540.20" y1="372.00" x2="677.80" y2="261.90" stroke="#222" stroke-width="0.9" stroke-dasharray="1.3 1.6"/>
<path d="M551.40 362.60 L553.14 344.20 L557.18 319.36 L560.31 299.12 L563.43 285.32 L567.48 281.64 L586.11 276.30 L604.27 271.52 L667.10 270.60" fill="none" stroke="#c8c8e4" stroke-width="0.95" stroke-linejoin="round"/>
<path d="M551.40 362.60 L552.21 358.00 L555.22 339.60 L559.27 311.08 L563.43 298.75 L567.48 282.56 L571.53 280.72 L580.32 278.88 L596.06 276.30 L637.02 272.44 L667.10 270.60" fill="none" stroke="#f7c696" stroke-width="0.95" stroke-linejoin="round"/>
<path d="M551.40 362.60 L551.98 330.40 L552.56 307.40 L553.14 294.52 L555.22 281.64 L561.35 278.33 L586.11 276.30 L626.61 273.36 L667.10 270.60" fill="none" stroke="#f2a6cb" stroke-width="0.95" stroke-linejoin="round"/>
<path d="M551.40 362.60 L551.86 335.00 L552.33 305.56 L553.14 292.68 L554.87 288.08 L557.18 285.50 L562.97 284.12 L571.53 282.47 L586.11 279.80 L596.06 277.32 L609.25 275.66 L626.61 273.36 L667.10 270.60" fill="none" stroke="#58a9cb" stroke-width="0.95" stroke-linejoin="round"/>
<path d="M551.40 362.60 L551.75 325.80 L552.21 302.80 L553.60 289.00 L556.26 279.80 L559.50 277.50 L565.28 276.40 L594.21 273.91 L637.02 271.24 L667.10 270.60" fill="none" stroke="#4db48f" stroke-width="0.95" stroke-linejoin="round"/>
<rect x="540.20" y="261.30" width="137.60" height="110.70" fill="none" stroke="#8c8c8c" stroke-width="1" />
<line x1="538.00" y1="362.60" x2="540.20" y2="362.60" stroke="#8c8c8c" stroke-width="0.8" />
<text x="537.20" y="365.20" font-size="7.3" fill="#333333" text-anchor="end" font-weight="normal" >0.0</text>
<line x1="551.40" y1="372.00" x2="551.40" y2="374.20" stroke="#8c8c8c" stroke-width="0.8" />
<text x="551.40" y="381.60" font-size="7.3" fill="#333333" text-anchor="middle" font-weight="normal" >0.0</text>
<line x1="538.00" y1="316.60" x2="540.20" y2="316.60" stroke="#8c8c8c" stroke-width="0.8" />
<text x="537.20" y="319.20" font-size="7.3" fill="#333333" text-anchor="end" font-weight="normal" >0.5</text>
<line x1="609.25" y1="372.00" x2="609.25" y2="374.20" stroke="#8c8c8c" stroke-width="0.8" />
<text x="609.25" y="381.60" font-size="7.3" fill="#333333" text-anchor="middle" font-weight="normal" >0.5</text>
<line x1="538.00" y1="270.60" x2="540.20" y2="270.60" stroke="#8c8c8c" stroke-width="0.8" />
<text x="537.20" y="273.20" font-size="7.3" fill="#333333" text-anchor="end" font-weight="normal" >1.0</text>
<line x1="667.10" y1="372.00" x2="667.10" y2="374.20" stroke="#8c8c8c" stroke-width="0.8" />
<text x="667.10" y="381.60" font-size="7.3" fill="#333333" text-anchor="middle" font-weight="normal" >1.0</text>
<text x="670.40" y="323.40" font-size="7.4" fill="#231815" text-anchor="end" font-weight="normal" >AUC</text>
<line x1="609.30" y1="330.00" x2="625.60" y2="330.00" stroke="#9ccbe0" stroke-width="1.9" />
<text x="628.10" y="332.60" font-size="7.4" fill="#231815" text-anchor="start" font-weight="normal" >Test #1 0.930</text>
<line x1="609.30" y1="338.90" x2="625.60" y2="338.90" stroke="#96d0b6" stroke-width="1.9" />
<text x="628.10" y="341.50" font-size="7.4" fill="#231815" text-anchor="start" font-weight="normal" >Test #2 0.948</text>
<line x1="609.30" y1="347.80" x2="625.60" y2="347.80" stroke="#fbd8b6" stroke-width="1.9" />
<text x="628.10" y="350.40" font-size="7.4" fill="#231815" text-anchor="start" font-weight="normal" >Test #3 0.897</text>
<line x1="609.30" y1="356.70" x2="625.60" y2="356.70" stroke="#f8c4dc" stroke-width="1.9" />
<text x="628.10" y="359.30" font-size="7.4" fill="#231815" text-anchor="start" font-weight="normal" >Test #4 0.936</text>
<line x1="609.30" y1="365.60" x2="625.60" y2="365.60" stroke="#dadaee" stroke-width="1.9" />
<text x="628.10" y="368.20" font-size="7.4" fill="#231815" text-anchor="start" font-weight="normal" >Test #5 0.908</text>
<text x="0" y="0" font-size="9.3" fill="#231815" text-anchor="middle" transform="translate(523.00,316.30) rotate(-90)">Sensitivity</text>
<text x="609.30" y="395.30" font-size="9.3" fill="#231815" text-anchor="middle" font-weight="normal" >1 - Specificity</text>
<line x1="551.40" y1="421.30" x2="551.40" y2="532.00" stroke="#222" stroke-width="0.9" stroke-dasharray="1.3 1.6"/>
<line x1="540.20" y1="522.60" x2="677.80" y2="522.60" stroke="#222" stroke-width="0.9" stroke-dasharray="1.3 1.6"/>
<line x1="540.20" y1="532.00" x2="677.80" y2="421.90" stroke="#222" stroke-width="0.9" stroke-dasharray="1.3 1.6"/>
<path d="M551.40 522.60 L555.22 494.08 L561.35 467.40 L567.60 449.00 L575.70 441.64 L591.89 435.66 L616.89 431.52 L667.10 430.60" fill="none" stroke="#c8c8e4" stroke-width="0.95" stroke-linejoin="round"/>
<path d="M551.40 522.60 L553.25 500.52 L559.38 469.42 L563.43 457.28 L567.60 442.56 L573.73 436.67 L586.11 431.52 L667.10 430.60" fill="none" stroke="#f7c696" stroke-width="0.95" stroke-linejoin="round"/>
<path d="M551.40 522.60 L553.25 512.48 L557.18 500.15 L565.52 483.78 L569.91 472.00 L573.73 463.26 L578.82 451.02 L586.11 442.84 L592.13 438.88 L606.59 432.44 L667.10 430.60" fill="none" stroke="#f2a6cb" stroke-width="0.95" stroke-linejoin="round"/>
<path d="M551.40 522.60 L553.25 504.20 L556.03 485.80 L559.38 473.47 L562.97 461.88 L565.52 455.07 L571.65 446.88 L576.85 444.40 L581.94 442.74 L592.13 438.70 L604.51 435.66 L624.99 432.62 L667.10 430.60" fill="none" stroke="#58a9cb" stroke-width="0.95" stroke-linejoin="round"/>
<path d="M551.40 522.60 L553.25 504.20 L557.18 483.96 L560.42 461.24 L562.39 450.84 L564.47 444.86 L569.56 437.68 L575.70 435.66 L588.08 431.52 L667.10 430.60" fill="none" stroke="#4db48f" stroke-width="0.95" stroke-linejoin="round"/>
<rect x="540.20" y="421.30" width="137.60" height="110.70" fill="none" stroke="#8c8c8c" stroke-width="1" />
<line x1="538.00" y1="522.60" x2="540.20" y2="522.60" stroke="#8c8c8c" stroke-width="0.8" />
<text x="537.20" y="525.20" font-size="7.3" fill="#333333" text-anchor="end" font-weight="normal" >0.0</text>
<line x1="551.40" y1="532.00" x2="551.40" y2="534.20" stroke="#8c8c8c" stroke-width="0.8" />
<text x="551.40" y="541.60" font-size="7.3" fill="#333333" text-anchor="middle" font-weight="normal" >0.0</text>
<line x1="538.00" y1="476.60" x2="540.20" y2="476.60" stroke="#8c8c8c" stroke-width="0.8" />
<text x="537.20" y="479.20" font-size="7.3" fill="#333333" text-anchor="end" font-weight="normal" >0.5</text>
<line x1="609.25" y1="532.00" x2="609.25" y2="534.20" stroke="#8c8c8c" stroke-width="0.8" />
<text x="609.25" y="541.60" font-size="7.3" fill="#333333" text-anchor="middle" font-weight="normal" >0.5</text>
<line x1="538.00" y1="430.60" x2="540.20" y2="430.60" stroke="#8c8c8c" stroke-width="0.8" />
<text x="537.20" y="433.20" font-size="7.3" fill="#333333" text-anchor="end" font-weight="normal" >1.0</text>
<line x1="667.10" y1="532.00" x2="667.10" y2="534.20" stroke="#8c8c8c" stroke-width="0.8" />
<text x="667.10" y="541.60" font-size="7.3" fill="#333333" text-anchor="middle" font-weight="normal" >1.0</text>
<text x="670.40" y="483.40" font-size="7.4" fill="#231815" text-anchor="end" font-weight="normal" >AUC</text>
<line x1="609.30" y1="490.00" x2="625.60" y2="490.00" stroke="#9ccbe0" stroke-width="1.9" />
<text x="628.10" y="492.60" font-size="7.4" fill="#231815" text-anchor="start" font-weight="normal" >Test #1 0.884</text>
<line x1="609.30" y1="498.90" x2="625.60" y2="498.90" stroke="#96d0b6" stroke-width="1.9" />
<text x="628.10" y="501.50" font-size="7.4" fill="#231815" text-anchor="start" font-weight="normal" >Test #2 0.926</text>
<line x1="609.30" y1="507.80" x2="625.60" y2="507.80" stroke="#fbd8b6" stroke-width="1.9" />
<text x="628.10" y="510.40" font-size="7.4" fill="#231815" text-anchor="start" font-weight="normal" >Test #3 0.927</text>
<line x1="609.30" y1="516.70" x2="625.60" y2="516.70" stroke="#f8c4dc" stroke-width="1.9" />
<text x="628.10" y="519.30" font-size="7.4" fill="#231815" text-anchor="start" font-weight="normal" >Test #4 0.833</text>
<line x1="609.30" y1="525.60" x2="625.60" y2="525.60" stroke="#dadaee" stroke-width="1.9" />
<text x="628.10" y="528.20" font-size="7.4" fill="#231815" text-anchor="start" font-weight="normal" >Test #5 0.886</text>
<text x="0" y="0" font-size="9.3" fill="#231815" text-anchor="middle" transform="translate(523.00,476.30) rotate(-90)">Sensitivity</text>
<text x="609.30" y="555.30" font-size="9.3" fill="#231815" text-anchor="middle" font-weight="normal" >1 - Specificity</text>
<rect x="372.90" y="312.49" width="47.90" height="32.34" fill="#e9f0e2" stroke="none" stroke-width="1" />
<rect x="458.20" y="263.98" width="47.60" height="80.85" fill="#dde9f1" stroke="none" stroke-width="1" />
<path d="M483.70 266.90 C484.70 266.98 486.37 267.05 487.70 267.40 C489.03 267.75 490.45 268.23 491.70 269.00 C492.95 269.77 494.20 270.83 495.20 272.00 C496.20 273.17 496.95 274.50 497.70 276.00 C498.45 277.50 498.90 277.07 499.70 281.00 C500.50 284.93 501.73 291.57 502.50 299.60 C503.27 307.63 503.88 321.63 504.30 329.20 C504.72 336.77 504.80 340.20 505.00 345.00 C505.20 349.80 506.55 354.83 505.50 358.00 C504.45 361.17 501.67 362.53 498.70 364.00 C495.73 365.47 490.20 366.27 487.70 366.80 C485.20 367.33 484.70 367.13 483.70 367.20 C482.70 367.27 482.70 367.27 481.70 367.20 C480.70 367.13 480.20 367.33 477.70 366.80 C475.20 366.27 469.67 365.47 466.70 364.00 C463.73 362.53 460.95 361.17 459.90 358.00 C458.85 354.83 460.20 349.80 460.40 345.00 C460.60 340.20 460.68 336.77 461.10 329.20 C461.52 321.63 462.13 307.63 462.90 299.60 C463.67 291.57 464.90 284.93 465.70 281.00 C466.50 277.07 466.95 277.50 467.70 276.00 C468.45 274.50 469.20 273.17 470.20 272.00 C471.20 270.83 472.45 269.77 473.70 269.00 C474.95 268.23 476.37 267.75 477.70 267.40 C479.03 267.05 480.70 266.98 481.70 266.90 C482.70 266.82 482.70 266.82 483.70 266.90Z" fill="#6a9fe0" fill-opacity="0.13" stroke="#5278ae" stroke-width="0.7"/>
<path d="M484.20 273.80 C485.28 274.03 486.97 274.33 487.70 275.20 C488.43 276.07 488.45 277.62 488.60 279.00 C488.75 280.38 488.17 282.25 488.60 283.50 C489.03 284.75 490.37 285.47 491.20 286.50 C492.03 287.53 492.73 285.87 493.60 289.70 C494.47 293.53 496.15 301.92 496.40 309.50 C496.65 317.08 496.38 330.35 495.10 335.20 C493.82 340.05 490.60 337.95 488.70 338.60 C486.80 339.25 484.87 339.02 483.70 339.10 C482.53 339.18 482.87 339.18 481.70 339.10 C480.53 339.02 478.60 339.25 476.70 338.60 C474.80 337.95 471.58 340.05 470.30 335.20 C469.02 330.35 468.75 317.08 469.00 309.50 C469.25 301.92 470.93 293.53 471.80 289.70 C472.67 285.87 473.37 287.53 474.20 286.50 C475.03 285.47 476.37 284.75 476.80 283.50 C477.23 282.25 476.65 280.38 476.80 279.00 C476.95 277.62 476.97 276.07 477.70 275.20 C478.43 274.33 480.12 274.03 481.20 273.80 C482.28 273.57 483.12 273.57 484.20 273.80Z" fill="#6a9fe0" fill-opacity="0.13" stroke="#5278ae" stroke-width="0.7"/>
<path d="M484.20 295.60 C485.37 295.87 487.13 296.22 488.20 297.20 C489.27 298.18 489.87 297.82 490.60 301.50 C491.33 305.18 492.50 314.38 492.60 319.30 C492.70 324.22 492.18 328.42 491.20 331.00 C490.22 333.58 487.95 334.10 486.70 334.80 C485.45 335.50 484.53 335.13 483.70 335.20 C482.87 335.27 482.53 335.27 481.70 335.20 C480.87 335.13 479.95 335.50 478.70 334.80 C477.45 334.10 475.18 333.58 474.20 331.00 C473.22 328.42 472.70 324.22 472.80 319.30 C472.90 314.38 474.07 305.18 474.80 301.50 C475.53 297.82 476.13 298.18 477.20 297.20 C478.27 296.22 480.03 295.87 481.20 295.60 C482.37 295.33 483.03 295.33 484.20 295.60Z" fill="#6a9fe0" fill-opacity="0.18" stroke="#5278ae" stroke-width="0.7"/>
<path d="M483.50 311.80 C484.03 312.00 484.80 312.30 485.10 313.00 C485.40 313.70 485.40 315.10 485.30 316.00 C485.20 316.90 484.30 317.57 484.50 318.40 C484.70 319.23 486.07 319.90 486.50 321.00 C486.93 322.10 487.20 323.58 487.10 325.00 C487.00 326.42 486.50 328.47 485.90 329.50 C485.30 330.53 484.17 330.92 483.50 331.20 C482.83 331.48 482.57 331.48 481.90 331.20 C481.23 330.92 480.10 330.53 479.50 329.50 C478.90 328.47 478.40 326.42 478.30 325.00 C478.20 323.58 478.47 322.10 478.90 321.00 C479.33 319.90 480.70 319.23 480.90 318.40 C481.10 317.57 480.20 316.90 480.10 316.00 C480.00 315.10 480.00 313.70 480.30 313.00 C480.60 312.30 481.37 312.00 481.90 311.80 C482.43 311.60 482.97 311.60 483.50 311.80Z" fill="#6a9fe0" fill-opacity="0.2" stroke="#5278ae" stroke-width="0.7"/>
<path d="M486.87 337.20 C489.69 337.33 493.36 337.68 495.04 338.00 C496.71 338.32 496.03 338.60 496.91 339.10 C497.79 339.60 499.13 340.35 500.32 341.00 C501.51 341.65 503.01 342.32 504.04 343.00 C505.06 343.68 506.26 343.93 506.49 345.10 C506.73 346.27 505.61 348.35 505.44 350.00 C505.27 351.65 507.14 353.83 505.45 355.00 C503.77 356.17 498.58 356.58 495.32 357.00 C492.06 357.42 488.61 357.42 485.91 357.50 C483.21 357.58 481.58 357.58 479.14 357.50 C476.69 357.42 474.44 357.42 471.24 357.00 C468.04 356.58 461.87 356.17 459.94 355.00 C458.01 353.83 459.74 351.65 459.65 350.00 C459.57 348.35 459.12 346.27 459.44 345.10 C459.76 343.93 460.44 343.68 461.60 343.00 C462.75 342.32 465.10 341.65 466.38 341.00 C467.66 340.35 468.53 339.60 469.30 339.10 C470.07 338.60 469.54 338.32 471.01 338.00 C472.48 337.68 475.47 337.33 478.12 337.20 C480.76 337.07 484.05 337.07 486.87 337.20Z" fill="#7cc35a" fill-opacity="0.32" stroke="#3fa535" stroke-width="0.7"/>
<path d="M486.97 341.00 C489.64 341.13 492.19 341.13 494.36 341.80 C496.53 342.47 498.75 343.63 500.00 345.00 C501.24 346.37 502.04 348.50 501.84 350.00 C501.64 351.50 501.40 353.17 498.82 354.00 C496.23 354.83 489.60 354.83 486.33 355.00 C483.06 355.17 482.53 355.17 479.20 355.00 C475.87 354.83 468.95 354.83 466.33 354.00 C463.71 353.17 463.55 351.50 463.49 350.00 C463.43 348.50 464.86 346.37 465.98 345.00 C467.11 343.63 468.16 342.47 470.22 341.80 C472.27 341.13 475.54 341.13 478.33 341.00 C481.12 340.87 484.29 340.87 486.97 341.00Z" fill="#7cc35a" fill-opacity="0.25" stroke="#3fa535" stroke-width="0.7"/>
<path d="M459.50 358.70a23.20 8.60 0 1 0 46.40 0a23.20 8.60 0 1 0 -46.40 0Z" fill="#8fb8ea" fill-opacity="0.22" stroke="#4f80c4" stroke-width="0.55"/>
<path d="M462.90 358.40a19.80 7.50 0 1 0 39.60 0a19.80 7.50 0 1 0 -39.60 0Z" fill="#8fb8ea" fill-opacity="0.22" stroke="#4f80c4" stroke-width="0.55"/>
<path d="M466.30 358.10a16.40 6.40 0 1 0 32.80 0a16.40 6.40 0 1 0 -32.80 0Z" fill="#8fb8ea" fill-opacity="0.22" stroke="#4f80c4" stroke-width="0.55"/>
<path d="M469.70 357.80a13.00 5.30 0 1 0 26.00 0a13.00 5.30 0 1 0 -26.00 0Z" fill="#8fb8ea" fill-opacity="0.22" stroke="#4f80c4" stroke-width="0.55"/>
<path d="M473.10 357.50a9.60 4.20 0 1 0 19.20 0a9.60 4.20 0 1 0 -19.20 0Z" fill="#8fb8ea" fill-opacity="0.22" stroke="#4f80c4" stroke-width="0.55"/>
<path d="M476.50 357.20a6.20 3.10 0 1 0 12.40 0a6.20 3.10 0 1 0 -12.40 0Z" fill="#8fb8ea" fill-opacity="0.22" stroke="#4f80c4" stroke-width="0.55"/>
<path d="M460.10 354.70a22.60 6.80 0 1 0 45.20 0a22.60 6.80 0 1 0 -45.20 0Z" fill="#6db58a" fill-opacity="0.2" stroke="#3a9456" stroke-width="0.55"/>
<path d="M463.18 354.80a19.52 5.92 0 1 0 39.03 0a19.52 5.92 0 1 0 -39.03 0Z" fill="#6db58a" fill-opacity="0.2" stroke="#2c7a66" stroke-width="0.55"/>
<path d="M466.27 354.90a16.43 5.03 0 1 0 32.87 0a16.43 5.03 0 1 0 -32.87 0Z" fill="#2f8c74" fill-opacity="0.2" stroke="#3a9456" stroke-width="0.55"/>
<path d="M469.35 355.00a13.35 4.15 0 1 0 26.70 0a13.35 4.15 0 1 0 -26.70 0Z" fill="#2f8c74" fill-opacity="0.2" stroke="#2c7a66" stroke-width="0.55"/>
<path d="M472.43 355.10a10.27 3.27 0 1 0 20.53 0a10.27 3.27 0 1 0 -20.53 0Z" fill="#2f8c74" fill-opacity="0.2" stroke="#3a9456" stroke-width="0.55"/>
<path d="M475.52 355.20a7.18 2.38 0 1 0 14.37 0a7.18 2.38 0 1 0 -14.37 0Z" fill="#2f8c74" fill-opacity="0.2" stroke="#2c7a66" stroke-width="0.55"/>
<path d="M478.60 355.30a4.10 1.50 0 1 0 8.20 0a4.10 1.50 0 1 0 -8.20 0Z" fill="#2f8c74" fill-opacity="0.2" stroke="#3a9456" stroke-width="0.55"/>
<path d="M476.70 355.50a6.00 2.00 0 1 0 12.00 0a6.00 2.00 0 1 0 -12.00 0Z" fill="#1d6f6a" fill-opacity="0.55" stroke="#1d6f6a" stroke-width="0.4"/>
<path d="M384.00 319.30a12.30 1.50 0 1 0 24.60 0a12.30 1.50 0 1 0 -24.60 0Z" fill="#7cc35a" fill-opacity="0.3" stroke="#3fa535" stroke-width="0.8"/>
<path d="M400.34 324.90 C403.49 325.00 410.11 324.65 412.12 325.50 C414.12 326.35 411.86 328.55 412.39 330.00 C412.92 331.45 414.70 332.53 415.29 334.20 C415.89 335.87 415.29 338.20 415.95 340.00 C416.61 341.80 418.64 343.43 419.27 345.00 C419.90 346.57 419.49 347.90 419.72 349.40 C419.95 350.90 421.97 352.65 420.63 354.00 C419.28 355.35 415.04 356.83 411.67 357.50 C408.29 358.17 403.45 357.92 400.36 358.00 C397.26 358.08 395.91 358.08 393.11 358.00 C390.30 357.92 386.59 358.17 383.53 357.50 C380.48 356.83 376.16 355.35 374.78 354.00 C373.40 352.65 375.10 350.90 375.26 349.40 C375.42 347.90 375.48 346.57 375.74 345.00 C375.99 343.43 376.10 341.80 376.77 340.00 C377.45 338.20 379.10 335.87 379.79 334.20 C380.48 332.53 380.40 331.45 380.91 330.00 C381.42 328.55 380.81 326.35 382.86 325.50 C384.91 324.65 390.30 325.00 393.22 324.90 C396.13 324.80 397.19 324.80 400.34 324.90Z" fill="#7cc35a" fill-opacity="0.35" stroke="#3fa535" stroke-width="0.7"/>
<path d="M399.80 323.70 C401.80 323.83 404.38 323.95 405.80 324.50 C407.22 325.05 407.88 325.92 408.30 327.00 C408.72 328.08 409.05 329.83 408.30 331.00 C407.55 332.17 403.97 333.17 403.80 334.00 C403.63 334.83 406.10 335.00 407.30 336.00 C408.50 337.00 410.32 338.55 411.00 340.00 C411.68 341.45 412.10 343.37 411.40 344.70 C410.70 346.03 408.90 347.35 406.80 348.00 C404.70 348.65 400.80 348.50 398.80 348.60 C396.80 348.70 396.80 348.70 394.80 348.60 C392.80 348.50 388.90 348.65 386.80 348.00 C384.70 347.35 382.90 346.03 382.20 344.70 C381.50 343.37 381.92 341.45 382.60 340.00 C383.28 338.55 385.10 337.00 386.30 336.00 C387.50 335.00 389.97 334.83 389.80 334.00 C389.63 333.17 386.05 332.17 385.30 331.00 C384.55 329.83 384.88 328.08 385.30 327.00 C385.72 325.92 386.38 325.05 387.80 324.50 C389.22 323.95 391.80 323.83 393.80 323.70 C395.80 323.57 397.80 323.57 399.80 323.70Z" fill="#a9c8d0" fill-opacity="0.5" stroke="#6a9cc0" stroke-width="0.7"/>
<path d="M389.80 329.00a7.00 1.80 0 1 0 14.00 0a7.00 1.80 0 1 0 -14.00 0Z" fill="#c2d8d0" fill-opacity="0.5" stroke="#7fb09a" stroke-width="0.5"/>
<path d="M387.80 341.50a9.00 2.50 0 1 0 18.00 0a9.00 2.50 0 1 0 -18.00 0Z" fill="#c2d8d0" fill-opacity="0.4" stroke="#7fb09a" stroke-width="0.5"/>
<path d="M373.60 359.20a23.20 8.60 0 1 0 46.40 0a23.20 8.60 0 1 0 -46.40 0Z" fill="#8fb8ea" fill-opacity="0.22" stroke="#4f80c4" stroke-width="0.55"/>
<path d="M377.00 358.90a19.80 7.50 0 1 0 39.60 0a19.80 7.50 0 1 0 -39.60 0Z" fill="#8fb8ea" fill-opacity="0.22" stroke="#4f80c4" stroke-width="0.55"/>
<path d="M380.40 358.60a16.40 6.40 0 1 0 32.80 0a16.40 6.40 0 1 0 -32.80 0Z" fill="#8fb8ea" fill-opacity="0.22" stroke="#4f80c4" stroke-width="0.55"/>
<path d="M383.80 358.30a13.00 5.30 0 1 0 26.00 0a13.00 5.30 0 1 0 -26.00 0Z" fill="#8fb8ea" fill-opacity="0.22" stroke="#4f80c4" stroke-width="0.55"/>
<path d="M387.20 358.00a9.60 4.20 0 1 0 19.20 0a9.60 4.20 0 1 0 -19.20 0Z" fill="#8fb8ea" fill-opacity="0.22" stroke="#4f80c4" stroke-width="0.55"/>
<path d="M390.60 357.70a6.20 3.10 0 1 0 12.40 0a6.20 3.10 0 1 0 -12.40 0Z" fill="#8fb8ea" fill-opacity="0.22" stroke="#4f80c4" stroke-width="0.55"/>
<path d="M374.20 355.20a22.60 6.80 0 1 0 45.20 0a22.60 6.80 0 1 0 -45.20 0Z" fill="#6db58a" fill-opacity="0.2" stroke="#3a9456" stroke-width="0.55"/>
<path d="M377.28 355.30a19.52 5.92 0 1 0 39.03 0a19.52 5.92 0 1 0 -39.03 0Z" fill="#6db58a" fill-opacity="0.2" stroke="#2c7a66" stroke-width="0.55"/>
<path d="M380.37 355.40a16.43 5.03 0 1 0 32.87 0a16.43 5.03 0 1 0 -32.87 0Z" fill="#2f8c74" fill-opacity="0.2" stroke="#3a9456" stroke-width="0.55"/>
<path d="M383.45 355.50a13.35 4.15 0 1 0 26.70 0a13.35 4.15 0 1 0 -26.70 0Z" fill="#2f8c74" fill-opacity="0.2" stroke="#2c7a66" stroke-width="0.55"/>
<path d="M386.53 355.60a10.27 3.27 0 1 0 20.53 0a10.27 3.27 0 1 0 -20.53 0Z" fill="#2f8c74" fill-opacity="0.2" stroke="#3a9456" stroke-width="0.55"/>
<path d="M389.62 355.70a7.18 2.38 0 1 0 14.37 0a7.18 2.38 0 1 0 -14.37 0Z" fill="#2f8c74" fill-opacity="0.2" stroke="#2c7a66" stroke-width="0.55"/>
<path d="M392.70 355.80a4.10 1.50 0 1 0 8.20 0a4.10 1.50 0 1 0 -8.20 0Z" fill="#2f8c74" fill-opacity="0.2" stroke="#3a9456" stroke-width="0.55"/>
<path d="M390.80 356.00a6.00 2.00 0 1 0 12.00 0a6.00 2.00 0 1 0 -12.00 0Z" fill="#1d6f6a" fill-opacity="0.55" stroke="#1d6f6a" stroke-width="0.4"/>
<line x1="370.10" y1="263.60" x2="508.40" y2="263.60" stroke="#9a9a9a" stroke-width="1" />
<line x1="508.40" y1="263.60" x2="508.40" y2="369.80" stroke="#9a9a9a" stroke-width="1" />
<line x1="370.10" y1="263.60" x2="370.10" y2="369.80" stroke="#555" stroke-width="0.9" />
<line x1="370.10" y1="369.80" x2="508.40" y2="369.80" stroke="#555" stroke-width="0.9" />
<line x1="368.10" y1="361.00" x2="370.10" y2="361.00" stroke="#555" stroke-width="0.8" />
<text x="367.10" y="363.30" font-size="6.6" fill="#333333" text-anchor="end" font-weight="normal" >0</text>
<line x1="368.10" y1="312.49" x2="370.10" y2="312.49" stroke="#555" stroke-width="0.8" />
<text x="367.10" y="314.79" font-size="6.6" fill="#333333" text-anchor="end" font-weight="normal" >30</text>
<line x1="368.10" y1="263.98" x2="370.10" y2="263.98" stroke="#555" stroke-width="0.8" />
<text x="367.10" y="266.28" font-size="6.6" fill="#333333" text-anchor="end" font-weight="normal" >60</text>
<line x1="396.50" y1="369.80" x2="396.50" y2="371.80" stroke="#555" stroke-width="0.8" />
<text x="396.50" y="377.30" font-size="5.5" fill="#333333" text-anchor="middle" font-weight="normal" >0</text>
<line x1="482.00" y1="369.80" x2="482.00" y2="371.80" stroke="#555" stroke-width="0.8" />
<text x="482.00" y="377.30" font-size="5.5" fill="#333333" text-anchor="middle" font-weight="normal" >1</text>
<text x="377.70" y="382.50" font-size="9.8" fill="#231815" text-anchor="start" font-weight="normal" >Squeezed</text>
<text x="377.70" y="393.80" font-size="9.8" fill="#231815" text-anchor="start" font-weight="normal" >-cell ROI</text>
<text x="458.50" y="382.50" font-size="9.8" fill="#231815" text-anchor="start" font-weight="normal" >Blocked-</text>
<text x="458.50" y="393.80" font-size="9.8" fill="#231815" text-anchor="start" font-weight="normal" >cell ROI</text>
<text x="0" y="0" font-size="8.6" fill="#231815" text-anchor="middle" transform="translate(354.90,316.50) rotate(-90)">FL (arbitrary units)</text>
<rect x="372.90" y="472.49" width="47.90" height="32.34" fill="#e9f0e2" stroke="none" stroke-width="1" />
<rect x="458.20" y="423.98" width="47.60" height="80.85" fill="#dde9f1" stroke="none" stroke-width="1" />
<path d="M483.70 427.90 C484.53 427.98 485.53 428.05 486.70 428.40 C487.87 428.75 489.45 429.23 490.70 430.00 C491.95 430.77 492.95 431.37 494.20 433.00 C495.45 434.63 497.12 436.97 498.20 439.80 C499.28 442.63 499.90 444.97 500.70 450.00 C501.50 455.03 502.70 463.50 503.00 470.00 C503.30 476.50 502.30 483.17 502.50 489.00 C502.70 494.83 503.67 500.50 504.20 505.00 C504.73 509.50 506.28 513.17 505.70 516.00 C505.12 518.83 503.20 520.37 500.70 522.00 C498.20 523.63 493.37 525.10 490.70 525.80 C488.03 526.50 486.37 526.13 484.70 526.20 C483.03 526.27 482.37 526.27 480.70 526.20 C479.03 526.13 477.37 526.50 474.70 525.80 C472.03 525.10 467.20 523.63 464.70 522.00 C462.20 520.37 460.28 518.83 459.70 516.00 C459.12 513.17 460.67 509.50 461.20 505.00 C461.73 500.50 462.70 494.83 462.90 489.00 C463.10 483.17 462.10 476.50 462.40 470.00 C462.70 463.50 463.90 455.03 464.70 450.00 C465.50 444.97 466.12 442.63 467.20 439.80 C468.28 436.97 469.95 434.63 471.20 433.00 C472.45 431.37 473.45 430.77 474.70 430.00 C475.95 429.23 477.53 428.75 478.70 428.40 C479.87 428.05 480.87 427.98 481.70 427.90 C482.53 427.82 482.87 427.82 483.70 427.90Z" fill="#6a9fe0" fill-opacity="0.13" stroke="#5278ae" stroke-width="0.7"/>
<path d="M483.70 440.80 C484.70 440.92 486.37 440.97 487.70 441.50 C489.03 442.03 490.53 442.58 491.70 444.00 C492.87 445.42 493.95 447.40 494.70 450.00 C495.45 452.60 495.83 454.72 496.20 459.60 C496.57 464.48 497.15 474.90 496.90 479.30 C496.65 483.70 496.07 484.27 494.70 486.00 C493.33 487.73 490.53 488.98 488.70 489.70 C486.87 490.42 484.87 490.20 483.70 490.30 C482.53 490.40 482.87 490.40 481.70 490.30 C480.53 490.20 478.53 490.42 476.70 489.70 C474.87 488.98 472.07 487.73 470.70 486.00 C469.33 484.27 468.75 483.70 468.50 479.30 C468.25 474.90 468.83 464.48 469.20 459.60 C469.57 454.72 469.95 452.60 470.70 450.00 C471.45 447.40 472.53 445.42 473.70 444.00 C474.87 442.58 476.37 442.03 477.70 441.50 C479.03 440.97 480.70 440.92 481.70 440.80 C482.70 440.68 482.70 440.68 483.70 440.80Z" fill="#6a9fe0" fill-opacity="0.17" stroke="#5278ae" stroke-width="0.7"/>
<path d="M483.70 453.60 C484.37 453.72 485.03 453.73 485.70 454.30 C486.37 454.87 487.07 455.72 487.70 457.00 C488.33 458.28 489.00 459.83 489.50 462.00 C490.00 464.17 490.35 467.43 490.70 470.00 C491.05 472.57 491.93 475.65 491.60 477.40 C491.27 479.15 490.02 479.68 488.70 480.50 C487.38 481.32 484.87 482.00 483.70 482.30 C482.53 482.60 482.87 482.60 481.70 482.30 C480.53 482.00 478.02 481.32 476.70 480.50 C475.38 479.68 474.13 479.15 473.80 477.40 C473.47 475.65 474.35 472.57 474.70 470.00 C475.05 467.43 475.40 464.17 475.90 462.00 C476.40 459.83 477.07 458.28 477.70 457.00 C478.33 455.72 479.03 454.87 479.70 454.30 C480.37 453.73 481.03 453.72 481.70 453.60 C482.37 453.48 483.03 453.48 483.70 453.60Z" fill="#6a9fe0" fill-opacity="0.2" stroke="#5278ae" stroke-width="0.7"/>
<path d="M468.90 484.10a13.80 1.30 0 1 0 27.60 0a13.80 1.30 0 1 0 -27.60 0Z" fill="#7cc35a" fill-opacity="0.3" stroke="#3fa535" stroke-width="0.7"/>
<path d="M468.70 496.00a14.00 5.00 0 1 0 28.00 0a14.00 5.00 0 1 0 -28.00 0Z" fill="#6a9fe0" fill-opacity="0.12" stroke="#5278ae" stroke-width="0.6"/>
<path d="M485.93 493.00 C488.60 493.17 493.54 493.50 495.44 494.00 C497.34 494.50 496.56 495.17 497.33 496.00 C498.09 496.83 498.94 497.83 500.02 499.00 C501.09 500.17 502.95 501.50 503.77 503.00 C504.60 504.50 504.52 506.17 504.98 508.00 C505.44 509.83 507.86 512.50 506.53 514.00 C505.20 515.50 500.50 516.42 496.98 517.00 C493.46 517.58 488.28 517.42 485.40 517.50 C482.53 517.58 482.59 517.58 479.73 517.50 C476.86 517.42 471.53 517.58 468.24 517.00 C464.95 516.42 461.42 515.50 459.98 514.00 C458.55 512.50 459.50 509.83 459.62 508.00 C459.74 506.17 459.78 504.50 460.72 503.00 C461.67 501.50 464.05 500.17 465.30 499.00 C466.54 497.83 467.41 496.83 468.19 496.00 C468.96 495.17 468.08 494.50 469.96 494.00 C471.83 493.50 476.76 493.17 479.42 493.00 C482.08 492.83 483.26 492.83 485.93 493.00Z" fill="#7cc35a" fill-opacity="0.32" stroke="#3fa535" stroke-width="0.7"/>
<path d="M486.63 498.00 C489.37 498.17 492.53 498.17 494.73 499.00 C496.93 499.83 498.65 501.33 499.83 503.00 C501.01 504.67 502.13 507.17 501.80 509.00 C501.47 510.83 500.31 513.00 497.86 514.00 C495.41 515.00 490.30 514.83 487.08 515.00 C483.87 515.17 481.79 515.17 478.59 515.00 C475.40 514.83 470.44 515.00 467.93 514.00 C465.43 513.00 463.89 510.83 463.55 509.00 C463.21 507.17 464.79 504.67 465.92 503.00 C467.06 501.33 468.31 499.83 470.36 499.00 C472.42 498.17 475.56 498.17 478.27 498.00 C480.98 497.83 483.89 497.83 486.63 498.00Z" fill="#7cc35a" fill-opacity="0.25" stroke="#3fa535" stroke-width="0.7"/>
<path d="M459.50 518.20a23.20 8.60 0 1 0 46.40 0a23.20 8.60 0 1 0 -46.40 0Z" fill="#8fb8ea" fill-opacity="0.22" stroke="#4f80c4" stroke-width="0.55"/>
<path d="M462.90 517.90a19.80 7.50 0 1 0 39.60 0a19.80 7.50 0 1 0 -39.60 0Z" fill="#8fb8ea" fill-opacity="0.22" stroke="#4f80c4" stroke-width="0.55"/>
<path d="M466.30 517.60a16.40 6.40 0 1 0 32.80 0a16.40 6.40 0 1 0 -32.80 0Z" fill="#8fb8ea" fill-opacity="0.22" stroke="#4f80c4" stroke-width="0.55"/>
<path d="M469.70 517.30a13.00 5.30 0 1 0 26.00 0a13.00 5.30 0 1 0 -26.00 0Z" fill="#8fb8ea" fill-opacity="0.22" stroke="#4f80c4" stroke-width="0.55"/>
<path d="M473.10 517.00a9.60 4.20 0 1 0 19.20 0a9.60 4.20 0 1 0 -19.20 0Z" fill="#8fb8ea" fill-opacity="0.22" stroke="#4f80c4" stroke-width="0.55"/>
<path d="M476.50 516.70a6.20 3.10 0 1 0 12.40 0a6.20 3.10 0 1 0 -12.40 0Z" fill="#8fb8ea" fill-opacity="0.22" stroke="#4f80c4" stroke-width="0.55"/>
<path d="M460.10 514.20a22.60 6.80 0 1 0 45.20 0a22.60 6.80 0 1 0 -45.20 0Z" fill="#6db58a" fill-opacity="0.2" stroke="#3a9456" stroke-width="0.55"/>
<path d="M463.18 514.30a19.52 5.92 0 1 0 39.03 0a19.52 5.92 0 1 0 -39.03 0Z" fill="#6db58a" fill-opacity="0.2" stroke="#2c7a66" stroke-width="0.55"/>
<path d="M466.27 514.40a16.43 5.03 0 1 0 32.87 0a16.43 5.03 0 1 0 -32.87 0Z" fill="#2f8c74" fill-opacity="0.2" stroke="#3a9456" stroke-width="0.55"/>
<path d="M469.35 514.50a13.35 4.15 0 1 0 26.70 0a13.35 4.15 0 1 0 -26.70 0Z" fill="#2f8c74" fill-opacity="0.2" stroke="#2c7a66" stroke-width="0.55"/>
<path d="M472.43 514.60a10.27 3.27 0 1 0 20.53 0a10.27 3.27 0 1 0 -20.53 0Z" fill="#2f8c74" fill-opacity="0.2" stroke="#3a9456" stroke-width="0.55"/>
<path d="M475.52 514.70a7.18 2.38 0 1 0 14.37 0a7.18 2.38 0 1 0 -14.37 0Z" fill="#2f8c74" fill-opacity="0.2" stroke="#2c7a66" stroke-width="0.55"/>
<path d="M478.60 514.80a4.10 1.50 0 1 0 8.20 0a4.10 1.50 0 1 0 -8.20 0Z" fill="#2f8c74" fill-opacity="0.2" stroke="#3a9456" stroke-width="0.55"/>
<path d="M476.70 515.00a6.00 2.00 0 1 0 12.00 0a6.00 2.00 0 1 0 -12.00 0Z" fill="#1d6f6a" fill-opacity="0.55" stroke="#1d6f6a" stroke-width="0.4"/>
<path d="M400.17 489.50 C403.13 489.62 408.39 489.45 410.61 490.20 C412.83 490.95 412.47 492.37 413.52 494.00 C414.57 495.63 416.08 498.02 416.92 500.00 C417.76 501.98 418.19 503.90 418.55 505.90 C418.91 507.90 420.43 510.15 419.10 512.00 C417.77 513.85 413.77 516.08 410.59 517.00 C407.41 517.92 403.02 517.42 400.04 517.50 C397.05 517.58 395.70 517.58 392.70 517.50 C389.69 517.42 384.98 517.92 381.99 517.00 C378.99 516.08 375.81 513.85 374.72 512.00 C373.63 510.15 375.12 507.90 375.45 505.90 C375.77 503.90 375.75 501.98 376.66 500.00 C377.58 498.02 379.67 495.63 380.92 494.00 C382.18 492.37 382.21 490.95 384.20 490.20 C386.20 489.45 390.22 489.62 392.88 489.50 C395.54 489.38 397.22 489.38 400.17 489.50Z" fill="#7cc35a" fill-opacity="0.35" stroke="#3fa535" stroke-width="0.7"/>
<path d="M398.80 485.80 C400.30 485.92 402.55 485.80 403.80 486.50 C405.05 487.20 405.52 488.52 406.30 490.00 C407.08 491.48 407.83 493.33 408.50 495.40 C409.17 497.47 409.92 500.47 410.30 502.40 C410.68 504.33 411.72 505.73 410.80 507.00 C409.88 508.27 406.80 509.42 404.80 510.00 C402.80 510.58 400.47 510.42 398.80 510.50 C397.13 510.58 396.47 510.58 394.80 510.50 C393.13 510.42 390.80 510.58 388.80 510.00 C386.80 509.42 383.72 508.27 382.80 507.00 C381.88 505.73 382.92 504.33 383.30 502.40 C383.68 500.47 384.43 497.47 385.10 495.40 C385.77 493.33 386.52 491.48 387.30 490.00 C388.08 488.52 388.55 487.20 389.80 486.50 C391.05 485.80 393.30 485.92 394.80 485.80 C396.30 485.68 397.30 485.68 398.80 485.80Z" fill="#a9c8d0" fill-opacity="0.5" stroke="#6a9cc0" stroke-width="0.7"/>
<path d="M380.60 485.80a15.70 2.00 0 1 0 31.40 0a15.70 2.00 0 1 0 -31.40 0Z" fill="#7cc35a" fill-opacity="0.3" stroke="#3fa535" stroke-width="0.8"/>
<path d="M388.80 497.00a8.00 2.20 0 1 0 16.00 0a8.00 2.20 0 1 0 -16.00 0Z" fill="#c2d8d0" fill-opacity="0.4" stroke="#7fb09a" stroke-width="0.5"/>
<path d="M372.40 518.40a23.20 8.60 0 1 0 46.40 0a23.20 8.60 0 1 0 -46.40 0Z" fill="#8fb8ea" fill-opacity="0.22" stroke="#4f80c4" stroke-width="0.55"/>
<path d="M375.80 518.10a19.80 7.50 0 1 0 39.60 0a19.80 7.50 0 1 0 -39.60 0Z" fill="#8fb8ea" fill-opacity="0.22" stroke="#4f80c4" stroke-width="0.55"/>
<path d="M379.20 517.80a16.40 6.40 0 1 0 32.80 0a16.40 6.40 0 1 0 -32.80 0Z" fill="#8fb8ea" fill-opacity="0.22" stroke="#4f80c4" stroke-width="0.55"/>
<path d="M382.60 517.50a13.00 5.30 0 1 0 26.00 0a13.00 5.30 0 1 0 -26.00 0Z" fill="#8fb8ea" fill-opacity="0.22" stroke="#4f80c4" stroke-width="0.55"/>
<path d="M386.00 517.20a9.60 4.20 0 1 0 19.20 0a9.60 4.20 0 1 0 -19.20 0Z" fill="#8fb8ea" fill-opacity="0.22" stroke="#4f80c4" stroke-width="0.55"/>
<path d="M389.40 516.90a6.20 3.10 0 1 0 12.40 0a6.20 3.10 0 1 0 -12.40 0Z" fill="#8fb8ea" fill-opacity="0.22" stroke="#4f80c4" stroke-width="0.55"/>
<path d="M373.00 514.40a22.60 6.80 0 1 0 45.20 0a22.60 6.80 0 1 0 -45.20 0Z" fill="#6db58a" fill-opacity="0.2" stroke="#3a9456" stroke-width="0.55"/>
<path d="M376.08 514.50a19.52 5.92 0 1 0 39.03 0a19.52 5.92 0 1 0 -39.03 0Z" fill="#6db58a" fill-opacity="0.2" stroke="#2c7a66" stroke-width="0.55"/>
<path d="M379.17 514.60a16.43 5.03 0 1 0 32.87 0a16.43 5.03 0 1 0 -32.87 0Z" fill="#2f8c74" fill-opacity="0.2" stroke="#3a9456" stroke-width="0.55"/>
<path d="M382.25 514.70a13.35 4.15 0 1 0 26.70 0a13.35 4.15 0 1 0 -26.70 0Z" fill="#2f8c74" fill-opacity="0.2" stroke="#2c7a66" stroke-width="0.55"/>
<path d="M385.33 514.80a10.27 3.27 0 1 0 20.53 0a10.27 3.27 0 1 0 -20.53 0Z" fill="#2f8c74" fill-opacity="0.2" stroke="#3a9456" stroke-width="0.55"/>
<path d="M388.42 514.90a7.18 2.38 0 1 0 14.37 0a7.18 2.38 0 1 0 -14.37 0Z" fill="#2f8c74" fill-opacity="0.2" stroke="#2c7a66" stroke-width="0.55"/>
<path d="M391.50 515.00a4.10 1.50 0 1 0 8.20 0a4.10 1.50 0 1 0 -8.20 0Z" fill="#2f8c74" fill-opacity="0.2" stroke="#3a9456" stroke-width="0.55"/>
<path d="M389.60 515.20a6.00 2.00 0 1 0 12.00 0a6.00 2.00 0 1 0 -12.00 0Z" fill="#1d6f6a" fill-opacity="0.55" stroke="#1d6f6a" stroke-width="0.4"/>
<line x1="370.10" y1="423.60" x2="508.40" y2="423.60" stroke="#9a9a9a" stroke-width="1" />
<line x1="508.40" y1="423.60" x2="508.40" y2="529.80" stroke="#9a9a9a" stroke-width="1" />
<line x1="370.10" y1="423.60" x2="370.10" y2="529.80" stroke="#555" stroke-width="0.9" />
<line x1="370.10" y1="529.80" x2="508.40" y2="529.80" stroke="#555" stroke-width="0.9" />
<line x1="368.10" y1="521.00" x2="370.10" y2="521.00" stroke="#555" stroke-width="0.8" />
<text x="367.10" y="523.30" font-size="6.6" fill="#333333" text-anchor="end" font-weight="normal" >0</text>
<line x1="368.10" y1="472.49" x2="370.10" y2="472.49" stroke="#555" stroke-width="0.8" />
<text x="367.10" y="474.79" font-size="6.6" fill="#333333" text-anchor="end" font-weight="normal" >30</text>
<line x1="368.10" y1="423.98" x2="370.10" y2="423.98" stroke="#555" stroke-width="0.8" />
<text x="367.10" y="426.28" font-size="6.6" fill="#333333" text-anchor="end" font-weight="normal" >60</text>
<line x1="396.50" y1="529.80" x2="396.50" y2="531.80" stroke="#555" stroke-width="0.8" />
<text x="396.50" y="537.30" font-size="5.5" fill="#333333" text-anchor="middle" font-weight="normal" >0</text>
<line x1="482.00" y1="529.80" x2="482.00" y2="531.80" stroke="#555" stroke-width="0.8" />
<text x="482.00" y="537.30" font-size="5.5" fill="#333333" text-anchor="middle" font-weight="normal" >1</text>
<text x="377.70" y="542.50" font-size="9.8" fill="#231815" text-anchor="start" font-weight="normal" >Squeezed</text>
<text x="377.70" y="553.80" font-size="9.8" fill="#231815" text-anchor="start" font-weight="normal" >-cell ROI</text>
<text x="458.50" y="542.50" font-size="9.8" fill="#231815" text-anchor="start" font-weight="normal" >Blocked-</text>
<text x="458.50" y="553.80" font-size="9.8" fill="#231815" text-anchor="start" font-weight="normal" >cell ROI</text>
<text x="0" y="0" font-size="8.6" fill="#231815" text-anchor="middle" transform="translate(354.90,476.50) rotate(-90)">FL (arbitrary units)</text>
<defs><linearGradient id="gTopB" gradientUnits="userSpaceOnUse" x1="80" y1="128" x2="205" y2="128"><stop offset="0" stop-color="#7ba7c8"/><stop offset="0.5" stop-color="#b3cde1"/><stop offset="0.8" stop-color="#e3eef6"/><stop offset="1" stop-color="#f6fafc"/></linearGradient><linearGradient id="gTopF" gradientUnits="userSpaceOnUse" x1="30" y1="160" x2="158" y2="160"><stop offset="0" stop-color="#7ba7c8"/><stop offset="0.5" stop-color="#b3cde1"/><stop offset="0.8" stop-color="#e3eef6"/><stop offset="1" stop-color="#f6fafc"/></linearGradient><linearGradient id="gSide" gradientUnits="userSpaceOnUse" x1="30" y1="175" x2="190" y2="190"><stop offset="0" stop-color="#bcd3e4"/><stop offset="0.6" stop-color="#dde9f2"/><stop offset="1" stop-color="#f6f9fc"/></linearGradient><linearGradient id="gFloor" gradientUnits="userSpaceOnUse" x1="60" y1="150" x2="185" y2="150"><stop offset="0" stop-color="#bfd5e6"/><stop offset="0.7" stop-color="#e6eff6"/><stop offset="1" stop-color="#f8fbfd"/></linearGradient><linearGradient id="gTrap" x1="0" y1="0" x2="1" y2="1"><stop offset="0" stop-color="#84a7c4"/><stop offset="1" stop-color="#bfcbd6"/></linearGradient><radialGradient id="gCell" cx="0.5" cy="0.5" r="0.5"><stop offset="0" stop-color="#e98a8f"/><stop offset="0.85" stop-color="#ee9da0"/><stop offset="1" stop-color="#eaa0a3"/></radialGradient><radialGradient id="gCellI" cx="0.5" cy="0.5" r="0.5"><stop offset="0" stop-color="#f5d5b0"/><stop offset="1" stop-color="#f7e1c3"/></radialGradient></defs>
<path d="M52.0 156.5 L77.8 145.8 L189.3 194.9 L189.3 196.0 L161.6 206.5Z" fill="url(#gFloor)"/>
<path d="M77.8 136.0 L98.8 120.8 L211.2 171.1 L189.3 185.1Z" fill="url(#gTopB)"/>
<path d="M77.8 136.0 L189.3 185.1 L189.3 195.1 L77.8 145.8Z" fill="url(#gSide)"/>
<path d="M189.3 185.1 L211.2 171.1 L211.2 181.1 L189.3 195.1Z" fill="#d6e5f0"/>
<path d="M62.3 153.5 L66.0 151.5 L77.0 157.4 L77.0 162.6 L74.1 164.6 L62.3 160.7Z" fill="url(#gTrap)" stroke="#a9bccb" stroke-width="0.5"/>
<path d="M66.0 153.5 L75.5 158.7 L75.5 161.3 L66.0 156.7Z" fill="#7d9db8" opacity="0.6"/>
<path d="M94.5 155.2 L100.0 153.0 L116.4 159.6 L116.4 165.4 L112.0 167.6 L94.5 163.2Z" fill="url(#gTrap)" stroke="#a9bccb" stroke-width="0.5"/>
<path d="M100.0 155.2 L114.2 161.0 L114.2 163.9 L100.0 158.8Z" fill="#7d9db8" opacity="0.6"/>
<path d="M127.4 182.7 L131.2 180.7 L142.6 186.6 L142.6 191.8 L139.6 193.8 L127.4 189.9Z" fill="url(#gTrap)" stroke="#a9bccb" stroke-width="0.5"/>
<path d="M131.2 182.7 L141.1 187.9 L141.1 190.5 L131.2 185.9Z" fill="#7d9db8" opacity="0.6"/>
<path d="M164.5 185.8 L170.0 183.6 L186.4 190.2 L186.4 196.0 L182.0 198.2 L164.5 193.8Z" fill="url(#gTrap)" stroke="#a9bccb" stroke-width="0.5"/>
<path d="M170.0 185.8 L184.2 191.6 L184.2 194.5 L170.0 189.4Z" fill="#7d9db8" opacity="0.6"/>
<path d="M28.2 170.5 L49.2 155.3 L161.6 205.5 L139.7 220.1Z" fill="url(#gTopF)"/>
<path d="M28.2 170.5 L139.7 220.1 L139.7 229.4 L28.2 179.6Z" fill="url(#gSide)"/>
<path d="M139.7 220.1 L161.6 205.5 L161.6 214.8 L139.7 229.4Z" fill="#d3e2ee"/>
<g transform="translate(10.8,69) rotate(60.06)"><line x1="78" y1="0" x2="94.5" y2="0" stroke="#a9b1b5" stroke-width="1.3"/><line x1="78" y1="-0.2" x2="94.5" y2="-0.2" stroke="#d5dadd" stroke-width="0.4"/><rect x="1.0" y="-2.0" width="22" height="4.0" fill="#e4e4e4" stroke="#a0a0a0" stroke-width="0.6"/><path d="M1 -2.6 L8 -1.8 L8 1.8 L1 2.6Z" fill="#efefef" stroke="#a0a0a0" stroke-width="0.5"/><rect x="-1.4" y="-5.0" width="2.8" height="10" rx="1.4" fill="#f0f0f0" stroke="#9a9a9a" stroke-width="0.6"/><rect x="22" y="-4.5" width="46.5" height="9.0" fill="#ebebeb" stroke="#8f8f8f" stroke-width="0.6"/><rect x="26" y="-3.6" width="20" height="2.2" fill="#f8f8f8" opacity="0.8"/><rect x="49.8" y="-4.5" width="18.7" height="9.0" fill="#c3def1" stroke="#8fa6b8" stroke-width="0.6"/><rect x="47" y="-4.5" width="2.9" height="9.0" fill="#2a2a2a"/><rect x="21.5" y="-7.4" width="3.4" height="14.8" rx="1.6" fill="#eeeeee" stroke="#9a9a9a" stroke-width="0.6"/><path d="M68.5 -1.9 L78.5 -1.3 L78.5 1.3 L68.5 1.9Z" fill="#4ba68b" stroke="#3d8a72" stroke-width="0.4"/><rect x="70" y="-1.0" width="7" height="0.8" fill="#9fd3c2" opacity="0.8"/></g>
<path d="M97.1 3.4 H200 Q216.5 3.4 216.5 20 V100 Q216.5 117.8 199 117.8 H88 L42 111 L68 33 C73 12 84 3.4 97.1 3.4" fill="none" stroke="#6d6e71" stroke-width="2.8" stroke-dasharray="8.2 8.8"/>
<path d="M73.3 30 V92 C73.3 104 77 112 87 117.6" fill="none" stroke="#6d6e71" stroke-width="2.8" stroke-dasharray="8.2 8.8" stroke-dashoffset="1"/>
<path d="M121.44 24.40 C121.34 25.00 121.26 25.53 121.47 26.18 C121.68 26.82 122.88 27.72 122.69 28.28 C122.50 28.84 120.81 29.03 120.34 29.52 C119.88 30.02 120.01 30.63 119.90 31.24 C119.79 31.85 119.90 32.62 119.67 33.18 C119.43 33.73 118.75 33.99 118.47 34.59 C118.20 35.18 118.48 36.33 118.03 36.73 C117.58 37.14 116.39 36.81 115.76 37.01 C115.13 37.22 114.64 37.45 114.22 37.97 C113.81 38.49 113.81 39.84 113.28 40.14 C112.75 40.44 111.70 39.59 111.07 39.75 C110.44 39.90 110.09 40.92 109.51 41.07 C108.92 41.23 108.17 40.74 107.53 40.66 C106.90 40.59 106.31 40.64 105.70 40.62 C105.09 40.59 104.47 40.63 103.88 40.51 C103.30 40.39 102.74 40.07 102.16 39.90 C101.59 39.72 101.12 39.38 100.43 39.45 C99.74 39.52 98.54 40.63 98.03 40.33 C97.52 40.03 97.81 38.15 97.38 37.64 C96.95 37.13 95.95 37.58 95.43 37.27 C94.92 36.97 94.67 36.29 94.30 35.80 C93.92 35.32 93.52 34.88 93.19 34.38 C92.85 33.89 92.61 33.33 92.28 32.83 C91.95 32.33 91.52 31.89 91.21 31.38 C90.90 30.86 90.67 30.30 90.43 29.74 C90.18 29.19 90.10 28.60 89.75 28.04 C89.41 27.47 88.41 26.96 88.34 26.36 C88.27 25.75 89.16 25.03 89.34 24.40 C89.52 23.77 89.31 23.16 89.40 22.56 C89.49 21.96 89.74 21.38 89.89 20.79 C90.04 20.20 90.22 19.64 90.28 19.01 C90.35 18.37 90.05 17.54 90.31 16.99 C90.57 16.44 91.32 16.08 91.85 15.70 C92.39 15.31 93.23 15.26 93.51 14.68 C93.79 14.10 93.14 12.67 93.53 12.23 C93.92 11.79 95.39 12.52 95.85 12.05 C96.31 11.59 95.92 9.99 96.30 9.44 C96.68 8.88 97.47 8.77 98.14 8.71 C98.82 8.65 99.69 9.14 100.34 9.09 C101.00 9.04 101.46 8.53 102.05 8.43 C102.65 8.33 103.30 8.69 103.91 8.50 C104.52 8.31 105.08 7.52 105.70 7.29 C106.32 7.06 107.07 6.81 107.65 7.11 C108.23 7.41 108.56 8.95 109.19 9.10 C109.83 9.24 110.91 7.75 111.45 7.97 C111.99 8.18 112.00 9.89 112.44 10.40 C112.89 10.90 113.53 10.81 114.11 11.01 C114.69 11.21 115.44 11.23 115.92 11.58 C116.40 11.93 116.59 12.66 116.99 13.11 C117.39 13.57 117.94 13.88 118.32 14.33 C118.71 14.79 118.93 15.37 119.30 15.86 C119.66 16.34 120.27 16.72 120.51 17.27 C120.75 17.81 120.65 18.53 120.74 19.14 C120.83 19.74 120.82 20.33 121.04 20.90 C121.27 21.47 122.01 21.97 122.07 22.56 C122.14 23.14 121.54 23.80 121.44 24.40Z" fill="#e68d92"/>
<path d="M121.34 24.40 C121.27 25.19 120.74 25.98 120.45 26.74 C120.16 27.49 119.73 28.12 119.60 28.92 C119.47 29.72 119.97 30.80 119.69 31.53 C119.41 32.26 118.47 32.68 117.92 33.28 C117.37 33.87 116.96 34.54 116.41 35.11 C115.86 35.67 115.25 36.19 114.61 36.67 C113.98 37.14 113.31 37.60 112.61 37.96 C111.90 38.31 111.14 38.62 110.38 38.80 C109.61 38.98 108.80 38.91 108.02 39.02 C107.24 39.13 106.47 39.46 105.70 39.47 C104.93 39.49 104.14 39.26 103.37 39.11 C102.60 38.96 101.83 38.81 101.10 38.57 C100.36 38.32 99.75 37.85 98.96 37.62 C98.18 37.39 97.05 37.63 96.40 37.20 C95.75 36.77 95.51 35.72 95.05 35.05 C94.60 34.37 94.18 33.75 93.69 33.13 C93.20 32.51 92.45 32.02 92.12 31.32 C91.78 30.63 92.00 29.70 91.67 28.96 C91.34 28.22 90.27 27.62 90.14 26.87 C90.00 26.11 90.76 25.21 90.84 24.40 C90.92 23.59 90.66 22.83 90.62 22.01 C90.58 21.19 90.29 20.22 90.59 19.49 C90.90 18.76 92.00 18.33 92.45 17.65 C92.91 16.97 92.92 16.09 93.32 15.40 C93.71 14.71 94.29 14.13 94.82 13.52 C95.36 12.92 95.86 12.21 96.52 11.76 C97.18 11.31 98.01 11.05 98.78 10.82 C99.55 10.59 100.39 10.62 101.14 10.37 C101.90 10.13 102.56 9.55 103.32 9.34 C104.07 9.14 104.92 9.07 105.70 9.15 C106.48 9.24 107.22 9.75 108.00 9.88 C108.78 10.00 109.67 9.70 110.41 9.91 C111.15 10.12 111.78 10.74 112.45 11.14 C113.13 11.55 113.73 11.99 114.48 12.32 C115.23 12.65 116.46 12.55 116.97 13.13 C117.47 13.71 117.12 15.10 117.51 15.82 C117.91 16.54 118.94 16.79 119.34 17.45 C119.74 18.11 119.66 19.02 119.92 19.78 C120.17 20.54 120.62 21.23 120.85 22.00 C121.09 22.77 121.41 23.61 121.34 24.40Z" fill="#eea2a3"/>
<circle cx="103.7" cy="22.4" r="9.6" fill="#f2b0ae" opacity="0.5"/>
<path d="M116.1 26.6 L112.4 33.0 L105.2 33.0 L101.5 26.6 L105.2 20.2 L112.4 20.2Z" fill="#c8616e"/>
<path d="M206.65 25.60 C206.54 26.23 206.60 26.85 206.46 27.45 C206.32 28.05 205.78 28.55 205.78 29.20 C205.78 29.85 206.60 30.76 206.45 31.36 C206.29 31.95 205.06 32.12 204.86 32.75 C204.66 33.39 205.54 34.63 205.25 35.18 C204.96 35.74 203.70 35.69 203.14 36.08 C202.58 36.46 202.34 37.05 201.90 37.50 C201.45 37.94 201.05 38.47 200.47 38.73 C199.90 39.00 199.05 38.85 198.47 39.07 C197.88 39.30 197.47 39.72 196.97 40.08 C196.47 40.44 196.03 41.00 195.47 41.23 C194.91 41.47 194.23 41.38 193.63 41.50 C193.03 41.63 192.45 41.97 191.85 42.01 C191.24 42.05 190.61 41.77 190.00 41.75 C189.39 41.73 188.82 41.71 188.17 41.87 C187.52 42.03 186.69 42.84 186.09 42.71 C185.50 42.58 185.08 41.55 184.57 41.11 C184.06 40.67 183.61 40.29 183.03 40.08 C182.44 39.87 181.76 39.91 181.05 39.84 C180.34 39.78 179.22 40.12 178.76 39.69 C178.31 39.27 178.52 37.98 178.31 37.29 C178.11 36.60 177.86 36.06 177.53 35.54 C177.20 35.03 176.68 34.68 176.31 34.20 C175.94 33.73 175.84 33.13 175.29 32.68 C174.75 32.24 173.38 32.08 173.03 31.54 C172.68 31.00 173.22 30.11 173.18 29.44 C173.14 28.77 172.79 28.18 172.78 27.54 C172.78 26.90 172.90 26.22 173.13 25.60 C173.35 24.98 173.94 24.41 174.11 23.81 C174.29 23.21 174.10 22.59 174.19 21.99 C174.28 21.40 174.50 20.82 174.66 20.23 C174.82 19.64 174.86 18.98 175.15 18.45 C175.43 17.91 175.99 17.51 176.38 17.04 C176.76 16.57 177.16 16.14 177.47 15.61 C177.78 15.08 177.96 14.44 178.25 13.85 C178.54 13.26 178.71 12.43 179.23 12.09 C179.74 11.75 180.75 12.07 181.34 11.82 C181.93 11.57 182.24 10.90 182.76 10.57 C183.29 10.24 183.88 9.98 184.48 9.84 C185.08 9.69 185.75 9.77 186.37 9.68 C186.98 9.59 187.56 9.37 188.16 9.31 C188.77 9.24 189.39 9.27 190.00 9.28 C190.61 9.29 191.22 9.29 191.83 9.34 C192.44 9.39 193.08 9.38 193.66 9.58 C194.23 9.77 194.70 10.31 195.28 10.52 C195.85 10.74 196.47 10.75 197.08 10.89 C197.70 11.03 198.39 11.08 198.96 11.34 C199.52 11.61 200.06 12.00 200.47 12.47 C200.89 12.94 201.09 13.65 201.43 14.17 C201.77 14.70 202.09 15.17 202.53 15.61 C202.96 16.05 203.61 16.33 204.02 16.79 C204.44 17.25 204.76 17.80 205.04 18.36 C205.32 18.91 205.61 19.49 205.70 20.11 C205.79 20.72 205.37 21.44 205.60 22.04 C205.83 22.63 206.92 23.08 207.10 23.67 C207.27 24.27 206.75 24.97 206.65 25.60Z" fill="#e68d92"/>
<path d="M206.22 25.60 C206.31 26.40 205.60 27.21 205.48 28.05 C205.36 28.89 205.86 29.91 205.51 30.64 C205.16 31.37 203.93 31.78 203.38 32.42 C202.83 33.06 202.61 33.78 202.21 34.47 C201.81 35.17 201.48 35.94 200.99 36.59 C200.50 37.23 199.87 37.77 199.26 38.35 C198.66 38.93 198.11 39.72 197.37 40.07 C196.63 40.42 195.63 40.20 194.82 40.45 C194.02 40.70 193.33 41.45 192.53 41.57 C191.73 41.70 190.81 41.38 190.00 41.20 C189.19 41.01 188.44 40.61 187.65 40.46 C186.85 40.31 186.03 40.43 185.23 40.29 C184.42 40.16 183.52 40.07 182.83 39.67 C182.14 39.27 181.71 38.40 181.07 37.90 C180.42 37.39 179.54 37.18 178.97 36.63 C178.39 36.08 178.06 35.27 177.63 34.59 C177.20 33.91 176.71 33.26 176.39 32.54 C176.06 31.81 176.00 31.00 175.67 30.26 C175.34 29.51 174.73 28.84 174.42 28.07 C174.10 27.29 173.76 26.42 173.80 25.60 C173.84 24.78 174.40 23.97 174.64 23.17 C174.88 22.37 174.95 21.56 175.22 20.80 C175.50 20.04 176.03 19.41 176.29 18.61 C176.55 17.82 176.29 16.62 176.80 16.01 C177.31 15.40 178.68 15.46 179.34 14.94 C180.00 14.42 180.14 13.37 180.75 12.87 C181.37 12.37 182.27 12.20 183.03 11.92 C183.79 11.64 184.55 11.41 185.32 11.19 C186.09 10.98 186.85 10.77 187.63 10.63 C188.41 10.49 189.20 10.41 190.00 10.35 C190.80 10.28 191.65 10.11 192.43 10.24 C193.22 10.37 193.95 10.83 194.71 11.11 C195.46 11.39 196.23 11.61 196.96 11.94 C197.69 12.27 198.39 12.67 199.09 13.09 C199.79 13.50 200.59 13.87 201.15 14.45 C201.71 15.02 202.06 15.84 202.45 16.56 C202.83 17.27 203.14 18.01 203.49 18.73 C203.83 19.45 204.27 20.13 204.51 20.89 C204.75 21.64 204.64 22.45 204.93 23.24 C205.21 24.02 206.13 24.80 206.22 25.60Z" fill="#eea2a3"/>
<circle cx="188.0" cy="23.6" r="9.8" fill="#f2b0ae" opacity="0.5"/>
<path d="M198.54 30.13 C198.11 31.09 197.35 32.10 196.50 32.72 C195.65 33.34 194.51 33.61 193.44 33.85 C192.38 34.09 191.16 34.38 190.11 34.15 C189.05 33.92 187.89 33.24 187.12 32.46 C186.34 31.69 185.80 30.53 185.44 29.49 C185.09 28.45 184.96 27.32 184.98 26.22 C185.00 25.13 185.13 23.92 185.58 22.91 C186.04 21.91 186.81 20.78 187.70 20.20 C188.60 19.62 189.88 19.61 190.97 19.44 C192.06 19.27 193.18 18.99 194.26 19.18 C195.33 19.37 196.64 19.84 197.40 20.60 C198.17 21.36 198.57 22.69 198.85 23.75 C199.13 24.81 199.14 25.90 199.09 26.96 C199.04 28.02 198.97 29.17 198.54 30.13Z" fill="#4b8ec6"/>
<path d="M121.73 80.60 C121.57 81.22 122.04 81.80 122.07 82.41 C122.11 83.02 122.15 83.68 121.94 84.24 C121.73 84.80 121.11 85.25 120.81 85.78 C120.51 86.31 120.29 86.82 120.13 87.41 C119.97 87.99 120.15 88.80 119.85 89.30 C119.55 89.81 118.76 90.01 118.32 90.42 C117.87 90.84 117.41 91.13 117.18 91.78 C116.95 92.43 117.41 93.97 116.93 94.30 C116.45 94.64 114.98 93.72 114.30 93.80 C113.62 93.89 113.35 94.50 112.85 94.83 C112.35 95.16 111.88 95.63 111.31 95.78 C110.74 95.93 110.04 95.61 109.45 95.72 C108.86 95.83 108.36 96.34 107.78 96.44 C107.21 96.53 106.60 96.22 106.00 96.31 C105.40 96.40 104.80 96.75 104.16 96.95 C103.51 97.15 102.70 97.75 102.14 97.51 C101.58 97.27 101.28 95.96 100.79 95.49 C100.30 95.02 99.93 94.65 99.23 94.67 C98.52 94.68 97.16 95.80 96.58 95.59 C96.00 95.39 96.10 94.04 95.75 93.45 C95.40 92.87 94.84 92.61 94.49 92.11 C94.14 91.61 94.01 90.93 93.65 90.45 C93.29 89.96 92.63 89.70 92.32 89.19 C92.01 88.69 92.11 87.97 91.80 87.44 C91.49 86.91 90.91 86.53 90.46 86.04 C90.01 85.54 89.16 85.07 89.10 84.46 C89.04 83.85 89.99 83.03 90.11 82.39 C90.22 81.75 90.01 81.22 89.78 80.60 C89.55 79.98 88.66 79.25 88.74 78.66 C88.82 78.06 89.85 77.55 90.26 77.01 C90.67 76.47 91.20 76.08 91.20 75.42 C91.20 74.76 90.31 73.74 90.27 73.03 C90.24 72.32 90.43 71.55 90.99 71.17 C91.54 70.78 93.02 71.05 93.62 70.73 C94.23 70.40 94.23 69.68 94.62 69.22 C95.00 68.76 95.55 68.49 95.93 67.98 C96.31 67.46 96.34 66.34 96.90 66.11 C97.45 65.88 98.62 66.72 99.25 66.57 C99.87 66.43 100.11 65.56 100.63 65.26 C101.16 64.96 101.79 64.82 102.39 64.77 C102.99 64.71 103.63 65.24 104.23 64.93 C104.84 64.63 105.41 62.97 106.00 62.93 C106.59 62.89 107.19 64.39 107.79 64.70 C108.40 65.00 109.05 64.58 109.62 64.74 C110.19 64.90 110.67 65.42 111.23 65.66 C111.79 65.89 112.43 65.89 112.96 66.15 C113.49 66.40 113.97 66.80 114.43 67.18 C114.90 67.55 115.15 68.15 115.73 68.39 C116.32 68.64 117.45 68.31 117.95 68.65 C118.45 68.99 118.32 69.96 118.73 70.45 C119.13 70.94 120.11 71.02 120.38 71.56 C120.65 72.10 120.17 73.09 120.34 73.69 C120.51 74.30 120.96 74.71 121.40 75.21 C121.84 75.72 122.67 76.15 122.96 76.73 C123.24 77.31 123.29 78.03 123.09 78.67 C122.89 79.32 121.90 79.98 121.73 80.60Z" fill="#e68d92"/>
<path d="M121.02 80.60 C121.00 81.37 120.58 82.09 120.58 82.91 C120.58 83.72 121.22 84.72 121.05 85.49 C120.88 86.26 120.02 86.83 119.58 87.52 C119.14 88.21 118.92 89.01 118.43 89.63 C117.94 90.25 117.23 90.70 116.64 91.24 C116.05 91.77 115.51 92.34 114.88 92.82 C114.25 93.30 113.57 93.71 112.88 94.10 C112.19 94.48 111.48 94.91 110.72 95.14 C109.97 95.37 109.15 95.49 108.36 95.50 C107.57 95.51 106.79 95.19 106.00 95.20 C105.21 95.21 104.41 95.60 103.63 95.54 C102.86 95.49 102.08 95.18 101.36 94.88 C100.64 94.58 99.96 94.15 99.30 93.75 C98.64 93.34 98.07 92.85 97.40 92.44 C96.74 92.03 95.91 91.79 95.31 91.29 C94.71 90.79 94.40 90.03 93.82 89.45 C93.24 88.87 92.21 88.51 91.82 87.82 C91.44 87.13 91.56 86.13 91.51 85.31 C91.46 84.49 91.69 83.67 91.54 82.89 C91.39 82.11 90.68 81.37 90.61 80.60 C90.55 79.83 90.94 79.01 91.15 78.25 C91.36 77.48 91.73 76.81 91.87 76.01 C92.00 75.21 91.67 74.18 91.96 73.45 C92.26 72.71 93.10 72.23 93.63 71.61 C94.16 71.00 94.58 70.30 95.15 69.75 C95.72 69.20 96.42 68.77 97.07 68.31 C97.72 67.85 98.38 67.39 99.08 67.02 C99.78 66.64 100.52 66.30 101.28 66.06 C102.03 65.82 102.83 65.71 103.62 65.58 C104.41 65.46 105.22 65.22 106.00 65.31 C106.78 65.40 107.54 65.90 108.29 66.12 C109.05 66.33 109.79 66.43 110.55 66.59 C111.32 66.75 112.18 66.77 112.88 67.09 C113.59 67.41 114.18 68.01 114.78 68.52 C115.38 69.02 115.91 69.58 116.50 70.10 C117.08 70.63 117.86 71.03 118.30 71.66 C118.74 72.30 118.78 73.20 119.14 73.91 C119.49 74.61 120.17 75.18 120.43 75.91 C120.70 76.64 120.62 77.49 120.71 78.27 C120.81 79.05 121.04 79.83 121.02 80.60Z" fill="#eea2a3"/>
<circle cx="104.0" cy="78.6" r="9.6" fill="#f2b0ae" opacity="0.5"/>
<path d="M115.9 81.8 L112.2 88.2 L105.0 88.2 L101.3 81.8 L105.0 75.4 L112.2 75.4Z" fill="#c8616e"/>
<path d="M203.40 78.70 C203.38 79.32 202.53 79.86 202.70 80.55 C202.87 81.24 204.28 82.14 204.42 82.84 C204.56 83.53 203.85 84.12 203.54 84.73 C203.22 85.34 202.83 85.90 202.53 86.51 C202.22 87.12 202.09 87.83 201.71 88.38 C201.33 88.94 200.84 89.47 200.24 89.82 C199.63 90.17 198.55 90.01 198.09 90.49 C197.62 90.96 197.90 92.24 197.44 92.66 C196.97 93.09 195.83 92.60 195.32 93.05 C194.80 93.50 194.90 95.10 194.33 95.37 C193.76 95.64 192.61 94.75 191.88 94.65 C191.16 94.56 190.57 94.49 189.98 94.81 C189.38 95.14 188.93 96.25 188.32 96.61 C187.70 96.97 186.96 97.12 186.30 96.97 C185.64 96.83 185.05 95.85 184.38 95.71 C183.72 95.58 182.94 96.30 182.31 96.17 C181.68 96.05 181.20 95.28 180.61 94.96 C180.02 94.64 179.40 94.53 178.80 94.28 C178.20 94.03 177.52 93.87 177.03 93.46 C176.53 93.05 176.35 92.22 175.86 91.80 C175.36 91.38 174.68 91.24 174.06 90.94 C173.43 90.65 172.50 90.53 172.11 90.01 C171.73 89.50 172.15 88.40 171.75 87.84 C171.35 87.29 170.11 87.22 169.73 86.68 C169.35 86.14 169.63 85.25 169.47 84.59 C169.31 83.93 168.72 83.37 168.78 82.70 C168.84 82.03 169.83 81.22 169.85 80.55 C169.87 79.89 169.05 79.33 168.90 78.70 C168.75 78.07 168.85 77.39 168.94 76.74 C169.02 76.10 169.48 75.56 169.43 74.85 C169.38 74.14 168.32 73.08 168.61 72.51 C168.90 71.94 170.86 72.04 171.16 71.41 C171.46 70.78 170.09 69.26 170.43 68.73 C170.76 68.20 172.48 68.53 173.17 68.23 C173.86 67.93 174.11 67.40 174.55 66.95 C174.99 66.50 175.51 66.22 175.80 65.54 C176.10 64.85 175.83 63.24 176.34 62.84 C176.84 62.45 178.11 63.25 178.82 63.17 C179.53 63.08 179.97 62.58 180.57 62.34 C181.17 62.09 181.78 61.79 182.42 61.71 C183.06 61.64 183.76 61.94 184.41 61.89 C185.05 61.84 185.65 61.61 186.30 61.42 C186.95 61.23 187.68 60.66 188.32 60.74 C188.96 60.83 189.52 61.63 190.13 61.91 C190.74 62.20 191.30 62.40 191.98 62.46 C192.67 62.51 193.54 62.13 194.23 62.22 C194.93 62.32 195.71 62.49 196.15 63.03 C196.59 63.56 196.34 65.00 196.88 65.43 C197.41 65.87 198.95 65.16 199.37 65.63 C199.78 66.11 199.14 67.61 199.39 68.26 C199.63 68.92 200.39 69.10 200.81 69.58 C201.24 70.06 201.63 70.60 201.95 71.16 C202.27 71.72 202.59 72.32 202.72 72.95 C202.85 73.59 202.70 74.31 202.71 74.95 C202.72 75.60 202.65 76.22 202.77 76.84 C202.88 77.47 203.41 78.08 203.40 78.70Z" fill="#f0c89c"/>
<path d="M203.26 78.70 C203.34 79.56 203.09 80.50 202.75 81.31 C202.41 82.11 201.51 82.73 201.20 83.54 C200.89 84.35 201.27 85.41 200.91 86.14 C200.54 86.88 199.49 87.22 199.02 87.94 C198.55 88.67 198.66 89.90 198.09 90.49 C197.51 91.07 196.35 91.09 195.58 91.47 C194.81 91.85 194.19 92.36 193.46 92.76 C192.74 93.15 192.00 93.55 191.22 93.86 C190.45 94.16 189.64 94.34 188.82 94.59 C188.00 94.83 187.15 95.29 186.30 95.33 C185.45 95.37 184.61 94.94 183.74 94.84 C182.88 94.74 181.85 95.11 181.09 94.74 C180.33 94.36 179.88 93.16 179.21 92.62 C178.53 92.07 177.70 91.92 177.04 91.45 C176.37 90.98 175.80 90.36 175.22 89.78 C174.64 89.20 174.08 88.60 173.54 87.97 C172.99 87.35 172.40 86.72 171.96 86.01 C171.52 85.29 171.11 84.51 170.88 83.71 C170.66 82.91 170.81 82.02 170.62 81.18 C170.43 80.35 169.81 79.54 169.74 78.70 C169.68 77.86 170.05 76.99 170.23 76.16 C170.42 75.32 170.55 74.47 170.84 73.68 C171.14 72.89 171.70 72.23 172.02 71.42 C172.33 70.61 172.21 69.49 172.72 68.84 C173.23 68.18 174.34 67.94 175.07 67.47 C175.80 67.01 176.45 66.57 177.10 66.03 C177.74 65.50 178.25 64.72 178.95 64.28 C179.65 63.83 180.51 63.56 181.32 63.37 C182.13 63.18 183.00 63.30 183.83 63.12 C184.66 62.95 185.46 62.43 186.30 62.30 C187.14 62.18 188.04 62.22 188.89 62.36 C189.73 62.50 190.55 62.83 191.36 63.13 C192.17 63.42 192.97 63.74 193.72 64.14 C194.47 64.53 195.22 64.98 195.88 65.51 C196.54 66.04 197.11 66.70 197.68 67.32 C198.24 67.95 198.73 68.62 199.27 69.28 C199.80 69.94 200.44 70.55 200.88 71.27 C201.31 72.00 201.62 72.83 201.86 73.64 C202.10 74.46 202.08 75.32 202.32 76.16 C202.55 77.01 203.19 77.84 203.26 78.70Z" fill="#f8dcb9"/>
<circle cx="184.3" cy="76.7" r="10.2" fill="#fae4c6" opacity="0.5"/>
<path d="M195.62 84.97 C195.17 86.01 194.15 87.10 193.17 87.64 C192.19 88.18 190.88 88.00 189.74 88.21 C188.59 88.41 187.30 89.19 186.31 88.88 C185.33 88.58 184.54 87.23 183.84 86.37 C183.15 85.51 182.65 84.69 182.13 83.73 C181.62 82.77 180.75 81.64 180.76 80.60 C180.78 79.56 181.64 78.46 182.21 77.49 C182.77 76.53 183.32 75.50 184.15 74.80 C184.97 74.11 186.15 73.41 187.18 73.33 C188.22 73.24 189.28 74.00 190.36 74.29 C191.44 74.58 192.87 74.41 193.65 75.06 C194.44 75.70 194.72 77.12 195.09 78.18 C195.46 79.23 195.76 80.25 195.85 81.38 C195.94 82.52 196.07 83.93 195.62 84.97Z" fill="#d9a47e"/>
<circle cx="185.0" cy="68.6" r="1.45" fill="#22a83a"/>
<circle cx="197.5" cy="72.0" r="1.45" fill="#22a83a"/>
<circle cx="178.0" cy="75.2" r="1.45" fill="#22a83a"/>
<circle cx="190.3" cy="92.1" r="1.45" fill="#22a83a"/>
<circle cx="142" cy="65.6" r="2.4" fill="#22a83a"/>
<circle cx="150.3" cy="69.6" r="2.4" fill="#22a83a"/>
<circle cx="143.6" cy="74.1" r="2.2" fill="#22a83a"/>
<path d="M129 27.4 H163" stroke="#231815" stroke-width="2.3" fill="none"/>
<path d="M152.6 21.299999999999997 L163.8 27.4 L152.6 33.5" stroke="#231815" stroke-width="2.1" fill="none"/>
<path d="M129 79.7 H163" stroke="#231815" stroke-width="2.3" fill="none"/>
<path d="M152.6 73.60000000000001 L163.8 79.7 L152.6 85.8" stroke="#231815" stroke-width="2.1" fill="none"/>
<text x="145.60" y="20.20" font-size="8.4" fill="#231815" text-anchor="middle" font-weight="normal" >Hoechst</text>
<text x="146.40" y="92.70" font-size="8.4" fill="#231815" text-anchor="middle" font-weight="normal" >DiO/bac</text>
<text x="78.20" y="53.60" font-size="11.3" fill="#231815" text-anchor="start" font-weight="normal" >Native cells</text>
<text x="82.60" y="107.80" font-size="11.3" fill="#231815" text-anchor="start" font-weight="normal" >Infected cells</text>
</svg></body></html>
